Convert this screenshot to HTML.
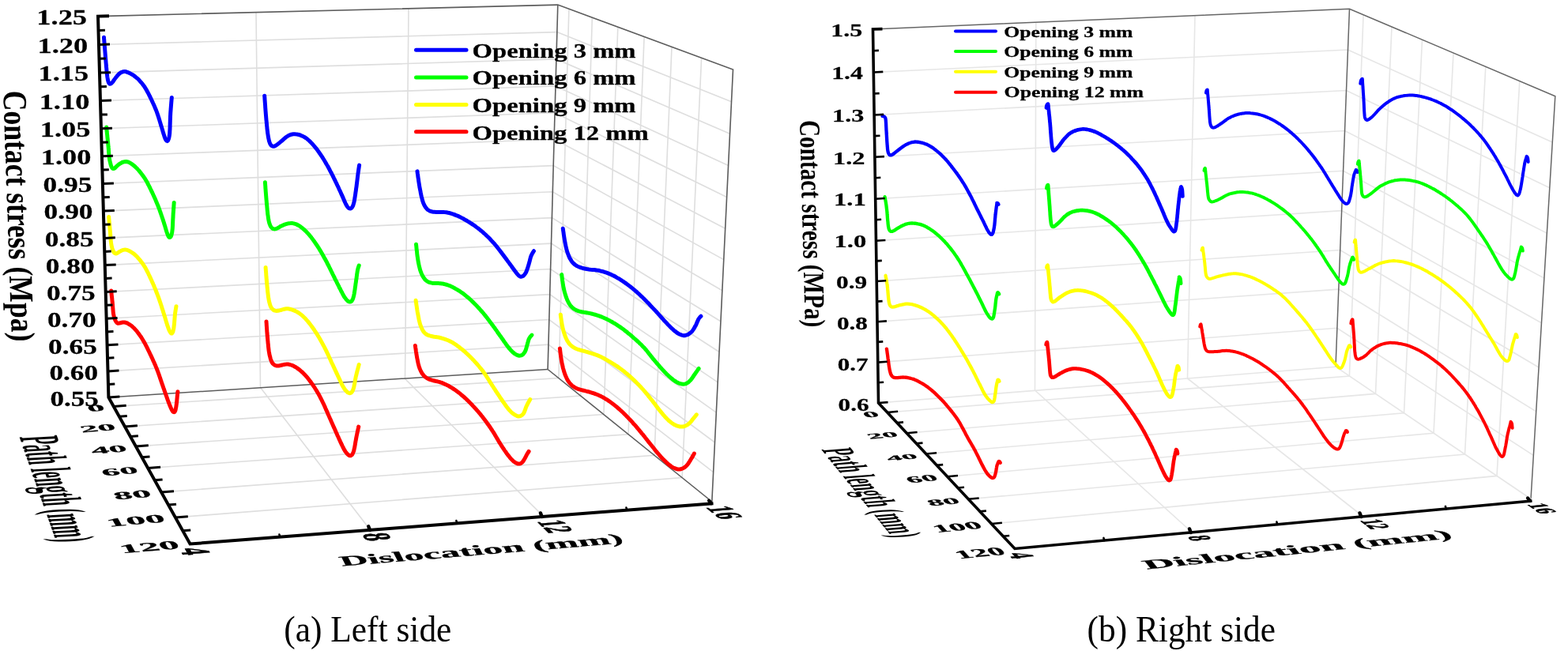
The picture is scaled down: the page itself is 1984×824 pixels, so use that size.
<!DOCTYPE html>
<html lang="en"><head><meta charset="utf-8"><title>Contact stress</title>
<style>html,body{margin:0;padding:0;background:#fff}body{width:1984px;height:824px;overflow:hidden}svg{display:block;filter:blur(0.55px)}</style></head>
<body>
<svg width="1984" height="824" viewBox="0 0 1984 824" font-family="'Liberation Serif', serif" fill="#000">
<rect width="1984" height="824" fill="#fff"/>
<g id="left"><g fill="none"><polyline points="136.5,469.9 694,436.1 902.6,597.6" fill="none" stroke="#dedede" stroke-width="1.6"/><polyline points="135.6,436.7 694.8,404.5 904.5,560" fill="none" stroke="#dedede" stroke-width="1.6"/><polyline points="134.6,403.2 695.7,372.6 906.3,522.1" fill="none" stroke="#dedede" stroke-width="1.6"/><polyline points="133.7,369.5 696.6,340.5 908.2,483.9" fill="none" stroke="#dedede" stroke-width="1.6"/><polyline points="132.7,335.6 697.5,308.1 910.1,445.5" fill="none" stroke="#dedede" stroke-width="1.6"/><polyline points="131.8,301.4 698.4,275.6 911.9,406.8" fill="none" stroke="#dedede" stroke-width="1.6"/><polyline points="130.8,267.1 699.3,242.7 913.8,367.8" fill="none" stroke="#dedede" stroke-width="1.6"/><polyline points="129.9,232.5 700.2,209.6 915.8,328.6" fill="none" stroke="#dedede" stroke-width="1.6"/><polyline points="128.9,197.7 701.1,176.3 917.7,289.2" fill="none" stroke="#dedede" stroke-width="1.6"/><polyline points="127.9,162.8 702,142.8 919.6,249.5" fill="none" stroke="#dedede" stroke-width="1.6"/><polyline points="127,127.5 703,109 921.6,209.5" fill="none" stroke="#dedede" stroke-width="1.6"/><polyline points="126,92.1 703.9,74.9 923.5,169.2" fill="none" stroke="#dedede" stroke-width="1.6"/><polyline points="125,56.5 704.8,40.6 925.5,128.8" fill="none" stroke="#dedede" stroke-width="1.6"/><polyline points="324,16 329.5,490.5 467.5,669.5" fill="none" stroke="#dedede" stroke-width="1.6"/><polyline points="517,10.5 512.5,479.5 685,651" fill="none" stroke="#dedede" stroke-width="1.6"/><polyline points="719.9,11.3 706.9,478.6 143.8,514.5" fill="none" stroke="#dedede" stroke-width="1.6"/><polyline points="749.3,22.2 734.8,501.1 158,540" fill="none" stroke="#dedede" stroke-width="1.6"/><polyline points="781.8,34.2 763.9,524.6 171.9,565" fill="none" stroke="#dedede" stroke-width="1.6"/><polyline points="815.1,46.5 795,549.7 187.1,592.5" fill="none" stroke="#dedede" stroke-width="1.6"/><polyline points="850,59.4 828,576.3 204.1,623" fill="none" stroke="#dedede" stroke-width="1.6"/><polyline points="887.6,73.3 863.1,604.6 221.9,655" fill="none" stroke="#dedede" stroke-width="1.6"/></g>
<polyline points="124,20.6 705.8,6.1 927.5,88 900.8,635" fill="none" stroke="#5c5c5c" stroke-width="1.6"/><line x1="705.8" y1="6.1" x2="693.1" y2="467.5" stroke="#5c5c5c" stroke-width="1.6"/><line x1="137.4" y1="503" x2="693.1" y2="467.5" stroke="#5c5c5c" stroke-width="1.6"/><line x1="693.1" y1="467.5" x2="900.8" y2="635" stroke="#5c5c5c" stroke-width="1.6"/>
<path d="M131.5 47.3C131.5 47.7 131.6 49 131.7 49.8C131.8 50.6 131.8 51.5 131.9 52.3C132 53.1 132 54 132.1 54.8C132.1 55.6 132.2 56.5 132.3 57.3C132.3 58.1 132.4 59 132.5 59.8C132.5 60.6 132.6 61.5 132.7 62.3C132.7 63.1 132.8 64 132.9 64.8C132.9 65.7 133 66.5 133.1 67.3C133.1 68.2 133.2 69 133.3 69.8C133.3 70.7 133.4 71.5 133.5 72.3C133.5 73.2 133.6 74 133.7 74.8C133.8 75.7 133.8 76.5 133.9 77.3C134 78.2 134 79 134.1 79.8C134.2 80.7 134.3 81.5 134.3 82.3C134.4 83.2 134.5 84 134.5 84.8C134.6 85.7 134.7 86.5 134.8 87.3C134.8 88.2 134.9 89 135 89.8C135.1 90.7 135.1 91.5 135.2 92.3C135.3 93.2 135.4 94 135.5 94.8C135.6 95.6 135.7 96.5 135.8 97.3C136 98.1 136.1 99 136.2 99.8C136.4 100.6 136.5 101.4 136.7 102.2C136.9 103 137.1 103.9 137.5 104.5C137.8 105.2 138.2 105.8 138.7 106.1C139.2 106.3 139.9 106.2 140.4 106C141 105.7 141.5 105.1 142 104.5C142.5 103.9 143 103.2 143.5 102.5C144 101.8 144.4 101.1 144.9 100.4C145.4 99.8 145.9 99.1 146.4 98.4C146.9 97.8 147.5 97.1 148 96.5C148.5 95.8 149.1 95.2 149.6 94.6C150.2 94 150.8 93.4 151.5 92.9C152.1 92.4 152.8 91.9 153.5 91.5C154.2 91.2 155 90.9 155.8 90.7C156.6 90.5 157.4 90.5 158.2 90.6C159 90.7 159.8 90.9 160.6 91.2C161.4 91.4 162.2 91.7 162.9 92.1C163.7 92.4 164.4 92.8 165.2 93.2C165.9 93.5 166.6 94 167.4 94.4C168.1 94.8 168.8 95.3 169.5 95.8C170.1 96.2 170.8 96.7 171.5 97.3C172.1 97.8 172.7 98.3 173.4 98.9C174 99.4 174.6 100 175.2 100.6C175.8 101.2 176.4 101.8 176.9 102.4C177.5 103 178 103.7 178.6 104.3C179.1 104.9 179.7 105.6 180.2 106.2C180.7 106.9 181.2 107.6 181.7 108.2C182.2 108.9 182.7 109.6 183.1 110.3C183.6 111 184 111.7 184.5 112.4C184.9 113.1 185.3 113.9 185.7 114.6C186.1 115.3 186.5 116.1 186.9 116.8C187.3 117.5 187.7 118.3 188.1 119C188.5 119.8 188.8 120.5 189.2 121.3C189.6 122 189.9 122.8 190.3 123.5C190.6 124.3 191 125 191.4 125.8C191.7 126.5 192.1 127.3 192.4 128.1C192.8 128.8 193.2 129.6 193.5 130.3C193.9 131.1 194.2 131.9 194.6 132.6C194.9 133.4 195.2 134.1 195.6 134.9C195.9 135.7 196.2 136.5 196.5 137.2C196.9 138 197.2 138.8 197.5 139.6C197.8 140.3 198.1 141.1 198.4 141.9C198.7 142.7 199 143.5 199.2 144.3C199.5 145 199.8 145.8 200 146.6C200.3 147.4 200.6 148.2 200.8 149C201.1 149.8 201.3 150.6 201.6 151.4C201.8 152.2 202 153 202.3 153.8C202.5 154.6 202.8 155.4 203 156.2C203.2 157 203.5 157.8 203.7 158.6C204 159.4 204.2 160.2 204.5 161C204.7 161.8 204.9 162.6 205.2 163.4C205.4 164.2 205.7 165 205.9 165.8C206.1 166.6 206.4 167.4 206.6 168.2C206.9 169 207.1 169.8 207.4 170.6C207.6 171.4 207.9 172.2 208.1 173C208.4 173.8 208.7 174.6 209 175.4C209.3 176.1 209.6 177 210 177.5C210.3 178.1 210.8 178.6 211.2 178.6C211.6 178.7 212.1 178.4 212.5 177.9C212.8 177.4 213.2 176.6 213.4 175.9C213.7 175.1 213.8 174.3 214 173.5C214.2 172.6 214.3 171.8 214.4 171C214.5 170.2 214.6 169.3 214.7 168.5C214.7 167.7 214.8 166.8 214.8 166C214.9 165.2 214.9 164.3 215 163.5C215 162.6 215 161.8 215.1 161C215.1 160.1 215.1 159.3 215.1 158.5C215.2 157.6 215.2 156.8 215.2 156C215.2 155.1 215.3 154.3 215.3 153.4C215.3 152.6 215.3 151.8 215.4 150.9C215.4 150.1 215.4 149.3 215.5 148.4C215.5 147.6 215.5 146.8 215.6 145.9C215.6 145.1 215.7 144.3 215.7 143.4C215.8 142.6 215.8 141.7 215.9 140.9C216 140.1 216 139.2 216.1 138.4C216.1 137.6 216.2 136.7 216.3 135.9C216.3 135.1 216.4 134.2 216.5 133.4C216.5 132.6 216.6 131.7 216.7 130.9C216.7 130.1 216.8 129.2 216.9 128.4C217 127.6 217 126.7 217.1 125.9C217.2 125.1 217.3 123.8 217.3 123.4" fill="none" stroke="#0000ff" stroke-width="5" stroke-linecap="round" stroke-linejoin="round"/><path d="M134.7 161.1C134.7 161.5 134.9 162.8 134.9 163.6C135 164.4 135.1 165.3 135.2 166.1C135.3 166.9 135.4 167.8 135.4 168.6C135.5 169.4 135.6 170.2 135.7 171.1C135.8 171.9 135.8 172.7 135.9 173.6C136 174.4 136.1 175.2 136.2 176.1C136.2 176.9 136.3 177.7 136.4 178.6C136.5 179.4 136.6 180.2 136.7 181.1C136.7 181.9 136.8 182.7 136.9 183.6C137 184.4 137.1 185.2 137.1 186C137.2 186.9 137.3 187.7 137.3 188.5C137.4 189.4 137.5 190.2 137.5 191C137.6 191.9 137.6 192.7 137.7 193.5C137.8 194.4 137.8 195.2 137.9 196C138 196.9 138.1 197.7 138.2 198.5C138.3 199.4 138.4 200.2 138.5 201C138.6 201.8 138.8 202.7 138.9 203.5C139.1 204.3 139.3 205.1 139.5 205.9C139.7 206.7 139.9 207.6 140.1 208.4C140.3 209.2 140.6 210 140.9 210.7C141.2 211.4 141.5 212.2 142 212.7C142.4 213.2 143 213.6 143.5 213.6C144.1 213.7 144.7 213.3 145.3 212.9C145.8 212.5 146.4 211.8 146.9 211.2C147.5 210.6 148.1 210 148.7 209.4C149.3 208.9 150 208.4 150.6 207.9C151.3 207.4 152 207 152.7 206.6C153.5 206.2 154.2 205.7 154.9 205.4C155.7 205.1 156.5 204.8 157.3 204.7C158.1 204.5 158.9 204.5 159.7 204.5C160.5 204.6 161.3 204.8 162.1 205C162.8 205.3 163.6 205.7 164.3 206.1C165.1 206.4 165.8 206.9 166.4 207.4C167.1 207.9 167.8 208.4 168.4 208.9C169.1 209.4 169.7 209.9 170.4 210.5C171 211 171.6 211.6 172.2 212.2C172.8 212.8 173.4 213.4 174 214C174.5 214.6 175.1 215.2 175.7 215.8C176.2 216.4 176.7 217.1 177.3 217.7C177.8 218.4 178.3 219 178.8 219.7C179.4 220.3 179.9 221 180.3 221.7C180.8 222.4 181.3 223 181.8 223.7C182.3 224.4 182.7 225.1 183.2 225.8C183.6 226.5 184.1 227.2 184.5 227.9C184.9 228.7 185.4 229.4 185.8 230.1C186.2 230.8 186.6 231.6 187 232.3C187.3 233.1 187.7 233.8 188.1 234.5C188.5 235.3 188.9 236 189.2 236.8C189.6 237.5 190 238.3 190.3 239C190.7 239.8 191.1 240.5 191.4 241.3C191.8 242 192.1 242.8 192.5 243.6C192.9 244.3 193.2 245.1 193.6 245.8C193.9 246.6 194.3 247.3 194.6 248.1C195 248.9 195.3 249.6 195.7 250.4C196 251.1 196.3 251.9 196.7 252.7C197 253.4 197.3 254.2 197.6 255C198 255.7 198.3 256.5 198.6 257.3C198.9 258.1 199.2 258.8 199.6 259.6C199.9 260.4 200.2 261.2 200.5 261.9C200.8 262.7 201.1 263.5 201.4 264.3C201.7 265.1 201.9 265.9 202.2 266.6C202.5 267.4 202.8 268.2 203.1 269C203.3 269.8 203.6 270.6 203.9 271.4C204.2 272.2 204.4 273 204.7 273.7C205 274.5 205.2 275.3 205.5 276.1C205.8 276.9 206 277.7 206.3 278.5C206.6 279.3 206.8 280.1 207.1 280.9C207.3 281.7 207.6 282.5 207.8 283.3C208.1 284.1 208.3 284.9 208.6 285.7C208.8 286.5 209 287.3 209.3 288.1C209.5 288.9 209.7 289.7 210 290.5C210.2 291.3 210.5 292.1 210.7 292.9C211 293.7 211.2 294.5 211.5 295.2C211.8 296 212.1 296.8 212.4 297.6C212.7 298.3 213 299.1 213.4 299.6C213.8 300.1 214.3 300.6 214.7 300.5C215.2 300.5 215.7 300.1 216 299.6C216.4 299.1 216.7 298.2 216.9 297.5C217.2 296.7 217.3 295.9 217.5 295.1C217.7 294.3 217.8 293.4 217.9 292.6C218 291.8 218.1 291 218.2 290.1C218.3 289.3 218.3 288.5 218.4 287.6C218.4 286.8 218.5 286 218.5 285.1C218.6 284.3 218.6 283.5 218.6 282.6C218.7 281.8 218.7 280.9 218.7 280.1C218.8 279.3 218.8 278.4 218.8 277.6C218.9 276.8 218.9 275.9 219 275.1C219 274.3 219 273.4 219.1 272.6C219.1 271.8 219.2 270.9 219.2 270.1C219.3 269.3 219.4 268.4 219.4 267.6C219.5 266.8 219.5 265.9 219.6 265.1C219.6 264.3 219.7 263.4 219.8 262.6C219.8 261.8 219.9 260.9 219.9 260.1C220 259.3 220.1 258.2 220.1 257.6C220.2 257 220.2 256.8 220.2 256.6" fill="none" stroke="#00ff00" stroke-width="5" stroke-linecap="round" stroke-linejoin="round"/><path d="M137.7 274.6C137.7 275 137.8 276.3 137.9 277.1C138 277.9 138.1 278.8 138.1 279.6C138.2 280.4 138.3 281.3 138.4 282.1C138.4 282.9 138.5 283.8 138.6 284.6C138.7 285.4 138.7 286.2 138.8 287.1C138.9 287.9 139 288.7 139 289.6C139.1 290.4 139.2 291.2 139.3 292.1C139.3 292.9 139.4 293.7 139.5 294.6C139.5 295.4 139.6 296.2 139.7 297.1C139.7 297.9 139.8 298.7 139.8 299.6C139.9 300.4 140 301.2 140 302.1C140.1 302.9 140.2 303.7 140.2 304.6C140.3 305.4 140.4 306.2 140.5 307C140.6 307.9 140.7 308.7 140.9 309.5C141 310.3 141.2 311.2 141.4 312C141.6 312.8 141.8 313.6 142 314.4C142.3 315.2 142.5 316 142.9 316.8C143.2 317.5 143.5 318.3 143.9 319C144.3 319.6 144.8 320.3 145.4 320.6C146 320.9 146.6 321 147.3 320.8C147.9 320.7 148.6 320.2 149.3 319.8C149.9 319.4 150.6 318.9 151.3 318.5C152 318 152.7 317.6 153.5 317.3C154.2 316.9 155 316.6 155.8 316.4C156.6 316.2 157.4 316.1 158.2 316.1C159 316.1 159.8 316.2 160.6 316.4C161.4 316.6 162.2 316.9 162.9 317.3C163.7 317.6 164.4 318 165.1 318.4C165.9 318.8 166.6 319.3 167.3 319.8C167.9 320.2 168.6 320.7 169.3 321.2C169.9 321.7 170.6 322.3 171.2 322.8C171.8 323.4 172.4 324 173 324.6C173.6 325.2 174.1 325.8 174.7 326.4C175.3 327 175.8 327.7 176.3 328.3C176.9 328.9 177.4 329.6 177.9 330.2C178.4 330.9 178.9 331.6 179.4 332.2C179.9 332.9 180.4 333.6 180.9 334.3C181.3 335 181.8 335.7 182.3 336.4C182.7 337.1 183.2 337.8 183.6 338.5C184 339.2 184.4 339.9 184.8 340.7C185.2 341.4 185.6 342.1 186 342.9C186.4 343.6 186.8 344.4 187.1 345.1C187.5 345.9 187.9 346.6 188.2 347.4C188.6 348.1 188.9 348.9 189.3 349.6C189.6 350.4 190 351.2 190.3 351.9C190.7 352.7 191 353.4 191.4 354.2C191.7 355 192 355.7 192.4 356.5C192.7 357.3 193.1 358 193.4 358.8C193.7 359.5 194.1 360.3 194.4 361.1C194.7 361.8 195.1 362.6 195.4 363.4C195.7 364.1 196 364.9 196.4 365.7C196.7 366.5 197 367.2 197.3 368C197.6 368.8 197.9 369.6 198.2 370.3C198.5 371.1 198.8 371.9 199.1 372.7C199.4 373.5 199.7 374.2 200 375C200.3 375.8 200.6 376.6 200.9 377.4C201.1 378.2 201.4 379 201.7 379.7C202 380.5 202.2 381.3 202.5 382.1C202.8 382.9 203 383.7 203.3 384.5C203.5 385.3 203.8 386.1 204.1 386.9C204.3 387.7 204.6 388.5 204.8 389.3C205.1 390.1 205.3 390.9 205.6 391.7C205.8 392.4 206.1 393.2 206.3 394C206.6 394.8 206.8 395.6 207.1 396.4C207.3 397.2 207.6 398 207.8 398.8C208.1 399.6 208.3 400.4 208.6 401.2C208.8 402 209 402.8 209.3 403.6C209.5 404.4 209.7 405.2 210 406C210.2 406.8 210.5 407.6 210.7 408.4C211 409.2 211.2 410 211.5 410.8C211.7 411.6 212 412.4 212.3 413.2C212.5 414 212.8 414.8 213.1 415.5C213.4 416.3 213.7 417.1 214 417.9C214.4 418.6 214.7 419.4 215.1 420.1C215.5 420.8 215.9 421.5 216.3 421.8C216.8 422.1 217.3 422.2 217.7 421.9C218.1 421.7 218.4 421 218.7 420.3C219 419.7 219.1 418.8 219.3 418C219.5 417.2 219.6 416.4 219.8 415.6C219.9 414.7 220 413.9 220.1 413.1C220.2 412.2 220.3 411.4 220.4 410.6C220.5 409.8 220.6 408.9 220.6 408.1C220.7 407.3 220.7 406.4 220.8 405.6C220.9 404.8 220.9 403.9 221 403.1C221 402.3 221.1 401.4 221.2 400.6C221.3 399.8 221.3 398.9 221.4 398.1C221.5 397.3 221.6 396.4 221.7 395.6C221.8 394.8 222 394 222.1 393.1C222.2 392.3 222.4 391.5 222.5 390.7C222.6 389.8 222.8 388.7 222.9 388.2C223 387.7 223 387.8 223 387.7" fill="none" stroke="#ffff00" stroke-width="5" stroke-linecap="round" stroke-linejoin="round"/><path d="M140.7 368.1C140.7 368.5 140.9 369.8 141 370.6C141.1 371.4 141.1 372.3 141.2 373.1C141.3 373.9 141.4 374.8 141.5 375.6C141.6 376.4 141.7 377.3 141.8 378.1C141.8 378.9 141.9 379.8 142 380.6C142.1 381.4 142.2 382.3 142.3 383.1C142.3 383.9 142.4 384.8 142.5 385.6C142.5 386.4 142.6 387.3 142.7 388.1C142.7 388.9 142.8 389.8 142.9 390.6C142.9 391.4 143 392.3 143.1 393.1C143.1 393.9 143.2 394.8 143.3 395.6C143.4 396.4 143.5 397.3 143.7 398.1C143.8 398.9 144 399.7 144.2 400.5C144.4 401.3 144.6 402.1 144.9 402.9C145.2 403.7 145.4 404.5 145.8 405.3C146.1 406 146.5 406.8 147 407.4C147.4 408 148 408.6 148.6 408.9C149.2 409.2 149.9 409.2 150.7 409.1C151.4 409 152.2 408.7 153 408.5C153.7 408.3 154.5 408.1 155.3 408C156.1 407.9 157 407.9 157.8 408C158.6 408.1 159.3 408.4 160.1 408.7C160.9 409 161.6 409.4 162.4 409.8C163.1 410.2 163.8 410.6 164.5 411.1C165.2 411.5 165.9 412 166.5 412.5C167.2 413 167.8 413.6 168.4 414.2C169.1 414.7 169.6 415.3 170.2 415.9C170.8 416.5 171.3 417.2 171.9 417.8C172.4 418.4 173 419.1 173.5 419.7C174 420.4 174.5 421.1 175 421.7C175.5 422.4 176 423.1 176.5 423.8C177 424.4 177.5 425.1 177.9 425.8C178.4 426.5 178.9 427.2 179.3 427.9C179.8 428.6 180.2 429.3 180.6 430C181.1 430.8 181.5 431.5 181.9 432.2C182.3 432.9 182.7 433.7 183.2 434.4C183.6 435.1 183.9 435.9 184.3 436.6C184.7 437.4 185.1 438.1 185.5 438.8C185.9 439.6 186.2 440.3 186.6 441.1C187 441.8 187.3 442.6 187.7 443.4C188.1 444.1 188.4 444.9 188.8 445.6C189.2 446.4 189.5 447.1 189.9 447.9C190.2 448.6 190.6 449.4 191 450.1C191.3 450.9 191.7 451.7 192 452.4C192.4 453.2 192.7 453.9 193.1 454.7C193.4 455.5 193.8 456.2 194.1 457C194.5 457.7 194.8 458.5 195.2 459.3C195.5 460 195.8 460.8 196.2 461.6C196.5 462.3 196.8 463.1 197.1 463.9C197.4 464.7 197.8 465.4 198.1 466.2C198.4 467 198.7 467.8 199 468.6C199.3 469.3 199.6 470.1 199.9 470.9C200.2 471.7 200.5 472.5 200.8 473.3C201 474 201.3 474.8 201.6 475.6C201.9 476.4 202.1 477.2 202.4 478C202.7 478.8 203 479.6 203.2 480.4C203.5 481.2 203.8 482 204 482.8C204.3 483.5 204.6 484.3 204.8 485.1C205.1 485.9 205.4 486.7 205.7 487.5C205.9 488.3 206.2 489.1 206.5 489.9C206.8 490.7 207 491.5 207.3 492.2C207.6 493 207.9 493.8 208.1 494.6C208.4 495.4 208.7 496.2 209 497C209.2 497.8 209.5 498.6 209.8 499.4C210.1 500.2 210.4 500.9 210.6 501.7C210.9 502.5 211.2 503.3 211.5 504.1C211.8 504.9 212 505.7 212.3 506.5C212.6 507.2 212.9 508 213.2 508.8C213.5 509.6 213.8 510.4 214.1 511.2C214.4 511.9 214.7 512.7 215 513.5C215.3 514.3 215.7 515 216 515.8C216.3 516.6 216.7 517.4 217 518.1C217.4 518.8 217.8 519.6 218.2 520.2C218.7 520.8 219.1 521.5 219.6 521.6C220 521.8 220.6 521.7 220.9 521.4C221.3 521 221.6 520.2 221.9 519.5C222.1 518.8 222.3 518 222.4 517.1C222.6 516.3 222.7 515.5 222.9 514.7C223 513.8 223.1 513 223.2 512.2C223.4 511.4 223.5 510.5 223.5 509.7C223.6 508.9 223.7 508 223.8 507.2C223.9 506.4 223.9 505.5 224 504.7C224.1 503.9 224.2 503 224.2 502.2C224.3 501.4 224.4 500.5 224.5 499.7C224.6 498.9 224.7 497.9 224.7 497.2C224.8 496.5 224.9 495.9 224.9 495.7" fill="none" stroke="#ff0000" stroke-width="5" stroke-linecap="round" stroke-linejoin="round"/><path d="M334.7 121.2C334.7 121.6 334.8 122.9 334.9 123.7C334.9 124.5 335 125.4 335 126.2C335.1 127 335.2 127.9 335.2 128.7C335.3 129.5 335.3 130.4 335.4 131.2C335.4 132 335.5 132.9 335.6 133.7C335.6 134.5 335.7 135.4 335.7 136.2C335.8 137 335.9 137.9 335.9 138.7C336 139.5 336 140.4 336.1 141.2C336.2 142 336.2 142.9 336.3 143.7C336.4 144.5 336.4 145.4 336.5 146.2C336.6 147 336.7 147.8 336.7 148.7C336.8 149.5 336.9 150.3 336.9 151.2C337 152 337.1 152.8 337.2 153.7C337.2 154.5 337.3 155.3 337.4 156.2C337.5 157 337.5 157.8 337.6 158.7C337.7 159.5 337.8 160.3 337.9 161.2C337.9 162 338 162.8 338.1 163.6C338.2 164.5 338.3 165.3 338.4 166.1C338.5 167 338.6 167.8 338.7 168.6C338.8 169.4 339 170.3 339.1 171.1C339.2 171.9 339.3 172.7 339.5 173.6C339.6 174.4 339.8 175.2 340 176C340.1 176.8 340.3 177.7 340.5 178.5C340.8 179.3 341 180.1 341.3 180.8C341.6 181.6 341.9 182.4 342.4 183C342.8 183.7 343.4 184.3 344 184.7C344.6 185.1 345.3 185.3 346 185.3C346.7 185.2 347.5 185 348.2 184.6C348.9 184.3 349.6 183.8 350.3 183.3C351 182.9 351.6 182.3 352.3 181.8C352.9 181.3 353.6 180.8 354.2 180.2C354.9 179.7 355.5 179.2 356.1 178.6C356.8 178.1 357.4 177.5 358 177C358.7 176.4 359.3 175.9 359.9 175.3C360.5 174.8 361.2 174.2 361.8 173.7C362.5 173.2 363.2 172.7 363.9 172.3C364.6 171.9 365.3 171.5 366.1 171.2C366.9 170.8 367.6 170.5 368.4 170.3C369.2 170.1 370 169.9 370.9 169.8C371.7 169.7 372.5 169.7 373.3 169.7C374.2 169.8 375 169.9 375.8 170C376.6 170.1 377.4 170.3 378.2 170.5C379 170.7 379.8 171 380.6 171.3C381.4 171.6 382.2 171.9 382.9 172.3C383.7 172.6 384.4 173 385.1 173.5C385.8 173.9 386.5 174.4 387.2 174.8C387.9 175.3 388.5 175.8 389.2 176.4C389.8 176.9 390.5 177.4 391.1 178C391.7 178.6 392.3 179.1 392.9 179.7C393.5 180.3 394.1 180.9 394.6 181.5C395.2 182.1 395.8 182.7 396.3 183.4C396.9 184 397.4 184.6 398 185.3C398.5 185.9 399 186.5 399.5 187.2C400 187.9 400.6 188.5 401.1 189.2C401.6 189.9 402 190.5 402.5 191.2C403 191.9 403.5 192.6 404 193.3C404.5 193.9 404.9 194.6 405.4 195.3C405.9 196 406.3 196.7 406.8 197.4C407.3 198.1 407.7 198.8 408.2 199.5C408.6 200.2 409.1 200.9 409.5 201.6C410 202.3 410.4 203 410.8 203.7C411.3 204.5 411.7 205.2 412.1 205.9C412.5 206.6 412.9 207.3 413.3 208.1C413.8 208.8 414.2 209.5 414.6 210.3C415 211 415.4 211.7 415.8 212.5C416.2 213.2 416.6 213.9 417 214.7C417.3 215.4 417.7 216.1 418.1 216.9C418.5 217.6 418.9 218.4 419.3 219.1C419.7 219.8 420 220.6 420.4 221.3C420.8 222.1 421.2 222.8 421.5 223.6C421.9 224.3 422.3 225.1 422.6 225.8C423 226.6 423.4 227.3 423.7 228.1C424.1 228.8 424.5 229.6 424.8 230.3C425.2 231.1 425.6 231.8 425.9 232.6C426.3 233.3 426.6 234.1 427 234.9C427.4 235.6 427.7 236.4 428.1 237.1C428.4 237.9 428.8 238.6 429.1 239.4C429.5 240.1 429.8 240.9 430.2 241.7C430.5 242.4 430.9 243.2 431.2 243.9C431.5 244.7 431.9 245.5 432.2 246.2C432.6 247 432.9 247.7 433.3 248.5C433.6 249.3 433.9 250 434.3 250.8C434.6 251.6 434.9 252.3 435.3 253.1C435.6 253.9 435.9 254.6 436.2 255.4C436.6 256.2 436.9 256.9 437.3 257.7C437.7 258.4 438.1 259.2 438.5 259.9C438.9 260.6 439.3 261.4 439.8 262C440.3 262.6 440.8 263.3 441.4 263.6C442 263.9 442.7 264.1 443.3 264C443.9 263.9 444.6 263.4 445.1 262.9C445.6 262.4 446 261.7 446.4 260.9C446.7 260.2 447 259.4 447.2 258.6C447.5 257.8 447.7 257 447.9 256.2C448.1 255.4 448.2 254.6 448.4 253.8C448.5 252.9 448.7 252.1 448.8 251.3C448.9 250.5 449.1 249.6 449.2 248.8C449.3 248 449.4 247.2 449.6 246.3C449.7 245.5 449.8 244.7 449.9 243.9C450 243 450.2 242.2 450.3 241.4C450.4 240.5 450.5 239.7 450.6 238.9C450.7 238.1 450.9 237.2 451 236.4C451.1 235.6 451.2 234.8 451.3 233.9C451.4 233.1 451.5 232.3 451.6 231.4C451.7 230.6 451.8 229.8 451.9 229C452 228.1 452.1 227.3 452.2 226.5C452.3 225.6 452.4 224.8 452.5 224C452.6 223.2 452.7 222.3 452.8 221.5C452.9 220.7 453 219.8 453.1 219C453.2 218.2 453.4 217.4 453.5 216.5C453.6 215.7 453.7 214.9 453.8 214.1C454 213.2 454.1 212.4 454.2 211.6C454.3 210.8 454.5 209.5 454.6 209.1" fill="none" stroke="#0000ff" stroke-width="5" stroke-linecap="round" stroke-linejoin="round"/><path d="M335.4 230.8C335.4 231.2 335.5 232.5 335.6 233.3C335.6 234.1 335.7 235 335.8 235.8C335.8 236.6 335.9 237.5 335.9 238.3C336 239.1 336.1 240 336.1 240.8C336.2 241.6 336.2 242.5 336.3 243.3C336.4 244.1 336.4 245 336.5 245.8C336.6 246.6 336.6 247.5 336.7 248.3C336.8 249.1 336.8 250 336.9 250.8C337 251.6 337 252.5 337.1 253.3C337.2 254.1 337.3 254.9 337.3 255.8C337.4 256.6 337.5 257.4 337.5 258.3C337.6 259.1 337.7 259.9 337.8 260.8C337.8 261.6 337.9 262.4 338 263.3C338.1 264.1 338.1 264.9 338.2 265.8C338.3 266.6 338.4 267.4 338.5 268.3C338.6 269.1 338.6 269.9 338.7 270.7C338.8 271.6 338.9 272.4 339.1 273.2C339.2 274.1 339.3 274.9 339.4 275.7C339.5 276.5 339.7 277.4 339.8 278.2C340 279 340.1 279.8 340.3 280.6C340.5 281.4 340.7 282.2 341 283C341.3 283.8 341.5 284.6 341.9 285.4C342.3 286.1 342.6 286.8 343.1 287.5C343.6 288.1 344.2 288.7 344.8 289.1C345.4 289.5 346.2 289.8 346.9 289.9C347.7 290 348.5 289.8 349.2 289.6C350 289.4 350.7 289 351.4 288.6C352.2 288.2 352.9 287.7 353.6 287.3C354.3 286.9 355 286.5 355.8 286.1C356.5 285.7 357.3 285.4 358.1 285.1C358.8 284.7 359.6 284.5 360.4 284.2C361.2 283.9 362 283.6 362.8 283.4C363.6 283.2 364.4 282.9 365.2 282.8C366 282.6 366.8 282.5 367.6 282.5C368.5 282.4 369.3 282.5 370.1 282.6C370.9 282.7 371.8 282.8 372.5 283.1C373.3 283.3 374.1 283.6 374.9 283.9C375.6 284.2 376.4 284.6 377.1 285C377.9 285.4 378.6 285.8 379.3 286.3C380 286.8 380.6 287.2 381.3 287.7C382 288.2 382.6 288.7 383.3 289.3C383.9 289.8 384.5 290.4 385.2 290.9C385.8 291.5 386.4 292.1 387 292.7C387.6 293.2 388.1 293.8 388.7 294.5C389.3 295.1 389.8 295.7 390.4 296.3C391 296.9 391.5 297.6 392 298.2C392.6 298.8 393.1 299.5 393.6 300.1C394.1 300.8 394.6 301.5 395.1 302.1C395.6 302.8 396.1 303.5 396.6 304.1C397.1 304.8 397.6 305.5 398.1 306.2C398.6 306.9 399 307.6 399.5 308.3C400 308.9 400.4 309.6 400.9 310.3C401.4 311 401.8 311.7 402.3 312.4C402.7 313.1 403.2 313.8 403.6 314.5C404 315.3 404.5 316 404.9 316.7C405.4 317.4 405.8 318.1 406.2 318.8C406.6 319.6 407 320.3 407.5 321C407.9 321.7 408.3 322.5 408.7 323.2C409.1 323.9 409.5 324.6 409.9 325.4C410.3 326.1 410.7 326.8 411.1 327.6C411.5 328.3 411.9 329 412.3 329.8C412.7 330.5 413.1 331.2 413.5 332C413.9 332.7 414.2 333.5 414.6 334.2C415 334.9 415.4 335.7 415.8 336.4C416.2 337.2 416.5 337.9 416.9 338.7C417.3 339.4 417.6 340.2 418 340.9C418.4 341.7 418.7 342.4 419.1 343.2C419.5 343.9 419.8 344.7 420.2 345.4C420.6 346.2 420.9 346.9 421.3 347.7C421.7 348.4 422 349.2 422.4 349.9C422.8 350.7 423.2 351.4 423.5 352.2C423.9 352.9 424.3 353.7 424.6 354.4C425 355.2 425.4 355.9 425.8 356.6C426.1 357.4 426.5 358.1 426.9 358.9C427.3 359.6 427.6 360.4 428 361.1C428.4 361.9 428.8 362.6 429.1 363.4C429.5 364.1 429.9 364.9 430.3 365.6C430.7 366.3 431 367.1 431.4 367.8C431.8 368.6 432.2 369.3 432.6 370.1C433 370.8 433.3 371.5 433.7 372.3C434.1 373 434.5 373.7 434.9 374.5C435.4 375.2 435.8 375.9 436.3 376.6C436.7 377.3 437.2 377.9 437.8 378.6C438.3 379.2 438.8 379.9 439.4 380.4C440 380.9 440.7 381.5 441.3 381.8C442 382.1 442.7 382.2 443.3 382C444 381.9 444.6 381.4 445.1 380.9C445.6 380.3 445.9 379.6 446.3 378.8C446.6 378.1 446.9 377.3 447.1 376.5C447.3 375.7 447.5 374.9 447.7 374.1C447.9 373.2 448 372.4 448.2 371.6C448.3 370.8 448.5 370 448.6 369.1C448.7 368.3 448.9 367.5 449 366.7C449.1 365.8 449.2 365 449.3 364.2C449.4 363.3 449.6 362.5 449.7 361.7C449.8 360.9 449.9 360 450 359.2C450.1 358.4 450.3 357.6 450.4 356.7C450.5 355.9 450.6 355.1 450.7 354.3C450.9 353.4 451 352.6 451.1 351.8C451.2 350.9 451.3 350.1 451.4 349.3C451.5 348.5 451.6 347.6 451.7 346.8C451.9 346 452 345.2 452.1 344.3C452.2 343.5 452.4 342.7 452.5 341.9C452.7 341 452.9 340.2 453.1 339.4C453.3 338.6 453.7 337.6 453.9 337C454.1 336.5 454.1 336.3 454.2 336.1" fill="none" stroke="#00ff00" stroke-width="5" stroke-linecap="round" stroke-linejoin="round"/><path d="M336.1 338.4C336.1 338.8 336.2 340.1 336.3 340.9C336.3 341.7 336.4 342.6 336.5 343.4C336.5 344.2 336.6 345.1 336.7 345.9C336.7 346.7 336.8 347.6 336.8 348.4C336.9 349.2 337 350.1 337 350.9C337.1 351.7 337.2 352.6 337.2 353.4C337.3 354.2 337.4 355.1 337.4 355.9C337.5 356.7 337.6 357.6 337.7 358.4C337.7 359.2 337.8 360.1 337.9 360.9C338 361.7 338.1 362.6 338.1 363.4C338.2 364.2 338.3 365.1 338.4 365.9C338.5 366.7 338.5 367.6 338.6 368.4C338.7 369.2 338.8 370.1 338.9 370.9C339 371.7 339.1 372.5 339.2 373.4C339.3 374.2 339.4 375 339.5 375.9C339.6 376.7 339.8 377.5 339.9 378.3C340.1 379.2 340.2 380 340.4 380.8C340.6 381.6 340.7 382.4 340.9 383.2C341.2 384 341.4 384.9 341.6 385.6C341.9 386.4 342.2 387.2 342.5 388C342.9 388.7 343.3 389.5 343.8 390.1C344.3 390.8 344.8 391.4 345.4 391.9C346.1 392.4 346.8 392.8 347.5 393C348.3 393.3 349.1 393.4 349.9 393.4C350.7 393.5 351.5 393.3 352.3 393.2C353.1 393.1 353.9 392.8 354.8 392.6C355.6 392.4 356.4 392.1 357.2 391.9C358 391.7 358.8 391.5 359.6 391.3C360.4 391.1 361.2 390.9 362 390.8C362.8 390.8 363.7 390.7 364.5 390.8C365.3 390.9 366.1 391.1 366.9 391.2C367.7 391.4 368.5 391.7 369.3 392C370.1 392.2 370.9 392.5 371.7 392.8C372.4 393.1 373.2 393.5 374 393.8C374.7 394.2 375.5 394.6 376.2 395C376.9 395.4 377.6 395.8 378.3 396.3C379 396.8 379.7 397.3 380.3 397.8C381 398.3 381.6 398.8 382.3 399.4C382.9 399.9 383.5 400.5 384.1 401.1C384.7 401.6 385.3 402.2 385.9 402.8C386.5 403.4 387 404 387.6 404.7C388.2 405.3 388.7 405.9 389.3 406.5C389.8 407.2 390.3 407.8 390.9 408.5C391.4 409.1 391.9 409.8 392.4 410.4C392.9 411.1 393.4 411.8 393.9 412.4C394.4 413.1 394.9 413.8 395.4 414.5C395.9 415.2 396.4 415.8 396.8 416.5C397.3 417.2 397.8 417.9 398.2 418.6C398.7 419.3 399.2 420 399.6 420.7C400.1 421.4 400.5 422.1 401 422.8C401.4 423.5 401.9 424.2 402.3 424.9C402.7 425.7 403.2 426.4 403.6 427.1C404 427.8 404.4 428.5 404.9 429.3C405.3 430 405.7 430.7 406.1 431.4C406.5 432.2 406.9 432.9 407.3 433.6C407.7 434.4 408.1 435.1 408.5 435.8C408.9 436.6 409.3 437.3 409.7 438C410.1 438.8 410.5 439.5 410.9 440.3C411.2 441 411.6 441.8 412 442.5C412.4 443.2 412.7 444 413.1 444.7C413.5 445.5 413.8 446.2 414.2 447C414.6 447.8 414.9 448.5 415.3 449.3C415.6 450 416 450.8 416.3 451.5C416.7 452.3 417 453.1 417.4 453.8C417.7 454.6 418.1 455.3 418.4 456.1C418.8 456.9 419.1 457.6 419.4 458.4C419.8 459.1 420.1 459.9 420.5 460.7C420.9 461.4 421.2 462.2 421.6 462.9C421.9 463.7 422.3 464.5 422.6 465.2C423 466 423.3 466.7 423.7 467.5C424 468.2 424.4 469 424.7 469.8C425.1 470.5 425.4 471.3 425.8 472C426.1 472.8 426.5 473.6 426.9 474.3C427.2 475.1 427.6 475.8 427.9 476.6C428.3 477.3 428.6 478.1 429 478.8C429.4 479.6 429.7 480.4 430.1 481.1C430.4 481.9 430.8 482.6 431.1 483.4C431.5 484.2 431.8 484.9 432.2 485.7C432.5 486.4 432.9 487.2 433.3 487.9C433.7 488.7 434 489.4 434.5 490.1C434.9 490.8 435.3 491.5 435.8 492.2C436.3 492.9 436.8 493.6 437.4 494.2C437.9 494.8 438.5 495.4 439.1 495.9C439.7 496.5 440.4 497 441.1 497.3C441.8 497.6 442.5 497.7 443.2 497.6C443.8 497.5 444.5 497.1 445 496.6C445.5 496.1 445.9 495.3 446.2 494.6C446.6 493.9 446.8 493.1 447.1 492.3C447.4 491.5 447.6 490.7 447.8 489.9C448 489 448.1 488.2 448.3 487.4C448.5 486.6 448.6 485.8 448.8 484.9C448.9 484.1 449 483.3 449.2 482.5C449.3 481.6 449.5 480.8 449.6 480C449.8 479.2 450 478.4 450.1 477.5C450.3 476.7 450.5 475.9 450.7 475.1C450.9 474.3 451.1 473.5 451.3 472.7C451.5 471.9 451.7 471 451.9 470.2C452.1 469.4 452.3 468.6 452.5 467.8C452.8 467 453 466.2 453.2 465.4C453.4 464.6 453.6 463.6 453.8 463C454 462.3 454.1 461.7 454.2 461.5" fill="none" stroke="#ffff00" stroke-width="5" stroke-linecap="round" stroke-linejoin="round"/><path d="M337 406.9C337 407.3 337.1 408.6 337.2 409.4C337.2 410.2 337.3 411.1 337.3 411.9C337.4 412.7 337.4 413.6 337.5 414.4C337.5 415.2 337.6 416.1 337.7 416.9C337.7 417.7 337.8 418.6 337.8 419.4C337.9 420.2 338 421.1 338 421.9C338.1 422.7 338.2 423.6 338.2 424.4C338.3 425.2 338.4 426.1 338.4 426.9C338.5 427.7 338.6 428.6 338.7 429.4C338.7 430.2 338.8 431.1 338.9 431.9C339 432.7 339 433.6 339.1 434.4C339.2 435.2 339.3 436.1 339.4 436.9C339.4 437.7 339.5 438.6 339.6 439.4C339.7 440.2 339.8 441 339.9 441.9C340 442.7 340.1 443.5 340.2 444.4C340.4 445.2 340.5 446 340.6 446.8C340.8 447.7 340.9 448.5 341.1 449.3C341.3 450.1 341.5 450.9 341.7 451.7C341.9 452.5 342.1 453.4 342.3 454.2C342.6 454.9 342.8 455.7 343.2 456.5C343.5 457.3 343.8 458 344.2 458.8C344.7 459.5 345.1 460.2 345.7 460.7C346.2 461.3 346.9 461.8 347.6 462.2C348.3 462.5 349.1 462.7 349.8 462.9C350.6 463 351.5 463 352.3 462.9C353.1 462.9 353.9 462.7 354.7 462.6C355.6 462.4 356.4 462.2 357.2 462C358 461.8 358.8 461.6 359.6 461.4C360.4 461.3 361.3 461.1 362.1 461.1C362.9 461 363.7 461 364.6 461.1C365.4 461.2 366.2 461.4 367 461.6C367.8 461.8 368.6 462 369.4 462.3C370.1 462.6 370.9 463 371.6 463.4C372.4 463.7 373.1 464.2 373.8 464.6C374.6 465 375.3 465.5 375.9 465.9C376.6 466.4 377.3 466.9 378 467.4C378.7 467.9 379.3 468.4 379.9 468.9C380.6 469.5 381.2 470 381.8 470.6C382.5 471.1 383.1 471.7 383.7 472.3C384.3 472.9 384.8 473.5 385.4 474.1C386 474.7 386.6 475.3 387.1 475.9C387.7 476.6 388.2 477.2 388.8 477.8C389.3 478.5 389.8 479.1 390.3 479.8C390.9 480.4 391.4 481.1 391.9 481.8C392.4 482.4 392.9 483.1 393.4 483.8C393.9 484.4 394.3 485.1 394.8 485.8C395.3 486.5 395.8 487.2 396.3 487.9C396.7 488.6 397.2 489.3 397.6 489.9C398.1 490.6 398.6 491.3 399 492.1C399.5 492.8 399.9 493.5 400.3 494.2C400.8 494.9 401.2 495.6 401.6 496.3C402 497.1 402.4 497.8 402.9 498.5C403.3 499.2 403.7 500 404.1 500.7C404.5 501.4 404.8 502.2 405.2 502.9C405.6 503.7 406 504.4 406.4 505.2C406.8 505.9 407.1 506.7 407.5 507.4C407.9 508.2 408.2 508.9 408.6 509.7C409 510.4 409.3 511.2 409.7 511.9C410 512.7 410.4 513.4 410.7 514.2C411.1 515 411.4 515.7 411.7 516.5C412.1 517.3 412.4 518 412.7 518.8C413.1 519.5 413.4 520.3 413.8 521.1C414.1 521.8 414.4 522.6 414.7 523.4C415.1 524.1 415.4 524.9 415.8 525.7C416.1 526.4 416.4 527.2 416.8 528C417.1 528.7 417.4 529.5 417.8 530.3C418.1 531 418.5 531.8 418.8 532.6C419.1 533.3 419.5 534.1 419.8 534.8C420.1 535.6 420.5 536.4 420.8 537.1C421.2 537.9 421.5 538.7 421.8 539.4C422.2 540.2 422.5 541 422.9 541.7C423.2 542.5 423.5 543.3 423.9 544C424.2 544.8 424.6 545.5 424.9 546.3C425.2 547.1 425.6 547.8 425.9 548.6C426.3 549.4 426.6 550.1 426.9 550.9C427.3 551.6 427.6 552.4 428 553.2C428.3 553.9 428.7 554.7 429 555.5C429.3 556.2 429.7 557 430 557.7C430.4 558.5 430.7 559.3 431.1 560C431.4 560.8 431.8 561.5 432.1 562.3C432.5 563 432.9 563.8 433.2 564.5C433.6 565.3 434 566 434.3 566.8C434.7 567.5 435.1 568.3 435.5 569C435.9 569.7 436.3 570.5 436.8 571.2C437.3 571.9 437.7 572.5 438.3 573.2C438.8 573.8 439.3 574.5 439.9 575C440.5 575.6 441.1 576.1 441.8 576.4C442.4 576.7 443.2 576.9 443.8 576.7C444.4 576.6 445 576.1 445.5 575.6C445.9 575 446.3 574.2 446.6 573.5C447 572.8 447.2 571.9 447.5 571.2C447.7 570.4 448 569.5 448.1 568.7C448.3 567.9 448.5 567.1 448.7 566.3C448.8 565.5 449 564.6 449.1 563.8C449.3 563 449.4 562.2 449.5 561.4C449.7 560.5 449.8 559.7 449.9 558.9C450.1 558.1 450.2 557.2 450.4 556.4C450.5 555.6 450.7 554.8 450.8 553.9C451 553.1 451.1 552.3 451.3 551.5C451.5 550.7 451.7 549.8 451.8 549C452 548.2 452.2 547.4 452.3 546.6C452.5 545.8 452.7 544.9 452.9 544.1C453 543.3 453.2 542.3 453.4 541.7C453.5 541 453.6 540.4 453.7 540.2" fill="none" stroke="#ff0000" stroke-width="5" stroke-linecap="round" stroke-linejoin="round"/><path d="M528 216.9C528.1 217.3 528.2 218.6 528.3 219.4C528.5 220.2 528.6 221 528.7 221.9C528.8 222.7 528.9 223.5 529 224.4C529.1 225.2 529.3 226 529.4 226.8C529.5 227.7 529.6 228.5 529.7 229.3C529.9 230.2 530 231 530.1 231.8C530.2 232.6 530.4 233.5 530.5 234.3C530.6 235.1 530.8 235.9 530.9 236.8C531.1 237.6 531.2 238.4 531.4 239.2C531.5 240 531.7 240.9 531.9 241.7C532 242.5 532.2 243.3 532.3 244.1C532.5 245 532.7 245.8 532.8 246.6C533 247.4 533.2 248.2 533.4 249.1C533.6 249.9 533.8 250.7 534 251.5C534.2 252.3 534.4 253.1 534.6 253.9C534.9 254.7 535.1 255.5 535.4 256.3C535.7 257.1 536 257.8 536.4 258.6C536.7 259.4 537.1 260.1 537.5 260.8C537.9 261.5 538.4 262.3 538.9 262.9C539.4 263.6 539.9 264.2 540.5 264.8C541.1 265.3 541.8 265.8 542.5 266.2C543.2 266.7 543.9 267 544.7 267.3C545.5 267.6 546.3 267.8 547.1 268C547.9 268.1 548.7 268.2 549.6 268.3C550.4 268.4 551.2 268.4 552.1 268.4C552.9 268.5 553.7 268.5 554.6 268.5C555.4 268.5 556.2 268.5 557.1 268.5C557.9 268.5 558.8 268.5 559.6 268.5C560.4 268.5 561.3 268.5 562.1 268.6C562.9 268.6 563.8 268.7 564.6 268.8C565.4 268.9 566.2 269.1 567 269.3C567.9 269.4 568.7 269.6 569.5 269.8C570.3 270.1 571.1 270.3 571.9 270.6C572.7 270.8 573.5 271.1 574.3 271.4C575 271.7 575.8 272 576.6 272.3C577.4 272.6 578.2 272.9 578.9 273.2C579.7 273.5 580.5 273.9 581.2 274.2C582 274.6 582.7 275 583.5 275.3C584.2 275.7 584.9 276.1 585.7 276.5C586.4 276.9 587.1 277.3 587.9 277.8C588.6 278.2 589.3 278.6 590 279C590.7 279.4 591.5 279.9 592.2 280.3C592.9 280.7 593.6 281.2 594.3 281.6C595 282.1 595.7 282.5 596.4 283C597.1 283.4 597.8 283.9 598.5 284.4C599.2 284.8 599.9 285.3 600.6 285.8C601.3 286.3 601.9 286.8 602.6 287.3C603.3 287.7 604 288.2 604.6 288.8C605.3 289.3 605.9 289.8 606.6 290.3C607.3 290.8 607.9 291.3 608.5 291.9C609.2 292.4 609.8 293 610.5 293.5C611.1 294 611.7 294.6 612.3 295.2C613 295.7 613.6 296.3 614.2 296.8C614.8 297.4 615.4 298 616 298.6C616.6 299.1 617.2 299.7 617.8 300.3C618.4 300.9 619 301.5 619.6 302.1C620.2 302.7 620.7 303.3 621.3 303.9C621.9 304.5 622.4 305.1 623 305.8C623.6 306.4 624.1 307 624.7 307.6C625.3 308.2 625.8 308.9 626.3 309.5C626.9 310.2 627.4 310.8 627.9 311.4C628.5 312.1 629 312.8 629.5 313.4C630 314.1 630.5 314.7 631.1 315.4C631.6 316 632.1 316.7 632.6 317.4C633.1 318 633.6 318.7 634.1 319.4C634.6 320 635.1 320.7 635.6 321.4C636.1 322 636.6 322.7 637.1 323.4C637.6 324 638.1 324.7 638.6 325.4C639.1 326 639.6 326.7 640.1 327.4C640.6 328 641.1 328.7 641.6 329.4C642.1 330.1 642.6 330.7 643.1 331.4C643.6 332.1 644.1 332.8 644.6 333.4C645.1 334.1 645.6 334.8 646.1 335.5C646.6 336.1 647.1 336.8 647.6 337.5C648 338.2 648.5 338.8 649 339.5C649.5 340.2 650 340.9 650.5 341.6C651 342.2 651.5 342.9 652 343.6C652.5 344.2 653 344.9 653.5 345.6C654 346.2 654.6 346.9 655.1 347.5C655.7 348.1 656.2 348.8 656.8 349.2C657.5 349.7 658.1 350.1 658.8 350.2C659.5 350.3 660.3 350.1 660.9 349.8C661.6 349.5 662.3 349 662.9 348.4C663.4 347.9 664 347.2 664.4 346.6C664.9 345.9 665.3 345.1 665.7 344.4C666 343.7 666.3 342.9 666.6 342.1C666.9 341.3 667.2 340.5 667.5 339.7C667.7 338.9 668 338.1 668.2 337.3C668.5 336.5 668.7 335.7 669 334.9C669.2 334.1 669.4 333.3 669.6 332.5C669.9 331.7 670.1 330.9 670.3 330.1C670.5 329.3 670.6 328.5 670.9 327.7C671.1 326.9 671.3 326 671.5 325.3C671.8 324.5 672.1 323.7 672.5 322.9C672.8 322.2 673.2 321.4 673.6 320.7C674 320 674.6 319.1 674.9 318.6C675.2 318.1 675.3 317.8 675.4 317.7" fill="none" stroke="#0000ff" stroke-width="5" stroke-linecap="round" stroke-linejoin="round"/><path d="M526.5 309.2C526.5 309.6 526.7 310.9 526.8 311.7C526.9 312.5 526.9 313.4 527 314.2C527.1 315 527.2 315.8 527.3 316.7C527.4 317.5 527.5 318.3 527.6 319.2C527.6 320 527.7 320.8 527.8 321.7C527.9 322.5 528 323.3 528.1 324.1C528.3 325 528.4 325.8 528.5 326.6C528.6 327.5 528.7 328.3 528.9 329.1C529 329.9 529.1 330.7 529.3 331.6C529.4 332.4 529.6 333.2 529.8 334C529.9 334.9 530.1 335.7 530.3 336.5C530.5 337.3 530.6 338.1 530.9 338.9C531.1 339.7 531.3 340.5 531.5 341.3C531.8 342.1 532 342.9 532.3 343.7C532.6 344.5 532.9 345.3 533.2 346C533.6 346.8 533.9 347.6 534.3 348.3C534.7 349.1 535.1 349.8 535.5 350.5C535.9 351.2 536.4 351.9 536.9 352.6C537.4 353.2 537.9 353.8 538.5 354.4C539.1 355 539.8 355.5 540.5 356C541.1 356.4 541.9 356.8 542.6 357.1C543.4 357.4 544.2 357.7 545 357.9C545.8 358.1 546.6 358.3 547.4 358.4C548.3 358.5 549.1 358.5 549.9 358.6C550.8 358.6 551.6 358.6 552.4 358.6C553.3 358.6 554.1 358.6 554.9 358.6C555.8 358.6 556.6 358.7 557.4 358.7C558.3 358.8 559.1 358.9 559.9 359.1C560.7 359.2 561.5 359.4 562.4 359.6C563.2 359.8 564 360 564.8 360.2C565.6 360.5 566.4 360.7 567.1 361C567.9 361.3 568.7 361.6 569.5 361.9C570.2 362.3 571 362.6 571.8 363C572.5 363.3 573.3 363.7 574 364.1C574.7 364.5 575.5 364.9 576.2 365.3C576.9 365.7 577.6 366.1 578.4 366.5C579.1 367 579.8 367.4 580.5 367.8C581.2 368.3 581.9 368.8 582.6 369.2C583.3 369.7 584 370.2 584.6 370.7C585.3 371.1 586 371.6 586.7 372.1C587.3 372.6 588 373.2 588.6 373.7C589.3 374.2 589.9 374.7 590.6 375.3C591.2 375.8 591.9 376.3 592.5 376.9C593.1 377.4 593.7 378 594.4 378.5C595 379.1 595.6 379.7 596.2 380.2C596.8 380.8 597.4 381.4 598 382C598.6 382.5 599.2 383.1 599.8 383.7C600.4 384.3 601 384.9 601.6 385.5C602.2 386.1 602.7 386.7 603.3 387.3C603.9 387.9 604.5 388.5 605 389.1C605.6 389.8 606.2 390.4 606.7 391C607.3 391.6 607.8 392.2 608.4 392.9C608.9 393.5 609.5 394.1 610 394.7C610.6 395.4 611.1 396 611.7 396.6C612.2 397.3 612.7 397.9 613.3 398.6C613.8 399.2 614.3 399.9 614.9 400.5C615.4 401.2 615.9 401.8 616.4 402.5C616.9 403.1 617.4 403.8 617.9 404.5C618.4 405.1 618.9 405.8 619.4 406.5C619.9 407.1 620.4 407.8 620.9 408.5C621.4 409.1 621.9 409.8 622.4 410.5C622.9 411.2 623.4 411.8 623.9 412.5C624.4 413.2 624.9 413.9 625.4 414.5C625.9 415.2 626.4 415.9 626.8 416.6C627.3 417.3 627.8 417.9 628.3 418.6C628.8 419.3 629.3 420 629.7 420.7C630.2 421.4 630.7 422 631.2 422.7C631.7 423.4 632.1 424.1 632.6 424.8C633.1 425.5 633.6 426.1 634.1 426.8C634.5 427.5 635 428.2 635.5 428.9C636 429.5 636.5 430.2 637 430.9C637.4 431.6 637.9 432.3 638.4 433C638.9 433.6 639.4 434.3 639.8 435C640.3 435.7 640.8 436.4 641.3 437C641.8 437.7 642.3 438.4 642.8 439C643.3 439.7 643.8 440.3 644.4 441C644.9 441.6 645.5 442.3 646 442.9C646.6 443.5 647.2 444.1 647.8 444.7C648.4 445.3 649 445.8 649.6 446.4C650.3 446.9 650.9 447.4 651.6 447.9C652.3 448.3 653 448.8 653.7 449.1C654.5 449.5 655.2 449.9 656 450C656.8 450.2 657.6 450.2 658.4 450.1C659.1 450 659.9 449.7 660.6 449.3C661.2 448.9 661.9 448.4 662.4 447.8C663 447.2 663.5 446.5 663.9 445.8C664.3 445.1 664.6 444.4 665 443.6C665.3 442.8 665.5 442 665.8 441.2C666 440.4 666.2 439.6 666.4 438.8C666.7 438 666.9 437.2 667.1 436.4C667.3 435.6 667.5 434.8 667.8 434C668 433.2 668.2 432.4 668.4 431.6C668.6 430.8 668.9 430 669.2 429.2C669.5 428.5 669.9 427.7 670.4 427.1C670.8 426.4 671.5 425.7 671.9 425.2C672.4 424.7 672.8 424.3 673 424.1" fill="none" stroke="#00ff00" stroke-width="5" stroke-linecap="round" stroke-linejoin="round"/><path d="M526.1 380.2C526.2 380.6 526.3 381.9 526.5 382.7C526.6 383.5 526.7 384.3 526.8 385.2C526.9 386 527 386.8 527.2 387.7C527.3 388.5 527.4 389.3 527.5 390.1C527.7 391 527.8 391.8 527.9 392.6C528.1 393.4 528.2 394.3 528.3 395.1C528.5 395.9 528.6 396.7 528.8 397.6C528.9 398.4 529.1 399.2 529.2 400C529.4 400.9 529.5 401.7 529.7 402.5C529.8 403.3 530 404.1 530.2 405C530.4 405.8 530.5 406.6 530.8 407.4C531 408.2 531.2 409 531.4 409.8C531.7 410.6 531.9 411.4 532.2 412.2C532.5 413 532.8 413.8 533.1 414.5C533.5 415.3 533.8 416.1 534.2 416.8C534.6 417.5 535 418.3 535.4 419C535.9 419.7 536.4 420.3 536.9 420.9C537.5 421.5 538.1 422.1 538.7 422.6C539.4 423.1 540.1 423.5 540.9 423.9C541.6 424.3 542.4 424.6 543.2 424.8C543.9 425.1 544.8 425.3 545.6 425.5C546.4 425.7 547.2 425.9 548 426C548.8 426.2 549.7 426.3 550.5 426.4C551.3 426.5 552.2 426.6 553 426.7C553.8 426.8 554.6 427 555.5 427.1C556.3 427.3 557.1 427.5 557.9 427.7C558.7 427.9 559.5 428.2 560.3 428.4C561.1 428.7 561.9 428.9 562.7 429.2C563.5 429.5 564.3 429.7 565 430C565.8 430.3 566.6 430.7 567.4 431C568.1 431.3 568.9 431.7 569.6 432.1C570.4 432.4 571.1 432.8 571.8 433.2C572.6 433.7 573.3 434.1 574 434.5C574.7 435 575.4 435.4 576.1 435.9C576.8 436.3 577.5 436.8 578.2 437.3C578.8 437.8 579.5 438.3 580.2 438.8C580.9 439.3 581.5 439.8 582.2 440.3C582.8 440.8 583.5 441.4 584.1 441.9C584.8 442.4 585.4 442.9 586.1 443.5C586.7 444 587.4 444.6 588 445.1C588.6 445.7 589.2 446.2 589.9 446.8C590.5 447.3 591.1 447.9 591.7 448.5C592.3 449 592.9 449.6 593.5 450.2C594.1 450.8 594.7 451.4 595.3 452C595.9 452.6 596.5 453.2 597.1 453.8C597.7 454.4 598.2 455 598.8 455.6C599.4 456.2 600 456.8 600.5 457.4C601.1 458 601.6 458.6 602.2 459.3C602.8 459.9 603.3 460.5 603.9 461.1C604.4 461.8 605 462.4 605.5 463C606.1 463.7 606.6 464.3 607.1 465C607.7 465.6 608.2 466.3 608.7 466.9C609.2 467.6 609.8 468.2 610.3 468.9C610.8 469.5 611.3 470.2 611.8 470.9C612.3 471.6 612.8 472.2 613.3 472.9C613.7 473.6 614.2 474.3 614.7 475C615.1 475.7 615.6 476.4 616 477.1C616.5 477.8 616.9 478.5 617.4 479.2C617.8 479.9 618.3 480.6 618.7 481.3C619.2 482 619.6 482.8 620 483.5C620.5 484.2 620.9 484.9 621.4 485.6C621.8 486.3 622.3 487 622.7 487.7C623.2 488.4 623.6 489.1 624.1 489.8C624.5 490.5 625 491.2 625.4 491.9C625.9 492.6 626.4 493.3 626.8 494C627.3 494.7 627.7 495.4 628.2 496.1C628.7 496.8 629.1 497.5 629.6 498.2C630.1 498.9 630.5 499.6 631 500.3C631.4 501 631.9 501.7 632.4 502.4C632.8 503.1 633.3 503.8 633.8 504.5C634.3 505.2 634.7 505.8 635.2 506.5C635.7 507.2 636.1 507.9 636.6 508.6C637.1 509.3 637.6 510 638.1 510.7C638.5 511.3 639 512 639.5 512.7C640 513.4 640.5 514.1 641 514.8C641.5 515.4 642 516.1 642.5 516.7C643 517.4 643.5 518.1 644.1 518.7C644.6 519.3 645.2 519.9 645.8 520.5C646.3 521.1 646.9 521.7 647.6 522.3C648.2 522.8 648.9 523.3 649.5 523.8C650.2 524.3 650.9 524.8 651.6 525.2C652.3 525.6 653.1 526 653.8 526.3C654.6 526.6 655.4 526.8 656.2 526.9C656.9 526.9 657.7 526.9 658.5 526.6C659.2 526.4 659.9 525.9 660.5 525.4C661.1 525 661.7 524.3 662.2 523.6C662.6 523 663 522.2 663.4 521.5C663.7 520.8 664 520 664.3 519.2C664.6 518.4 664.8 517.6 665.1 516.8C665.4 516 665.7 515.2 666 514.5C666.4 513.7 666.7 512.9 667.1 512.2C667.5 511.5 667.8 510.7 668.2 510C668.6 509.2 669.1 508.5 669.5 507.8C669.9 507.1 670.5 506 670.7 505.6" fill="none" stroke="#ffff00" stroke-width="5" stroke-linecap="round" stroke-linejoin="round"/><path d="M525.4 437.5C525.5 437.9 525.6 439.2 525.7 440C525.9 440.8 526 441.6 526.1 442.5C526.2 443.3 526.3 444.1 526.4 445C526.6 445.8 526.7 446.6 526.8 447.4C526.9 448.3 527.1 449.1 527.2 449.9C527.3 450.7 527.5 451.6 527.6 452.4C527.8 453.2 527.9 454 528.1 454.8C528.3 455.7 528.4 456.5 528.6 457.3C528.8 458.1 528.9 458.9 529.1 459.8C529.3 460.6 529.5 461.4 529.7 462.2C529.9 463 530.2 463.8 530.4 464.6C530.7 465.4 531 466.2 531.3 467C531.6 467.7 531.9 468.5 532.3 469.3C532.6 470 533 470.7 533.4 471.5C533.9 472.2 534.3 472.9 534.8 473.6C535.3 474.2 535.8 474.9 536.3 475.5C536.9 476.1 537.5 476.7 538.2 477.2C538.8 477.7 539.5 478.2 540.2 478.6C540.9 479 541.7 479.4 542.4 479.7C543.2 480.1 544 480.4 544.8 480.6C545.6 480.9 546.4 481.2 547.2 481.4C548 481.6 548.8 481.8 549.6 482C550.4 482.2 551.2 482.4 552 482.6C552.8 482.7 553.7 482.9 554.5 483.1C555.3 483.3 556.1 483.6 556.9 483.8C557.7 484.1 558.5 484.3 559.3 484.6C560 484.9 560.8 485.2 561.6 485.6C562.3 485.9 563.1 486.3 563.9 486.6C564.6 487 565.4 487.3 566.1 487.7C566.8 488.1 567.6 488.5 568.3 488.9C569 489.3 569.8 489.7 570.5 490.2C571.2 490.6 571.9 491 572.6 491.5C573.3 491.9 574 492.4 574.7 492.9C575.4 493.3 576.1 493.8 576.8 494.3C577.5 494.8 578.1 495.3 578.8 495.8C579.5 496.3 580.1 496.8 580.8 497.3C581.5 497.8 582.1 498.3 582.8 498.9C583.4 499.4 584 499.9 584.7 500.5C585.3 501 586 501.5 586.6 502.1C587.2 502.7 587.8 503.2 588.4 503.8C589.1 504.3 589.7 504.9 590.3 505.5C590.9 506.1 591.5 506.6 592.1 507.2C592.7 507.8 593.3 508.4 593.9 509C594.5 509.6 595 510.2 595.6 510.8C596.2 511.4 596.8 512 597.4 512.6C597.9 513.2 598.5 513.8 599.1 514.4C599.7 515 600.2 515.6 600.8 516.3C601.4 516.9 601.9 517.5 602.5 518.1C603 518.7 603.6 519.4 604.1 520C604.7 520.6 605.2 521.3 605.8 521.9C606.3 522.5 606.8 523.2 607.4 523.8C607.9 524.5 608.4 525.1 609 525.8C609.5 526.4 610 527.1 610.5 527.7C611 528.4 611.5 529.1 612.1 529.7C612.6 530.4 613.1 531.1 613.6 531.7C614.1 532.4 614.6 533.1 615.1 533.7C615.6 534.4 616.1 535.1 616.5 535.8C617 536.4 617.5 537.1 618 537.8C618.5 538.5 619 539.2 619.4 539.9C619.9 540.5 620.4 541.2 620.9 541.9C621.3 542.6 621.8 543.3 622.3 544C622.7 544.7 623.2 545.4 623.6 546.1C624.1 546.8 624.5 547.5 625 548.2C625.4 548.9 625.9 549.7 626.3 550.4C626.7 551.1 627.1 551.8 627.5 552.5C628 553.3 628.4 554 628.8 554.7C629.2 555.4 629.6 556.2 630.1 556.9C630.5 557.6 630.9 558.3 631.3 559C631.8 559.8 632.2 560.5 632.7 561.2C633.1 561.9 633.6 562.6 634 563.3C634.5 564 634.9 564.7 635.4 565.4C635.8 566.1 636.3 566.8 636.7 567.5C637.2 568.2 637.7 568.9 638.1 569.6C638.6 570.3 639.1 571 639.6 571.6C640 572.3 640.5 573 641 573.7C641.5 574.4 642 575 642.5 575.7C643 576.4 643.5 577 644.1 577.7C644.6 578.3 645.1 579 645.6 579.6C646.2 580.3 646.7 580.9 647.3 581.5C647.9 582.1 648.5 582.7 649.1 583.3C649.7 583.8 650.3 584.3 651 584.8C651.7 585.3 652.4 585.8 653.1 586.1C653.9 586.5 654.6 586.8 655.4 587C656.2 587.1 657 587.2 657.7 587C658.4 586.9 659.1 586.5 659.8 586C660.4 585.6 661 584.9 661.5 584.3C662 583.7 662.5 583 662.9 582.3C663.4 581.6 663.8 580.8 664.2 580.1C664.6 579.4 664.9 578.6 665.3 577.9C665.7 577.1 666 576.4 666.4 575.7C666.9 574.9 667.3 574.2 667.7 573.5C668.2 572.8 668.9 571.8 669.1 571.4" fill="none" stroke="#ff0000" stroke-width="5" stroke-linecap="round" stroke-linejoin="round"/><path d="M712.3 289.3C712.4 289.7 712.5 291 712.6 291.8C712.7 292.6 712.9 293.4 713 294.3C713.1 295.1 713.2 295.9 713.3 296.8C713.4 297.6 713.5 298.4 713.7 299.2C713.8 300.1 713.9 300.9 714.1 301.7C714.2 302.5 714.3 303.4 714.5 304.2C714.6 305 714.8 305.8 714.9 306.7C715.1 307.5 715.2 308.3 715.4 309.1C715.6 309.9 715.7 310.8 715.9 311.6C716.1 312.4 716.3 313.2 716.5 314C716.6 314.8 716.8 315.7 717.1 316.5C717.3 317.3 717.5 318.1 717.8 318.9C718 319.7 718.3 320.5 718.6 321.2C718.9 322 719.2 322.8 719.5 323.6C719.8 324.3 720.2 325.1 720.5 325.9C720.9 326.6 721.3 327.4 721.7 328.1C722.1 328.8 722.5 329.5 723 330.2C723.5 330.9 724 331.6 724.5 332.2C725.1 332.8 725.6 333.4 726.3 334C726.9 334.5 727.5 335 728.2 335.5C728.9 336 729.6 336.4 730.3 336.8C731.1 337.2 731.8 337.6 732.6 337.9C733.4 338.2 734.2 338.5 734.9 338.8C735.7 339 736.5 339.2 737.4 339.5C738.2 339.7 739 339.8 739.8 340C740.6 340.2 741.4 340.3 742.3 340.5C743.1 340.6 743.9 340.7 744.7 340.9C745.6 341 746.4 341.1 747.2 341.2C748.1 341.2 748.9 341.3 749.7 341.4C750.6 341.5 751.4 341.5 752.2 341.6C753.1 341.7 753.9 341.8 754.7 341.9C755.5 342 756.4 342.2 757.2 342.3C758 342.5 758.8 342.7 759.6 342.9C760.5 343 761.3 343.2 762.1 343.5C762.9 343.7 763.7 343.9 764.5 344.2C765.3 344.4 766.1 344.7 766.9 344.9C767.7 345.2 768.4 345.5 769.2 345.8C770 346.1 770.8 346.4 771.5 346.7C772.3 347.1 773.1 347.4 773.8 347.8C774.6 348.1 775.3 348.5 776.1 348.9C776.8 349.2 777.6 349.6 778.3 350C779 350.4 779.8 350.9 780.5 351.3C781.2 351.7 781.9 352.1 782.7 352.5C783.4 353 784.1 353.4 784.8 353.9C785.5 354.3 786.2 354.7 786.9 355.2C787.6 355.7 788.3 356.1 789 356.6C789.7 357.1 790.4 357.5 791.1 358C791.7 358.5 792.4 359 793.1 359.5C793.8 360 794.5 360.5 795.1 361C795.8 361.5 796.5 362 797.1 362.5C797.8 363 798.4 363.5 799.1 364C799.7 364.6 800.4 365.1 801 365.6C801.7 366.2 802.3 366.7 802.9 367.2C803.6 367.8 804.2 368.3 804.8 368.9C805.5 369.4 806.1 370 806.7 370.6C807.3 371.1 808 371.7 808.6 372.2C809.2 372.8 809.8 373.4 810.4 373.9C811 374.5 811.6 375.1 812.2 375.7C812.8 376.2 813.4 376.8 814 377.4C814.6 378 815.2 378.6 815.8 379.2C816.4 379.8 817 380.4 817.6 381C818.2 381.6 818.8 382.2 819.3 382.8C819.9 383.4 820.5 384 821.1 384.6C821.7 385.2 822.2 385.8 822.8 386.4C823.4 387 824 387.6 824.5 388.2C825.1 388.8 825.7 389.4 826.2 390C826.8 390.7 827.4 391.3 828 391.9C828.5 392.5 829.1 393.1 829.7 393.7C830.2 394.3 830.8 395 831.3 395.6C831.9 396.2 832.4 396.8 833 397.5C833.6 398.1 834.1 398.7 834.7 399.3C835.2 400 835.8 400.6 836.4 401.2C836.9 401.8 837.5 402.4 838 403.1C838.6 403.7 839.2 404.3 839.7 404.9C840.3 405.5 840.9 406.1 841.4 406.8C842 407.4 842.6 408 843.1 408.6C843.7 409.2 844.3 409.8 844.8 410.4C845.4 411 846 411.7 846.6 412.3C847.2 412.9 847.7 413.5 848.3 414C848.9 414.6 849.5 415.2 850.1 415.8C850.8 416.3 851.4 416.9 852 417.5C852.6 418 853.3 418.6 853.9 419.1C854.6 419.6 855.2 420.1 855.9 420.6C856.6 421.1 857.3 421.6 858 422C858.7 422.4 859.4 422.9 860.2 423.2C860.9 423.6 861.7 423.9 862.5 424.2C863.2 424.4 864.1 424.6 864.9 424.7C865.7 424.7 866.5 424.7 867.3 424.5C868.1 424.4 868.9 424.1 869.6 423.8C870.4 423.5 871.1 423.1 871.8 422.6C872.5 422.2 873.2 421.7 873.8 421.1C874.4 420.6 875 420 875.6 419.4C876.1 418.8 876.6 418.1 877.1 417.4C877.5 416.7 878 416 878.4 415.3C878.8 414.6 879.2 413.8 879.6 413.1C880 412.4 880.4 411.6 880.8 410.9C881.1 410.1 881.5 409.3 881.8 408.6C882.1 407.8 882.4 407 882.8 406.3C883.1 405.5 883.4 404.7 883.8 404C884.2 403.3 884.7 402.6 885.2 402C885.7 401.3 886.6 400.5 886.9 400.2" fill="none" stroke="#0000ff" stroke-width="5" stroke-linecap="round" stroke-linejoin="round"/><path d="M710.7 347.6C710.8 348 710.9 349.3 711 350.1C711.1 350.9 711.2 351.7 711.3 352.6C711.4 353.4 711.5 354.2 711.6 355.1C711.8 355.9 711.9 356.7 712 357.5C712.1 358.4 712.2 359.2 712.4 360C712.5 360.8 712.6 361.7 712.8 362.5C712.9 363.3 713.1 364.1 713.3 364.9C713.4 365.8 713.6 366.6 713.8 367.4C714 368.2 714.2 369 714.4 369.8C714.6 370.6 714.9 371.4 715.1 372.2C715.3 373 715.6 373.8 715.9 374.6C716.1 375.4 716.4 376.2 716.7 377C717 377.7 717.3 378.5 717.6 379.3C718 380.1 718.3 380.8 718.7 381.6C719 382.3 719.4 383.1 719.8 383.8C720.2 384.5 720.7 385.2 721.2 385.9C721.6 386.6 722.2 387.2 722.7 387.8C723.3 388.4 723.9 389 724.5 389.6C725.1 390.1 725.8 390.6 726.5 391.1C727.2 391.5 727.9 391.9 728.7 392.3C729.4 392.7 730.2 393 730.9 393.3C731.7 393.6 732.5 393.9 733.3 394.1C734.1 394.4 734.9 394.5 735.7 394.7C736.5 394.9 737.4 395 738.2 395.1C739 395.3 739.8 395.4 740.7 395.5C741.5 395.7 742.3 395.8 743.1 395.9C744 396.1 744.8 396.2 745.6 396.4C746.4 396.6 747.2 396.8 748 397C748.8 397.2 749.6 397.4 750.5 397.6C751.3 397.8 752.1 398 752.9 398.2C753.7 398.5 754.5 398.7 755.3 399C756.1 399.2 756.9 399.5 757.7 399.7C758.4 400 759.2 400.3 760 400.6C760.8 400.9 761.6 401.2 762.3 401.5C763.1 401.8 763.9 402.2 764.6 402.5C765.4 402.9 766.2 403.2 766.9 403.6C767.7 403.9 768.4 404.3 769.2 404.7C769.9 405 770.6 405.4 771.4 405.8C772.1 406.2 772.8 406.6 773.6 407C774.3 407.4 775 407.8 775.8 408.3C776.5 408.7 777.2 409.1 777.9 409.5C778.6 410 779.3 410.4 780 410.9C780.7 411.3 781.4 411.8 782.1 412.2C782.8 412.7 783.5 413.2 784.2 413.6C784.9 414.1 785.6 414.6 786.3 415.1C786.9 415.6 787.6 416 788.3 416.5C789 417 789.6 417.5 790.3 418.1C790.9 418.6 791.6 419.1 792.3 419.6C792.9 420.1 793.6 420.6 794.2 421.2C794.9 421.7 795.5 422.2 796.1 422.8C796.8 423.3 797.4 423.8 798.1 424.4C798.7 424.9 799.3 425.5 800 426C800.6 426.6 801.2 427.1 801.8 427.7C802.5 428.2 803.1 428.8 803.7 429.3C804.3 429.9 805 430.4 805.6 431C806.2 431.5 806.8 432.1 807.4 432.7C808 433.2 808.7 433.8 809.3 434.4C809.9 435 810.5 435.5 811.1 436.1C811.7 436.7 812.3 437.3 812.8 437.9C813.4 438.5 814 439.1 814.6 439.7C815.1 440.3 815.7 440.9 816.3 441.6C816.8 442.2 817.4 442.8 817.9 443.5C818.4 444.1 818.9 444.7 819.5 445.4C820 446.1 820.5 446.7 821 447.4C821.5 448 822 448.7 822.6 449.3C823.1 450 823.6 450.7 824.1 451.3C824.6 452 825.1 452.6 825.7 453.3C826.2 453.9 826.7 454.6 827.3 455.2C827.8 455.8 828.3 456.5 828.9 457.1C829.4 457.8 830 458.4 830.5 459C831 459.7 831.6 460.3 832.1 460.9C832.7 461.6 833.2 462.2 833.8 462.8C834.3 463.5 834.9 464.1 835.4 464.7C836 465.3 836.5 466 837.1 466.6C837.6 467.2 838.2 467.8 838.8 468.4C839.3 469 839.9 469.7 840.5 470.3C841.1 470.9 841.6 471.5 842.2 472.1C842.8 472.7 843.4 473.3 844 473.9C844.6 474.4 845.2 475 845.8 475.6C846.4 476.1 847 476.7 847.6 477.3C848.3 477.8 848.9 478.4 849.5 478.9C850.2 479.4 850.8 479.9 851.5 480.5C852.2 481 852.8 481.5 853.5 481.9C854.2 482.4 854.9 482.9 855.6 483.3C856.3 483.7 857.1 484.1 857.8 484.4C858.6 484.8 859.3 485.1 860.1 485.4C860.9 485.7 861.7 485.9 862.5 486.1C863.3 486.2 864.1 486.3 865 486.2C865.8 486.2 866.6 486 867.3 485.8C868.1 485.5 868.9 485.2 869.6 484.7C870.3 484.3 871 483.8 871.6 483.3C872.2 482.8 872.8 482.2 873.4 481.6C874 481 874.5 480.3 875 479.7C875.5 479 875.9 478.3 876.4 477.6C876.9 476.9 877.3 476.2 877.8 475.5C878.3 474.8 878.7 474.2 879.2 473.5C879.7 472.8 880.2 472.1 880.6 471.4C881.1 470.7 881.6 470.1 882.1 469.4C882.6 468.7 883.2 467.8 883.5 467.3C883.9 466.8 884 466.6 884.1 466.5" fill="none" stroke="#00ff00" stroke-width="5" stroke-linecap="round" stroke-linejoin="round"/><path d="M709.3 398.2C709.4 398.6 709.5 399.9 709.6 400.7C709.7 401.5 709.8 402.3 710 403.2C710.1 404 710.2 404.8 710.3 405.7C710.4 406.5 710.5 407.3 710.7 408.1C710.8 409 710.9 409.8 711.1 410.6C711.2 411.4 711.4 412.2 711.6 413.1C711.7 413.9 711.9 414.7 712.1 415.5C712.3 416.3 712.5 417.1 712.7 417.9C712.9 418.7 713.2 419.6 713.4 420.4C713.6 421.2 713.9 422 714.2 422.7C714.4 423.5 714.7 424.3 715 425.1C715.3 425.9 715.6 426.7 715.9 427.4C716.2 428.2 716.6 429 717 429.7C717.3 430.4 717.7 431.2 718.2 431.9C718.6 432.6 719.1 433.3 719.5 434C720 434.7 720.6 435.3 721.1 435.9C721.7 436.5 722.3 437.1 722.9 437.7C723.5 438.2 724.2 438.7 724.9 439.2C725.6 439.6 726.3 440.1 727 440.4C727.8 440.8 728.5 441.2 729.3 441.5C730.1 441.8 730.8 442.1 731.6 442.4C732.4 442.7 733.2 442.9 734 443.1C734.8 443.4 735.6 443.6 736.4 443.8C737.2 444 738.1 444.2 738.9 444.4C739.7 444.7 740.5 444.9 741.3 445.1C742.1 445.3 742.9 445.6 743.7 445.8C744.5 446 745.3 446.3 746.1 446.5C746.9 446.8 747.7 447 748.5 447.2C749.3 447.5 750.1 447.7 750.9 448C751.7 448.2 752.5 448.5 753.3 448.8C754 449.1 754.8 449.3 755.6 449.7C756.4 450 757.2 450.3 757.9 450.6C758.7 450.9 759.4 451.3 760.2 451.7C761 452 761.7 452.4 762.4 452.8C763.2 453.2 763.9 453.5 764.7 453.9C765.4 454.3 766.1 454.7 766.9 455.2C767.6 455.6 768.3 456 769 456.4C769.8 456.8 770.5 457.2 771.2 457.7C771.9 458.1 772.6 458.5 773.3 459C774.1 459.4 774.8 459.8 775.5 460.3C776.2 460.7 776.9 461.2 777.6 461.6C778.3 462.1 779 462.5 779.7 463C780.4 463.4 781.1 463.9 781.8 464.4C782.5 464.9 783.1 465.3 783.8 465.8C784.5 466.3 785.2 466.8 785.8 467.3C786.5 467.8 787.2 468.3 787.8 468.8C788.5 469.3 789.2 469.9 789.8 470.4C790.5 470.9 791.1 471.4 791.8 471.9C792.4 472.5 793.1 473 793.7 473.5C794.3 474.1 795 474.6 795.6 475.2C796.2 475.7 796.9 476.3 797.5 476.8C798.1 477.4 798.7 478 799.3 478.5C800 479.1 800.6 479.7 801.2 480.2C801.8 480.8 802.4 481.4 803 482C803.6 482.6 804.2 483.1 804.8 483.7C805.4 484.3 805.9 484.9 806.5 485.5C807.1 486.1 807.7 486.7 808.3 487.3C808.9 487.9 809.4 488.5 810 489.1C810.6 489.7 811.2 490.3 811.7 491C812.3 491.6 812.8 492.2 813.4 492.8C814 493.4 814.5 494.1 815.1 494.7C815.6 495.3 816.2 496 816.7 496.6C817.2 497.2 817.8 497.9 818.3 498.5C818.8 499.2 819.4 499.8 819.9 500.5C820.4 501.1 820.9 501.8 821.5 502.4C822 503.1 822.5 503.7 823 504.4C823.6 505 824.1 505.7 824.6 506.3C825.1 507 825.6 507.6 826.1 508.3C826.6 509 827.2 509.6 827.7 510.3C828.2 511 828.7 511.6 829.2 512.3C829.7 512.9 830.2 513.6 830.7 514.3C831.2 514.9 831.7 515.6 832.2 516.3C832.7 516.9 833.2 517.6 833.8 518.3C834.3 518.9 834.8 519.6 835.3 520.2C835.8 520.9 836.4 521.5 836.9 522.2C837.4 522.8 838 523.5 838.5 524.1C839 524.7 839.6 525.4 840.1 526C840.7 526.6 841.2 527.3 841.8 527.9C842.4 528.5 842.9 529.1 843.5 529.7C844.1 530.3 844.7 530.9 845.3 531.4C845.9 532 846.5 532.6 847.2 533.1C847.8 533.7 848.5 534.2 849.1 534.7C849.8 535.2 850.5 535.7 851.1 536.2C851.8 536.6 852.6 537.1 853.3 537.5C854 537.9 854.8 538.2 855.5 538.6C856.3 538.9 857.1 539.2 857.9 539.4C858.7 539.6 859.5 539.8 860.3 540C861.1 540.1 861.9 540.1 862.8 540.1C863.6 540.1 864.4 540 865.2 539.8C866 539.6 866.8 539.3 867.5 539C868.3 538.7 869 538.3 869.7 537.8C870.4 537.4 871.1 536.9 871.7 536.3C872.3 535.8 872.9 535.2 873.5 534.6C874.1 534 874.6 533.3 875.1 532.7C875.6 532 876.1 531.3 876.6 530.7C877.1 530 877.7 529.4 878.2 528.7C878.7 528.1 879.2 527.4 879.7 526.8C880.3 526.1 881 525.1 881.3 524.8" fill="none" stroke="#ffff00" stroke-width="5" stroke-linecap="round" stroke-linejoin="round"/><path d="M708.4 441.1C708.5 441.5 708.6 442.8 708.7 443.6C708.8 444.4 708.9 445.2 709 446.1C709.1 446.9 709.2 447.7 709.3 448.6C709.4 449.4 709.5 450.2 709.6 451C709.7 451.9 709.9 452.7 710 453.5C710.1 454.4 710.2 455.2 710.4 456C710.5 456.8 710.7 457.7 710.8 458.5C711 459.3 711.1 460.1 711.3 460.9C711.5 461.7 711.7 462.6 711.9 463.4C712 464.2 712.2 465 712.4 465.8C712.7 466.6 712.9 467.4 713.1 468.2C713.3 469 713.6 469.8 713.8 470.6C714.1 471.4 714.3 472.2 714.6 473C714.9 473.8 715.2 474.6 715.5 475.3C715.8 476.1 716.1 476.9 716.5 477.6C716.8 478.4 717.2 479.2 717.6 479.9C718 480.6 718.4 481.4 718.8 482.1C719.3 482.8 719.7 483.5 720.2 484.1C720.7 484.8 721.3 485.4 721.8 486C722.4 486.6 723 487.2 723.6 487.8C724.2 488.3 724.9 488.8 725.6 489.3C726.3 489.8 727 490.3 727.7 490.7C728.4 491.1 729.1 491.5 729.9 491.8C730.7 492.2 731.4 492.4 732.2 492.7C733 493 733.8 493.2 734.6 493.4C735.4 493.6 736.2 493.8 737.1 494C737.9 494.2 738.7 494.4 739.5 494.5C740.3 494.7 741.1 494.9 741.9 495.1C742.8 495.3 743.6 495.6 744.4 495.8C745.2 496 746 496.2 746.8 496.5C747.6 496.7 748.4 497 749.2 497.2C750 497.4 750.8 497.7 751.6 498C752.4 498.2 753.1 498.5 753.9 498.8C754.7 499.1 755.5 499.4 756.3 499.7C757 500 757.8 500.4 758.5 500.7C759.3 501.1 760 501.4 760.8 501.8C761.5 502.2 762.3 502.6 763 503C763.7 503.4 764.5 503.8 765.2 504.2C765.9 504.7 766.6 505.1 767.3 505.5C768 506 768.7 506.4 769.4 506.9C770.1 507.4 770.8 507.8 771.5 508.3C772.2 508.8 772.9 509.3 773.5 509.8C774.2 510.3 774.9 510.8 775.5 511.3C776.2 511.8 776.9 512.3 777.5 512.8C778.2 513.3 778.8 513.9 779.5 514.4C780.1 514.9 780.7 515.5 781.4 516C782 516.6 782.6 517.1 783.3 517.7C783.9 518.2 784.5 518.8 785.1 519.3C785.7 519.9 786.4 520.5 787 521C787.6 521.6 788.2 522.2 788.8 522.7C789.4 523.3 790 523.9 790.6 524.5C791.2 525.1 791.8 525.7 792.4 526.3C792.9 526.9 793.5 527.5 794.1 528.1C794.7 528.7 795.3 529.3 795.8 529.9C796.4 530.5 797 531.1 797.6 531.7C798.1 532.3 798.7 532.9 799.3 533.5C799.8 534.1 800.4 534.8 800.9 535.4C801.5 536 802.1 536.6 802.6 537.3C803.2 537.9 803.7 538.5 804.3 539.2C804.8 539.8 805.3 540.4 805.9 541.1C806.4 541.7 807 542.3 807.5 543C808 543.6 808.6 544.3 809.1 544.9C809.6 545.5 810.2 546.2 810.7 546.8C811.2 547.5 811.8 548.1 812.3 548.8C812.8 549.4 813.4 550 813.9 550.7C814.4 551.3 814.9 552 815.5 552.6C816 553.3 816.5 554 817 554.6C817.5 555.3 818 555.9 818.6 556.6C819.1 557.2 819.6 557.9 820.1 558.6C820.6 559.2 821.1 559.9 821.7 560.5C822.2 561.2 822.7 561.8 823.2 562.5C823.7 563.1 824.3 563.8 824.8 564.4C825.3 565.1 825.8 565.7 826.4 566.4C826.9 567 827.4 567.7 827.9 568.3C828.5 569 829 569.6 829.5 570.3C830 570.9 830.6 571.6 831.1 572.2C831.6 572.9 832.2 573.5 832.7 574.1C833.3 574.8 833.8 575.4 834.3 576C834.9 576.7 835.5 577.3 836 577.9C836.6 578.5 837.1 579.2 837.7 579.8C838.3 580.4 838.9 581 839.4 581.6C840 582.2 840.6 582.8 841.2 583.3C841.8 583.9 842.4 584.5 843 585.1C843.6 585.6 844.3 586.2 844.9 586.8C845.5 587.3 846.1 587.9 846.8 588.4C847.4 588.9 848.1 589.4 848.8 589.9C849.4 590.4 850.1 590.9 850.8 591.3C851.6 591.7 852.3 592.1 853.1 592.4C853.8 592.8 854.6 593.1 855.4 593.3C856.2 593.6 857 593.8 857.8 593.9C858.6 594 859.4 594 860.2 593.9C861 593.8 861.8 593.6 862.6 593.3C863.4 593.1 864.2 592.7 864.9 592.3C865.6 591.9 866.3 591.5 866.9 591C867.6 590.5 868.2 589.9 868.8 589.3C869.4 588.7 869.9 588.1 870.4 587.4C870.9 586.7 871.3 586 871.8 585.3C872.2 584.6 872.7 583.9 873.1 583.2C873.5 582.5 874 581.8 874.4 581C874.8 580.3 875.3 579.6 875.7 578.9C876.1 578.2 876.5 577.4 876.9 576.7C877.3 576 877.9 575 878.2 574.5C878.4 574.1 878.4 574.2 878.4 574.1" fill="none" stroke="#ff0000" stroke-width="5" stroke-linecap="round" stroke-linejoin="round"/>
<polyline points="138,20.2 124,20.6 137.4,503 240.5,688.5 902.5,637.2" fill="none" stroke="#000" stroke-width="4" stroke-linejoin="miter"/><line x1="137.4" y1="503" x2="151.4" y2="502.1" stroke="#000" stroke-width="3"/><line x1="136.9" y1="486.5" x2="145.3" y2="485.9" stroke="#000" stroke-width="3"/><line x1="136.5" y1="469.9" x2="150.5" y2="469.1" stroke="#000" stroke-width="3"/><line x1="136" y1="453.3" x2="144.4" y2="452.8" stroke="#000" stroke-width="3"/><line x1="135.6" y1="436.7" x2="149.5" y2="435.9" stroke="#000" stroke-width="3"/><line x1="135.1" y1="419.9" x2="143.5" y2="419.5" stroke="#000" stroke-width="3"/><line x1="134.6" y1="403.2" x2="148.6" y2="402.4" stroke="#000" stroke-width="3"/><line x1="134.2" y1="386.3" x2="142.5" y2="385.9" stroke="#000" stroke-width="3"/><line x1="133.7" y1="369.5" x2="147.7" y2="368.8" stroke="#000" stroke-width="3"/><line x1="133.2" y1="352.5" x2="141.6" y2="352.1" stroke="#000" stroke-width="3"/><line x1="132.7" y1="335.6" x2="146.7" y2="334.9" stroke="#000" stroke-width="3"/><line x1="132.3" y1="318.5" x2="140.7" y2="318.1" stroke="#000" stroke-width="3"/><line x1="131.8" y1="301.4" x2="145.8" y2="300.8" stroke="#000" stroke-width="3"/><line x1="131.3" y1="284.3" x2="139.7" y2="283.9" stroke="#000" stroke-width="3"/><line x1="130.8" y1="267.1" x2="144.8" y2="266.5" stroke="#000" stroke-width="3"/><line x1="130.4" y1="249.8" x2="138.8" y2="249.5" stroke="#000" stroke-width="3"/><line x1="129.9" y1="232.5" x2="143.9" y2="232" stroke="#000" stroke-width="3"/><line x1="129.4" y1="215.1" x2="137.8" y2="214.8" stroke="#000" stroke-width="3"/><line x1="128.9" y1="197.7" x2="142.9" y2="197.2" stroke="#000" stroke-width="3"/><line x1="128.4" y1="180.2" x2="136.8" y2="179.9" stroke="#000" stroke-width="3"/><line x1="127.9" y1="162.8" x2="141.9" y2="162.3" stroke="#000" stroke-width="3"/><line x1="127.5" y1="145.1" x2="135.9" y2="144.9" stroke="#000" stroke-width="3"/><line x1="127" y1="127.5" x2="141" y2="127.1" stroke="#000" stroke-width="3"/><line x1="126.5" y1="109.8" x2="134.9" y2="109.6" stroke="#000" stroke-width="3"/><line x1="126" y1="92.1" x2="140" y2="91.7" stroke="#000" stroke-width="3"/><line x1="125.5" y1="74.3" x2="133.9" y2="74" stroke="#000" stroke-width="3"/><line x1="125" y1="56.5" x2="139" y2="56.1" stroke="#000" stroke-width="3"/><line x1="124.5" y1="38.5" x2="132.9" y2="38.3" stroke="#000" stroke-width="3"/><line x1="143.8" y1="514.5" x2="159.7" y2="513.2" stroke="#000" stroke-width="3"/><line x1="158" y1="540" x2="173.9" y2="538.7" stroke="#000" stroke-width="3"/><line x1="171.9" y1="565" x2="187.8" y2="563.7" stroke="#000" stroke-width="3"/><line x1="187.1" y1="592.5" x2="203.1" y2="591.2" stroke="#000" stroke-width="3"/><line x1="204.1" y1="623" x2="220" y2="621.7" stroke="#000" stroke-width="3"/><line x1="221.9" y1="655" x2="237.8" y2="653.7" stroke="#000" stroke-width="3"/><line x1="150.9" y1="527.2" x2="160.8" y2="526.4" stroke="#000" stroke-width="3"/><line x1="164.9" y1="552.5" x2="174.9" y2="551.7" stroke="#000" stroke-width="3"/><line x1="179.5" y1="578.8" x2="189.5" y2="577.9" stroke="#000" stroke-width="3"/><line x1="195.6" y1="607.8" x2="205.6" y2="606.9" stroke="#000" stroke-width="3"/><line x1="213" y1="639" x2="223" y2="638.2" stroke="#000" stroke-width="3"/><line x1="231.2" y1="671.8" x2="241.2" y2="670.9" stroke="#000" stroke-width="3"/><line x1="468" y1="670.9" x2="466.2" y2="666.3" stroke="#000" stroke-width="4.4" stroke-linecap="round"/><line x1="685.7" y1="654" x2="683.9" y2="649.4" stroke="#000" stroke-width="4.4" stroke-linecap="round"/><line x1="354.3" y1="679.7" x2="353.4" y2="676.5" stroke="#000" stroke-width="2.6" stroke-linecap="round"/><line x1="578.3" y1="662.3" x2="577.4" y2="659.1" stroke="#000" stroke-width="2.6" stroke-linecap="round"/><line x1="793.3" y1="645.7" x2="792.4" y2="642.5" stroke="#000" stroke-width="2.6" stroke-linecap="round"/><line x1="900" y1="637.2" x2="897" y2="633.6" stroke="#000" stroke-width="4.2" stroke-linecap="round"/>
<line x1="526.5" y1="63.2" x2="590" y2="63.2" stroke="#0000ff" stroke-width="5" stroke-linecap="round"/>
<line x1="526.5" y1="98" x2="590" y2="98" stroke="#00ff00" stroke-width="5" stroke-linecap="round"/>
<line x1="526.5" y1="132.5" x2="590" y2="132.5" stroke="#ffff00" stroke-width="5" stroke-linecap="round"/>
<line x1="526.5" y1="166.8" x2="590" y2="166.8" stroke="#ff0000" stroke-width="5" stroke-linecap="round"/>
</g>
<g id="right"><g fill="none"><polyline points="1110.7,458.6 1691.9,415.3 1940.3,576.4" fill="none" stroke="#e6e6e6" stroke-width="1.6"/><polyline points="1110,407.2 1693.8,366.1 1943.7,520.9" fill="none" stroke="#e6e6e6" stroke-width="1.6"/><polyline points="1109.2,356 1695.7,316.5 1947,465" fill="none" stroke="#e6e6e6" stroke-width="1.6"/><polyline points="1108.5,304.8 1697.6,266.6 1950.4,408.7" fill="none" stroke="#e6e6e6" stroke-width="1.6"/><polyline points="1107.7,251.8 1699.6,216.2 1953.9,352.1" fill="none" stroke="#e6e6e6" stroke-width="1.6"/><polyline points="1106.9,198.8 1701.5,165.5 1957.3,295.1" fill="none" stroke="#e6e6e6" stroke-width="1.6"/><polyline points="1106.1,145.5 1703.5,114.5 1960.8,237.7" fill="none" stroke="#e6e6e6" stroke-width="1.6"/><polyline points="1105.3,91.5 1705.5,63 1964.2,179.9" fill="none" stroke="#e6e6e6" stroke-width="1.6"/><polyline points="1310.8,29 1309.5,494 1506.2,672" fill="none" stroke="#e6e6e6" stroke-width="1.6"/><polyline points="1512,20 1502.5,479 1722.5,652" fill="none" stroke="#e6e6e6" stroke-width="1.6"/><polyline points="1725.1,18.7 1707.4,476 1122.7,522" fill="none" stroke="#e6e6e6" stroke-width="1.6"/><polyline points="1761,34 1740.5,498.4 1147.3,548.2" fill="none" stroke="#e6e6e6" stroke-width="1.6"/><polyline points="1799.5,50.3 1776.5,522.8 1171.8,574.5" fill="none" stroke="#e6e6e6" stroke-width="1.6"/><polyline points="1839,67.1 1814,548.2 1198.7,603.2" fill="none" stroke="#e6e6e6" stroke-width="1.6"/><polyline points="1879.8,84.4 1853.5,575 1225.3,631.8" fill="none" stroke="#e6e6e6" stroke-width="1.6"/><polyline points="1922.8,102.7 1894,602.4 1254.5,663" fill="none" stroke="#e6e6e6" stroke-width="1.6"/></g>
<polyline points="1104.5,37 1707.5,11.2 1967.8,121.8 1937,631.5" fill="none" stroke="#666" stroke-width="1.5"/><line x1="1707.5" y1="11.2" x2="1690" y2="464.2" stroke="#666" stroke-width="1.5"/><line x1="1111.5" y1="510" x2="1690" y2="464.2" stroke="#e6e6e6" stroke-width="1.6"/><line x1="1690" y1="464.2" x2="1937" y2="631.5" stroke="#e6e6e6" stroke-width="1.6"/>
<path d="M1116.6 147C1117 147.1 1118.2 147.1 1118.8 147.5C1119.4 147.9 1119.9 148.5 1120.2 149.2C1120.5 149.9 1120.6 150.8 1120.7 151.6C1120.8 152.4 1120.9 153.2 1120.9 154.1C1121 154.9 1121 155.7 1121.1 156.6C1121.1 157.4 1121.2 158.2 1121.2 159.1C1121.2 159.9 1121.3 160.8 1121.3 161.6C1121.4 162.4 1121.4 163.3 1121.4 164.1C1121.5 164.9 1121.5 165.8 1121.6 166.6C1121.6 167.4 1121.7 168.3 1121.7 169.1C1121.8 169.9 1121.8 170.8 1121.9 171.6C1121.9 172.4 1122 173.3 1122 174.1C1122.1 174.9 1122.1 175.8 1122.2 176.6C1122.2 177.4 1122.2 178.3 1122.3 179.1C1122.4 179.9 1122.4 180.8 1122.5 181.6C1122.5 182.4 1122.6 183.3 1122.7 184.1C1122.7 184.9 1122.8 185.8 1122.9 186.6C1123 187.4 1123 188.3 1123.1 189.1C1123.2 189.9 1123.3 190.8 1123.5 191.6C1123.7 192.4 1123.9 193.3 1124.2 194C1124.5 194.7 1124.9 195.5 1125.4 195.9C1126 196.3 1126.8 196.5 1127.5 196.4C1128.2 196.3 1128.9 195.8 1129.6 195.4C1130.3 195 1131 194.4 1131.6 193.9C1132.3 193.4 1132.9 192.8 1133.6 192.3C1134.2 191.8 1134.9 191.3 1135.6 190.8C1136.2 190.3 1136.9 189.7 1137.5 189.2C1138.2 188.7 1138.8 188.2 1139.5 187.7C1140.2 187.2 1140.8 186.7 1141.5 186.2C1142.2 185.7 1142.9 185.2 1143.6 184.8C1144.3 184.3 1145 183.9 1145.7 183.5C1146.5 183.1 1147.2 182.7 1148 182.3C1148.7 182 1149.5 181.6 1150.3 181.3C1151 181 1151.8 180.7 1152.6 180.5C1153.4 180.2 1154.2 180 1155 179.9C1155.8 179.7 1156.7 179.6 1157.5 179.5C1158.3 179.5 1159.2 179.5 1160 179.6C1160.8 179.7 1161.7 179.8 1162.5 179.9C1163.3 180 1164.1 180.2 1164.9 180.4C1165.8 180.5 1166.6 180.7 1167.4 180.9C1168.2 181.2 1169 181.4 1169.8 181.7C1170.6 182 1171.3 182.3 1172.1 182.6C1172.9 182.9 1173.6 183.3 1174.4 183.7C1175.1 184.1 1175.8 184.5 1176.6 184.9C1177.3 185.3 1178 185.7 1178.7 186.2C1179.4 186.6 1180.1 187.1 1180.8 187.6C1181.5 188.1 1182.1 188.6 1182.8 189.1C1183.5 189.6 1184.1 190.1 1184.8 190.6C1185.4 191.1 1186.1 191.6 1186.7 192.2C1187.4 192.7 1188 193.3 1188.6 193.8C1189.2 194.4 1189.9 194.9 1190.5 195.5C1191.1 196.1 1191.7 196.7 1192.3 197.3C1192.9 197.8 1193.5 198.4 1194 199C1194.6 199.6 1195.2 200.2 1195.8 200.9C1196.3 201.5 1196.9 202.1 1197.4 202.7C1198 203.4 1198.5 204 1199.1 204.6C1199.6 205.3 1200.2 205.9 1200.7 206.6C1201.2 207.2 1201.7 207.8 1202.3 208.5C1202.8 209.2 1203.3 209.8 1203.8 210.5C1204.3 211.1 1204.8 211.8 1205.4 212.4C1205.9 213.1 1206.4 213.8 1206.9 214.4C1207.4 215.1 1207.9 215.8 1208.4 216.4C1208.9 217.1 1209.4 217.8 1209.9 218.5C1210.4 219.1 1210.9 219.8 1211.4 220.5C1211.8 221.2 1212.3 221.8 1212.8 222.5C1213.3 223.2 1213.8 223.9 1214.2 224.6C1214.7 225.3 1215.2 226 1215.7 226.7C1216.1 227.4 1216.6 228 1217 228.7C1217.5 229.4 1217.9 230.2 1218.4 230.9C1218.8 231.6 1219.3 232.3 1219.7 233C1220.2 233.7 1220.6 234.4 1221 235.1C1221.4 235.9 1221.9 236.6 1222.3 237.3C1222.7 238 1223.1 238.8 1223.5 239.5C1223.9 240.2 1224.3 240.9 1224.7 241.7C1225.1 242.4 1225.5 243.1 1225.9 243.9C1226.3 244.6 1226.7 245.4 1227.1 246.1C1227.5 246.8 1227.9 247.6 1228.3 248.3C1228.6 249.1 1229 249.8 1229.4 250.5C1229.8 251.3 1230.1 252 1230.5 252.8C1230.9 253.5 1231.3 254.3 1231.6 255C1232 255.8 1232.4 256.5 1232.7 257.3C1233.1 258.1 1233.4 258.8 1233.8 259.6C1234.2 260.3 1234.5 261.1 1234.9 261.8C1235.3 262.6 1235.7 263.3 1236 264.1C1236.4 264.8 1236.8 265.5 1237.2 266.3C1237.5 267 1237.9 267.8 1238.3 268.5C1238.7 269.3 1239 270 1239.4 270.8C1239.8 271.5 1240.2 272.3 1240.5 273C1240.9 273.8 1241.3 274.5 1241.7 275.3C1242 276 1242.4 276.7 1242.8 277.5C1243.2 278.2 1243.5 279 1243.9 279.7C1244.3 280.5 1244.7 281.2 1245 282C1245.4 282.7 1245.7 283.5 1246.1 284.3C1246.4 285 1246.8 285.8 1247.1 286.5C1247.5 287.3 1247.9 288 1248.2 288.8C1248.6 289.5 1249 290.3 1249.4 291C1249.8 291.7 1250.2 292.4 1250.7 293.2C1251.1 293.9 1251.6 294.6 1252.1 295.2C1252.6 295.8 1253.2 296.6 1253.7 296.8C1254.3 297 1254.9 296.9 1255.4 296.5C1255.9 296.1 1256.2 295.3 1256.5 294.5C1256.7 293.8 1256.9 292.9 1257.1 292.1C1257.3 291.3 1257.4 290.5 1257.6 289.7C1257.7 288.8 1257.9 288 1258 287.2C1258.1 286.4 1258.2 285.5 1258.4 284.7C1258.5 283.9 1258.5 283 1258.6 282.2C1258.7 281.4 1258.8 280.5 1258.8 279.7C1258.9 278.9 1259 278 1259 277.2C1259.1 276.4 1259.2 275.5 1259.3 274.7C1259.3 273.9 1259.4 273 1259.5 272.2C1259.6 271.4 1259.7 270.6 1259.8 269.7C1259.9 268.9 1260 268.1 1260.1 267.2C1260.2 266.4 1260.3 265.6 1260.4 264.7C1260.5 263.9 1260.6 263.1 1260.7 262.3C1260.9 261.4 1261 260.6 1261.1 259.8C1261.2 259 1261.4 257.8 1261.4 257.3C1261.5 256.8 1261.3 256.8 1261.5 256.8C1261.7 256.8 1262.5 257.1 1262.8 257.4C1263.1 257.7 1263.3 258.6 1263.4 258.8" fill="none" stroke="#0000ff" stroke-width="4.3" stroke-linecap="round" stroke-linejoin="round"/><path d="M1119.6 249.2C1119.7 249.6 1119.9 250.8 1120 251.7C1120.2 252.5 1120.3 253.3 1120.5 254.1C1120.6 255 1120.7 255.8 1120.9 256.6C1121 257.4 1121.1 258.3 1121.3 259.1C1121.4 259.9 1121.5 260.7 1121.6 261.6C1121.7 262.4 1121.8 263.2 1121.9 264C1122 264.9 1122.1 265.7 1122.2 266.5C1122.3 267.4 1122.4 268.2 1122.4 269C1122.5 269.9 1122.6 270.7 1122.6 271.5C1122.7 272.4 1122.8 273.2 1122.8 274C1122.9 274.9 1122.9 275.7 1123 276.5C1123.1 277.4 1123.1 278.2 1123.2 279C1123.3 279.9 1123.4 280.7 1123.5 281.5C1123.5 282.3 1123.6 283.2 1123.7 284C1123.8 284.8 1123.9 285.7 1124 286.5C1124.2 287.3 1124.3 288.1 1124.5 288.9C1124.7 289.7 1125 290.6 1125.4 291.2C1125.8 291.9 1126.3 292.6 1126.9 292.8C1127.5 293.1 1128.3 293 1129.1 292.9C1129.8 292.7 1130.5 292.2 1131.3 291.8C1132 291.4 1132.7 290.9 1133.4 290.4C1134.1 290 1134.8 289.5 1135.5 289.1C1136.2 288.6 1136.9 288.2 1137.6 287.8C1138.4 287.4 1139.1 287 1139.8 286.6C1140.6 286.2 1141.3 285.9 1142.1 285.5C1142.8 285.1 1143.6 284.8 1144.4 284.5C1145.1 284.2 1145.9 283.9 1146.7 283.6C1147.5 283.4 1148.3 283.2 1149.1 283C1149.9 282.8 1150.8 282.7 1151.6 282.6C1152.4 282.5 1153.3 282.5 1154.1 282.5C1154.9 282.5 1155.8 282.6 1156.6 282.6C1157.4 282.7 1158.3 282.8 1159.1 282.9C1159.9 283.1 1160.7 283.2 1161.5 283.4C1162.4 283.5 1163.2 283.7 1164 283.9C1164.8 284.1 1165.6 284.4 1166.4 284.7C1167.2 284.9 1167.9 285.2 1168.7 285.6C1169.5 285.9 1170.2 286.2 1171 286.6C1171.7 287 1172.5 287.4 1173.2 287.8C1173.9 288.2 1174.6 288.6 1175.4 289C1176.1 289.5 1176.8 289.9 1177.5 290.4C1178.2 290.9 1178.9 291.3 1179.5 291.8C1180.2 292.3 1180.9 292.8 1181.6 293.3C1182.2 293.8 1182.9 294.3 1183.5 294.8C1184.2 295.4 1184.8 295.9 1185.5 296.4C1186.1 297 1186.7 297.5 1187.3 298.1C1188 298.6 1188.6 299.2 1189.2 299.8C1189.8 300.3 1190.4 300.9 1191 301.5C1191.6 302.1 1192.2 302.7 1192.8 303.3C1193.4 303.8 1194 304.4 1194.5 305.1C1195.1 305.7 1195.7 306.3 1196.2 306.9C1196.8 307.5 1197.4 308.1 1197.9 308.7C1198.5 309.4 1199 310 1199.5 310.6C1200.1 311.3 1200.6 311.9 1201.1 312.6C1201.7 313.2 1202.2 313.9 1202.7 314.5C1203.2 315.2 1203.7 315.8 1204.3 316.5C1204.8 317.2 1205.3 317.8 1205.8 318.5C1206.3 319.2 1206.8 319.8 1207.3 320.5C1207.7 321.2 1208.2 321.9 1208.7 322.6C1209.2 323.2 1209.7 323.9 1210.1 324.6C1210.6 325.3 1211.1 326 1211.5 326.7C1212 327.4 1212.4 328.1 1212.9 328.8C1213.3 329.5 1213.8 330.2 1214.2 330.9C1214.6 331.7 1215 332.4 1215.5 333.1C1215.9 333.8 1216.3 334.5 1216.7 335.3C1217.1 336 1217.5 336.7 1218 337.4C1218.4 338.2 1218.8 338.9 1219.2 339.6C1219.6 340.4 1220 341.1 1220.4 341.8C1220.8 342.6 1221.2 343.3 1221.6 344C1222 344.8 1222.4 345.5 1222.8 346.2C1223.2 347 1223.6 347.7 1224 348.4C1224.4 349.2 1224.8 349.9 1225.2 350.6C1225.6 351.4 1226 352.1 1226.4 352.8C1226.8 353.6 1227.2 354.3 1227.6 355C1227.9 355.8 1228.3 356.5 1228.7 357.2C1229.1 358 1229.5 358.7 1229.9 359.5C1230.3 360.2 1230.7 360.9 1231.1 361.7C1231.5 362.4 1231.8 363.2 1232.2 363.9C1232.6 364.6 1233 365.4 1233.4 366.1C1233.8 366.9 1234.2 367.6 1234.5 368.3C1234.9 369.1 1235.3 369.8 1235.7 370.6C1236.1 371.3 1236.4 372.1 1236.8 372.8C1237.2 373.6 1237.6 374.3 1237.9 375C1238.3 375.8 1238.7 376.5 1239.1 377.3C1239.4 378 1239.8 378.8 1240.2 379.5C1240.5 380.3 1240.9 381 1241.3 381.8C1241.7 382.5 1242 383.3 1242.4 384C1242.8 384.8 1243.1 385.5 1243.5 386.3C1243.8 387 1244.2 387.8 1244.5 388.6C1244.9 389.3 1245.2 390.1 1245.6 390.8C1245.9 391.6 1246.3 392.3 1246.7 393.1C1247.1 393.8 1247.5 394.6 1247.9 395.3C1248.3 396 1248.7 396.7 1249.2 397.4C1249.6 398.1 1250.1 398.8 1250.5 399.5C1251 400.2 1251.5 400.9 1252 401.5C1252.6 402.1 1253.2 402.9 1253.8 403.2C1254.4 403.5 1255.1 403.7 1255.6 403.5C1256.1 403.3 1256.6 402.5 1256.9 401.8C1257.2 401.1 1257.3 400.2 1257.5 399.4C1257.7 398.6 1257.8 397.8 1257.9 397C1258.1 396.2 1258.2 395.3 1258.3 394.5C1258.5 393.7 1258.6 392.9 1258.7 392C1258.8 391.2 1259 390.4 1259.1 389.5C1259.2 388.7 1259.3 387.9 1259.4 387.1C1259.5 386.2 1259.5 385.4 1259.6 384.6C1259.7 383.7 1259.8 382.9 1259.9 382.1C1260 381.2 1260 380.4 1260.2 379.6C1260.3 378.8 1260.4 377.9 1260.6 377.1C1260.7 376.3 1260.9 375.5 1261.1 374.7C1261.3 373.9 1261.5 373 1261.7 372.2C1261.9 371.5 1261.9 370.5 1262.2 370.3C1262.5 370.1 1263.2 370.6 1263.5 370.9C1263.8 371.2 1264 372.1 1264.1 372.3" fill="none" stroke="#00ff00" stroke-width="4.3" stroke-linecap="round" stroke-linejoin="round"/><path d="M1120.5 348.8C1120.6 349.2 1120.8 350.4 1121 351.3C1121.2 352.1 1121.3 352.9 1121.5 353.7C1121.6 354.5 1121.8 355.4 1121.9 356.2C1122.1 357 1122.2 357.8 1122.3 358.7C1122.5 359.5 1122.6 360.3 1122.7 361.1C1122.8 362 1122.9 362.8 1122.9 363.6C1123 364.5 1123.1 365.3 1123.2 366.1C1123.2 367 1123.3 367.8 1123.4 368.6C1123.5 369.5 1123.5 370.3 1123.6 371.1C1123.7 372 1123.7 372.8 1123.8 373.6C1123.9 374.5 1124 375.3 1124 376.1C1124.1 376.9 1124.2 377.8 1124.3 378.6C1124.4 379.4 1124.5 380.3 1124.6 381.1C1124.8 381.9 1124.9 382.8 1125.1 383.6C1125.2 384.4 1125.4 385.2 1125.8 385.9C1126.1 386.6 1126.6 387.4 1127.2 387.8C1127.8 388.3 1128.6 388.6 1129.3 388.6C1130.1 388.7 1130.9 388.5 1131.7 388.4C1132.5 388.2 1133.3 387.8 1134.1 387.6C1134.9 387.3 1135.7 387 1136.5 386.8C1137.3 386.5 1138.1 386.3 1138.9 386.1C1139.7 385.9 1140.5 385.7 1141.3 385.6C1142.1 385.4 1143 385.2 1143.8 385.1C1144.6 384.9 1145.4 384.8 1146.3 384.7C1147.1 384.7 1147.9 384.6 1148.8 384.6C1149.6 384.6 1150.4 384.7 1151.3 384.8C1152.1 384.9 1152.9 385.1 1153.7 385.2C1154.5 385.4 1155.4 385.6 1156.2 385.8C1157 386 1157.8 386.3 1158.6 386.5C1159.4 386.8 1160.2 387 1160.9 387.3C1161.7 387.6 1162.5 387.9 1163.3 388.2C1164.1 388.5 1164.8 388.9 1165.6 389.2C1166.3 389.6 1167.1 389.9 1167.8 390.3C1168.6 390.7 1169.3 391.1 1170 391.5C1170.8 391.9 1171.5 392.3 1172.2 392.8C1172.9 393.2 1173.6 393.7 1174.3 394.1C1175 394.6 1175.7 395.1 1176.3 395.6C1177 396.1 1177.7 396.6 1178.4 397.1C1179 397.6 1179.7 398.1 1180.3 398.6C1181 399.1 1181.6 399.7 1182.3 400.2C1182.9 400.8 1183.5 401.3 1184.1 401.9C1184.8 402.4 1185.4 403 1186 403.6C1186.6 404.1 1187.2 404.7 1187.8 405.3C1188.4 405.9 1189 406.5 1189.6 407.1C1190.2 407.7 1190.7 408.3 1191.3 408.9C1191.9 409.5 1192.5 410.1 1193 410.7C1193.6 411.3 1194.1 412 1194.7 412.6C1195.2 413.2 1195.8 413.9 1196.3 414.5C1196.8 415.1 1197.4 415.8 1197.9 416.4C1198.4 417.1 1198.9 417.8 1199.4 418.4C1199.9 419.1 1200.4 419.7 1200.9 420.4C1201.4 421.1 1201.9 421.8 1202.4 422.4C1202.9 423.1 1203.4 423.8 1203.9 424.5C1204.3 425.2 1204.8 425.9 1205.3 426.5C1205.8 427.2 1206.2 427.9 1206.7 428.6C1207.2 429.3 1207.7 430 1208.1 430.7C1208.6 431.4 1209 432.1 1209.5 432.8C1210 433.5 1210.4 434.2 1210.9 434.9C1211.3 435.6 1211.8 436.3 1212.2 437C1212.7 437.7 1213.1 438.4 1213.6 439.1C1214 439.8 1214.5 440.5 1214.9 441.2C1215.4 441.9 1215.8 442.6 1216.2 443.4C1216.7 444.1 1217.1 444.8 1217.5 445.5C1218 446.2 1218.4 446.9 1218.8 447.6C1219.3 448.4 1219.7 449.1 1220.1 449.8C1220.5 450.5 1221 451.2 1221.4 452C1221.8 452.7 1222.2 453.4 1222.6 454.1C1223.1 454.8 1223.5 455.6 1223.9 456.3C1224.3 457 1224.7 457.8 1225.1 458.5C1225.5 459.2 1225.9 459.9 1226.3 460.7C1226.7 461.4 1227.1 462.1 1227.5 462.9C1227.9 463.6 1228.3 464.3 1228.7 465.1C1229.1 465.8 1229.5 466.5 1229.9 467.3C1230.3 468 1230.7 468.8 1231.1 469.5C1231.5 470.2 1231.9 471 1232.2 471.7C1232.6 472.5 1233 473.2 1233.4 474C1233.7 474.7 1234.1 475.5 1234.5 476.2C1234.8 477 1235.2 477.7 1235.6 478.5C1236 479.2 1236.3 480 1236.7 480.7C1237.1 481.5 1237.4 482.2 1237.8 483C1238.2 483.7 1238.6 484.4 1238.9 485.2C1239.3 485.9 1239.7 486.7 1240.1 487.4C1240.4 488.2 1240.8 488.9 1241.2 489.7C1241.6 490.4 1241.9 491.2 1242.3 491.9C1242.7 492.7 1243 493.4 1243.4 494.2C1243.8 494.9 1244.2 495.7 1244.5 496.4C1244.9 497.1 1245.3 497.9 1245.8 498.6C1246.2 499.3 1246.6 500 1247.1 500.7C1247.6 501.4 1248.1 502.1 1248.6 502.7C1249.1 503.4 1249.6 504.1 1250.1 504.7C1250.7 505.3 1251.2 506 1251.8 506.5C1252.4 507.1 1253 507.8 1253.7 508.2C1254.3 508.6 1255.1 509.1 1255.7 509C1256.3 509 1256.9 508.6 1257.3 508.1C1257.8 507.5 1257.9 506.6 1258.2 505.8C1258.4 505 1258.4 504.2 1258.6 503.4C1258.7 502.5 1258.8 501.7 1258.9 500.9C1259.1 500.1 1259.2 499.2 1259.3 498.4C1259.5 497.6 1259.6 496.8 1259.7 495.9C1259.8 495.1 1259.9 494.3 1260 493.4C1260.1 492.6 1260.2 491.8 1260.3 491C1260.4 490.1 1260.5 489.3 1260.7 488.5C1260.8 487.7 1261 486.8 1261.2 486C1261.3 485.2 1261.6 484.4 1261.8 483.6C1262 482.8 1262.3 481.7 1262.5 481.2C1262.6 480.7 1262.4 480.7 1262.6 480.7C1262.8 480.7 1263.6 481 1263.9 481.3C1264.2 481.6 1264.4 482.5 1264.5 482.7" fill="none" stroke="#ffff00" stroke-width="4.3" stroke-linecap="round" stroke-linejoin="round"/><path d="M1121.9 441.6C1122 442 1122.1 443.3 1122.3 444.1C1122.4 444.9 1122.5 445.7 1122.6 446.6C1122.7 447.4 1122.8 448.2 1123 449C1123.1 449.9 1123.2 450.7 1123.3 451.5C1123.4 452.4 1123.5 453.2 1123.6 454C1123.8 454.8 1123.9 455.7 1124 456.5C1124.1 457.3 1124.2 458.2 1124.3 459C1124.4 459.8 1124.5 460.6 1124.6 461.5C1124.7 462.3 1124.8 463.1 1125 464C1125.1 464.8 1125.2 465.6 1125.4 466.4C1125.5 467.3 1125.7 468.1 1125.8 468.9C1126 469.7 1126.2 470.5 1126.4 471.3C1126.7 472.1 1126.9 472.9 1127.2 473.7C1127.6 474.4 1128 475.2 1128.5 475.8C1129 476.4 1129.7 477 1130.3 477.4C1131 477.7 1131.9 478 1132.7 478.1C1133.4 478.2 1134.3 478.2 1135.1 478.2C1136 478.1 1136.8 478 1137.6 477.9C1138.5 477.8 1139.3 477.7 1140.1 477.6C1140.9 477.6 1141.8 477.5 1142.6 477.5C1143.4 477.5 1144.3 477.6 1145.1 477.6C1145.9 477.7 1146.8 477.8 1147.6 477.9C1148.4 478.1 1149.3 478.2 1150.1 478.4C1150.9 478.5 1151.7 478.7 1152.5 479C1153.3 479.2 1154.1 479.4 1154.9 479.7C1155.7 479.9 1156.5 480.2 1157.3 480.5C1158 480.8 1158.8 481.2 1159.6 481.5C1160.3 481.8 1161.1 482.2 1161.8 482.6C1162.6 483 1163.3 483.4 1164 483.8C1164.8 484.2 1165.5 484.6 1166.2 485C1166.9 485.4 1167.7 485.9 1168.4 486.3C1169.1 486.8 1169.8 487.2 1170.5 487.7C1171.2 488.1 1171.8 488.6 1172.5 489.1C1173.2 489.6 1173.9 490.1 1174.6 490.6C1175.2 491.1 1175.9 491.6 1176.5 492.1C1177.2 492.6 1177.8 493.2 1178.5 493.7C1179.1 494.2 1179.8 494.8 1180.4 495.3C1181 495.9 1181.7 496.4 1182.3 497C1182.9 497.5 1183.5 498.1 1184.1 498.7C1184.7 499.3 1185.3 499.8 1185.9 500.4C1186.5 501 1187.1 501.6 1187.7 502.2C1188.3 502.8 1188.9 503.4 1189.5 504C1190 504.6 1190.6 505.2 1191.2 505.8C1191.8 506.4 1192.4 507 1192.9 507.6C1193.5 508.2 1194.1 508.8 1194.6 509.4C1195.2 510.1 1195.7 510.7 1196.3 511.3C1196.8 511.9 1197.4 512.6 1197.9 513.2C1198.5 513.8 1199 514.5 1199.5 515.1C1200.1 515.8 1200.6 516.4 1201.1 517.1C1201.7 517.7 1202.2 518.4 1202.7 519C1203.2 519.7 1203.8 520.3 1204.3 521C1204.8 521.6 1205.3 522.3 1205.8 522.9C1206.4 523.6 1206.9 524.2 1207.4 524.9C1207.9 525.6 1208.4 526.3 1208.9 526.9C1209.4 527.6 1209.8 528.3 1210.3 529C1210.8 529.7 1211.3 530.3 1211.7 531C1212.2 531.7 1212.6 532.4 1213.1 533.2C1213.5 533.9 1214 534.6 1214.4 535.3C1214.8 536 1215.2 536.7 1215.6 537.5C1216 538.2 1216.4 538.9 1216.8 539.7C1217.2 540.4 1217.6 541.1 1218 541.9C1218.4 542.6 1218.8 543.4 1219.2 544.1C1219.6 544.8 1220 545.6 1220.4 546.3C1220.7 547.1 1221.1 547.8 1221.5 548.5C1221.9 549.3 1222.3 550 1222.7 550.8C1223.1 551.5 1223.5 552.2 1223.9 553C1224.3 553.7 1224.7 554.4 1225.1 555.2C1225.5 555.9 1225.9 556.6 1226.3 557.3C1226.7 558.1 1227.2 558.8 1227.6 559.5C1228 560.2 1228.4 561 1228.9 561.7C1229.3 562.4 1229.7 563.1 1230.1 563.8C1230.5 564.6 1231 565.3 1231.4 566C1231.8 566.7 1232.2 567.5 1232.6 568.2C1233 568.9 1233.4 569.7 1233.8 570.4C1234.2 571.1 1234.6 571.9 1234.9 572.6C1235.3 573.4 1235.7 574.1 1236.1 574.9C1236.4 575.6 1236.8 576.4 1237.2 577.1C1237.5 577.9 1237.9 578.6 1238.3 579.4C1238.6 580.1 1239 580.9 1239.4 581.6C1239.7 582.4 1240.1 583.1 1240.5 583.9C1240.8 584.6 1241.2 585.4 1241.6 586.1C1242 586.9 1242.3 587.6 1242.7 588.4C1243.1 589.1 1243.5 589.8 1243.9 590.6C1244.3 591.3 1244.7 592.1 1245.1 592.8C1245.5 593.5 1245.9 594.3 1246.3 595C1246.7 595.7 1247.2 596.4 1247.6 597.1C1248.1 597.8 1248.5 598.5 1249 599.2C1249.5 599.9 1250 600.5 1250.6 601.1C1251.1 601.8 1251.7 602.4 1252.3 602.9C1253 603.5 1253.6 604.1 1254.3 604.4C1255 604.8 1255.8 605.1 1256.4 605C1257 604.9 1257.7 604.4 1258.1 603.8C1258.5 603.3 1258.7 602.4 1259 601.6C1259.3 600.8 1259.4 600 1259.6 599.2C1259.8 598.3 1260 597.5 1260.2 596.7C1260.3 595.9 1260.5 595.1 1260.6 594.2C1260.7 593.4 1260.8 592.6 1261 591.8C1261.1 590.9 1261.3 590.1 1261.5 589.3C1261.7 588.5 1262 587.7 1262.3 587C1262.6 586.2 1263.1 585.2 1263.3 584.7C1263.6 584.2 1263.5 583.8 1263.8 583.8C1264.1 583.8 1264.8 584.1 1265.1 584.4C1265.4 584.7 1265.6 585.6 1265.7 585.8" fill="none" stroke="#ff0000" stroke-width="4.3" stroke-linecap="round" stroke-linejoin="round"/><path d="M1324 136.5C1324.1 136 1324.2 134.1 1324.6 133.2C1324.9 132.4 1325.8 131.4 1326.1 131.5C1326.4 131.6 1326.3 133.2 1326.4 134C1326.5 134.8 1326.5 135.7 1326.6 136.5C1326.7 137.3 1326.8 138.1 1326.9 139C1327 139.8 1327.1 140.6 1327.2 141.5C1327.3 142.3 1327.3 143.1 1327.4 144C1327.5 144.8 1327.6 145.6 1327.7 146.5C1327.8 147.3 1327.9 148.1 1328 148.9C1328 149.8 1328.1 150.6 1328.2 151.4C1328.3 152.3 1328.4 153.1 1328.4 153.9C1328.5 154.8 1328.6 155.6 1328.7 156.4C1328.7 157.3 1328.8 158.1 1328.9 158.9C1328.9 159.8 1329 160.6 1329.1 161.4C1329.1 162.3 1329.2 163.1 1329.2 163.9C1329.3 164.8 1329.4 165.6 1329.4 166.4C1329.5 167.3 1329.5 168.1 1329.6 168.9C1329.7 169.8 1329.7 170.6 1329.8 171.4C1329.8 172.3 1329.9 173.1 1330 173.9C1330 174.8 1330.1 175.6 1330.2 176.4C1330.3 177.3 1330.3 178.1 1330.4 178.9C1330.5 179.8 1330.6 180.6 1330.7 181.4C1330.8 182.3 1330.9 183.1 1331 183.9C1331.1 184.7 1331.2 185.6 1331.4 186.4C1331.5 187.2 1331.6 188.1 1331.9 188.8C1332.1 189.5 1332.4 190.3 1332.9 190.5C1333.4 190.8 1334.1 190.6 1334.6 190.2C1335.2 189.9 1335.9 189.2 1336.5 188.6C1337 188.1 1337.6 187.4 1338.1 186.8C1338.7 186.2 1339.2 185.5 1339.7 184.9C1340.3 184.2 1340.8 183.6 1341.3 182.9C1341.8 182.2 1342.3 181.5 1342.7 180.9C1343.2 180.2 1343.7 179.5 1344.2 178.8C1344.7 178.1 1345.2 177.5 1345.7 176.8C1346.2 176.2 1346.8 175.5 1347.4 174.9C1347.9 174.3 1348.5 173.7 1349.1 173.1C1349.6 172.5 1350.2 171.9 1350.8 171.3C1351.4 170.7 1352 170.2 1352.7 169.6C1353.3 169.1 1354 168.6 1354.7 168.2C1355.4 167.7 1356.1 167.3 1356.9 167C1357.6 166.6 1358.4 166.2 1359.2 165.9C1360 165.6 1360.7 165.3 1361.5 165.1C1362.3 164.8 1363.1 164.6 1363.9 164.4C1364.8 164.2 1365.6 164 1366.4 163.9C1367.2 163.7 1368 163.6 1368.9 163.5C1369.7 163.5 1370.5 163.4 1371.4 163.4C1372.2 163.5 1373 163.5 1373.9 163.6C1374.7 163.7 1375.5 163.8 1376.3 164C1377.2 164.1 1378 164.3 1378.8 164.6C1379.6 164.8 1380.4 165 1381.2 165.2C1382 165.5 1382.8 165.8 1383.6 166C1384.3 166.3 1385.1 166.6 1385.9 166.9C1386.7 167.3 1387.4 167.6 1388.2 167.9C1388.9 168.3 1389.7 168.7 1390.4 169.1C1391.2 169.4 1391.9 169.8 1392.7 170.2C1393.4 170.6 1394.1 171 1394.8 171.5C1395.6 171.9 1396.3 172.3 1397 172.7C1397.7 173.1 1398.5 173.6 1399.2 174C1399.9 174.4 1400.6 174.9 1401.3 175.3C1402 175.7 1402.7 176.2 1403.4 176.6C1404.1 177.1 1404.8 177.6 1405.5 178C1406.2 178.5 1406.9 179 1407.6 179.5C1408.3 179.9 1408.9 180.4 1409.6 180.9C1410.3 181.4 1411 181.9 1411.6 182.4C1412.3 182.9 1413 183.4 1413.6 183.9C1414.3 184.4 1414.9 184.9 1415.6 185.5C1416.3 186 1416.9 186.5 1417.6 187C1418.2 187.5 1418.9 188.1 1419.5 188.6C1420.1 189.2 1420.8 189.7 1421.4 190.2C1422 190.8 1422.6 191.4 1423.3 191.9C1423.9 192.5 1424.5 193 1425.1 193.6C1425.7 194.2 1426.3 194.8 1426.9 195.4C1427.5 196 1428.1 196.5 1428.7 197.1C1429.3 197.7 1429.8 198.3 1430.4 198.9C1431 199.5 1431.6 200.1 1432.1 200.8C1432.7 201.4 1433.3 202 1433.8 202.6C1434.4 203.2 1435 203.8 1435.5 204.5C1436.1 205.1 1436.6 205.7 1437.2 206.4C1437.7 207 1438.2 207.6 1438.8 208.3C1439.3 208.9 1439.8 209.6 1440.3 210.2C1440.9 210.9 1441.4 211.5 1441.9 212.2C1442.4 212.9 1442.9 213.5 1443.4 214.2C1443.9 214.9 1444.4 215.6 1444.9 216.2C1445.4 216.9 1445.8 217.6 1446.3 218.3C1446.8 219 1447.3 219.7 1447.7 220.4C1448.2 221.1 1448.6 221.8 1449.1 222.5C1449.5 223.2 1450 223.9 1450.4 224.6C1450.9 225.3 1451.3 226 1451.7 226.7C1452.2 227.4 1452.6 228.2 1453 228.9C1453.4 229.6 1453.8 230.3 1454.2 231.1C1454.6 231.8 1455 232.6 1455.4 233.3C1455.8 234 1456.2 234.8 1456.5 235.5C1456.9 236.3 1457.3 237 1457.7 237.8C1458 238.5 1458.4 239.3 1458.8 240C1459.1 240.8 1459.5 241.5 1459.9 242.3C1460.2 243 1460.6 243.8 1461 244.5C1461.3 245.3 1461.7 246 1462 246.8C1462.4 247.5 1462.7 248.3 1463.1 249.1C1463.4 249.8 1463.7 250.6 1464.1 251.4C1464.4 252.1 1464.8 252.9 1465.1 253.7C1465.4 254.4 1465.8 255.2 1466.1 255.9C1466.4 256.7 1466.8 257.5 1467.1 258.2C1467.4 259 1467.8 259.8 1468.1 260.5C1468.5 261.3 1468.8 262.1 1469.1 262.8C1469.5 263.6 1469.8 264.4 1470.1 265.1C1470.5 265.9 1470.8 266.7 1471.1 267.4C1471.4 268.2 1471.8 269 1472.1 269.8C1472.4 270.5 1472.7 271.3 1473 272.1C1473.4 272.8 1473.7 273.6 1474 274.4C1474.3 275.1 1474.7 275.9 1475 276.7C1475.3 277.4 1475.7 278.2 1476 279C1476.4 279.7 1476.7 280.5 1477.1 281.2C1477.5 282 1477.8 282.7 1478.2 283.5C1478.6 284.2 1479.1 284.9 1479.5 285.6C1479.9 286.3 1480.4 287 1480.9 287.7C1481.3 288.4 1481.8 289.1 1482.3 289.8C1482.8 290.5 1483.3 291.2 1483.8 291.8C1484.3 292.3 1484.9 293 1485.4 293.1C1485.9 293.2 1486.4 292.8 1486.8 292.3C1487.1 291.8 1487.3 290.8 1487.5 290.1C1487.7 289.3 1487.8 288.4 1488 287.6C1488.1 286.8 1488.2 286 1488.3 285.1C1488.4 284.3 1488.5 283.5 1488.6 282.6C1488.8 281.8 1488.9 281 1489 280.2C1489.1 279.3 1489.2 278.5 1489.2 277.7C1489.3 276.8 1489.4 276 1489.5 275.2C1489.6 274.3 1489.7 273.5 1489.7 272.7C1489.8 271.8 1489.9 271 1490 270.2C1490 269.3 1490.1 268.5 1490.2 267.7C1490.3 266.8 1490.3 266 1490.4 265.2C1490.5 264.4 1490.6 263.5 1490.7 262.7C1490.7 261.9 1490.8 261 1490.9 260.2C1491 259.4 1491.1 258.5 1491.2 257.7C1491.3 256.9 1491.4 256 1491.5 255.2C1491.6 254.4 1491.7 253.5 1491.8 252.7C1491.8 251.9 1491.9 251.1 1492 250.2C1492.2 249.4 1492.3 248.6 1492.4 247.7C1492.5 246.9 1492.6 246.1 1492.7 245.3C1492.8 244.4 1492.9 243.6 1493 242.8C1493.1 241.9 1493.2 241.1 1493.4 240.3C1493.5 239.5 1493.8 238.5 1494 237.9C1494.2 237.3 1494.2 236.1 1494.5 236.5C1494.8 236.9 1495.5 238.1 1495.8 240.1C1496.1 242.1 1496.3 247.1 1496.4 248.5" fill="none" stroke="#0000ff" stroke-width="4.7" stroke-linecap="round" stroke-linejoin="round"/><path d="M1324.4 238.2C1324.5 237.8 1324.6 236.3 1324.9 235.6C1325.2 234.9 1325.9 234 1326.1 234.2C1326.3 234.4 1326.2 235.9 1326.3 236.7C1326.3 237.5 1326.4 238.4 1326.5 239.2C1326.5 240 1326.6 240.9 1326.7 241.7C1326.7 242.5 1326.8 243.4 1326.8 244.2C1326.9 245 1327 245.9 1327 246.7C1327.1 247.5 1327.2 248.4 1327.2 249.2C1327.3 250 1327.3 250.9 1327.4 251.7C1327.5 252.5 1327.5 253.3 1327.6 254.2C1327.7 255 1327.7 255.8 1327.8 256.7C1327.8 257.5 1327.9 258.3 1328 259.2C1328 260 1328.1 260.8 1328.2 261.7C1328.2 262.5 1328.3 263.3 1328.3 264.2C1328.4 265 1328.4 265.8 1328.5 266.7C1328.6 267.5 1328.6 268.3 1328.7 269.2C1328.7 270 1328.8 270.8 1328.8 271.7C1328.9 272.5 1329 273.3 1329 274.2C1329.1 275 1329.2 275.8 1329.2 276.7C1329.3 277.5 1329.4 278.3 1329.5 279.2C1329.6 280 1329.7 280.8 1329.8 281.6C1329.9 282.5 1330.1 283.3 1330.3 284.1C1330.5 284.8 1330.8 285.7 1331.2 286.2C1331.6 286.7 1332.2 287.1 1332.8 287C1333.4 287 1334.1 286.4 1334.8 286C1335.4 285.6 1336.1 285 1336.7 284.4C1337.3 283.9 1338 283.3 1338.6 282.8C1339.2 282.2 1339.8 281.7 1340.4 281.1C1341 280.5 1341.6 279.9 1342.2 279.3C1342.7 278.7 1343.3 278.1 1343.9 277.5C1344.5 276.8 1345 276.2 1345.6 275.6C1346.2 275 1346.8 274.4 1347.4 273.9C1348 273.3 1348.6 272.8 1349.3 272.3C1350 271.8 1350.7 271.3 1351.4 270.9C1352.1 270.4 1352.8 270 1353.5 269.6C1354.3 269.3 1355 268.9 1355.8 268.6C1356.6 268.3 1357.4 268 1358.2 267.8C1359 267.6 1359.8 267.3 1360.6 267.1C1361.4 266.9 1362.2 266.8 1363 266.6C1363.9 266.5 1364.7 266.4 1365.5 266.3C1366.4 266.2 1367.2 266.1 1368 266.1C1368.9 266.1 1369.7 266.1 1370.5 266.2C1371.4 266.2 1372.2 266.3 1373 266.4C1373.8 266.4 1374.7 266.6 1375.5 266.7C1376.3 266.8 1377.1 267 1378 267.2C1378.8 267.3 1379.6 267.5 1380.4 267.7C1381.2 268 1382 268.2 1382.8 268.5C1383.6 268.7 1384.4 269 1385.1 269.3C1385.9 269.7 1386.7 270 1387.4 270.3C1388.2 270.7 1388.9 271.1 1389.7 271.5C1390.4 271.8 1391.1 272.2 1391.9 272.6C1392.6 273.1 1393.3 273.5 1394 273.9C1394.7 274.3 1395.5 274.8 1396.2 275.2C1396.9 275.7 1397.6 276.1 1398.3 276.6C1399 277 1399.7 277.5 1400.3 278C1401 278.5 1401.7 278.9 1402.4 279.4C1403.1 279.9 1403.7 280.4 1404.4 280.9C1405.1 281.4 1405.7 281.9 1406.4 282.5C1407 283 1407.7 283.5 1408.3 284C1409 284.6 1409.6 285.1 1410.2 285.7C1410.8 286.2 1411.5 286.8 1412.1 287.3C1412.7 287.9 1413.3 288.5 1413.9 289.1C1414.5 289.6 1415.1 290.2 1415.7 290.8C1416.3 291.4 1416.9 292 1417.5 292.6C1418 293.2 1418.6 293.8 1419.2 294.4C1419.8 295 1420.3 295.6 1420.9 296.2C1421.5 296.8 1422 297.4 1422.6 298.1C1423.2 298.7 1423.7 299.3 1424.3 299.9C1424.8 300.6 1425.4 301.2 1425.9 301.8C1426.5 302.5 1427 303.1 1427.5 303.7C1428.1 304.4 1428.6 305 1429.1 305.7C1429.6 306.3 1430.2 307 1430.7 307.6C1431.2 308.3 1431.7 308.9 1432.2 309.6C1432.7 310.3 1433.2 310.9 1433.7 311.6C1434.2 312.3 1434.7 313 1435.2 313.6C1435.7 314.3 1436.1 315 1436.6 315.7C1437.1 316.4 1437.6 317.1 1438 317.8C1438.5 318.5 1438.9 319.2 1439.4 319.9C1439.9 320.6 1440.3 321.3 1440.8 322C1441.2 322.7 1441.7 323.4 1442.1 324.1C1442.5 324.8 1443 325.5 1443.4 326.2C1443.8 326.9 1444.3 327.6 1444.7 328.4C1445.1 329.1 1445.6 329.8 1446 330.5C1446.4 331.2 1446.8 331.9 1447.3 332.7C1447.7 333.4 1448.1 334.1 1448.5 334.8C1448.9 335.5 1449.4 336.3 1449.8 337C1450.2 337.7 1450.6 338.5 1451 339.2C1451.4 339.9 1451.8 340.7 1452.2 341.4C1452.5 342.1 1452.9 342.9 1453.3 343.6C1453.7 344.4 1454.1 345.1 1454.5 345.8C1454.9 346.6 1455.2 347.3 1455.6 348.1C1456 348.8 1456.4 349.6 1456.8 350.3C1457.2 351 1457.5 351.8 1457.9 352.5C1458.3 353.3 1458.7 354 1459.1 354.7C1459.4 355.5 1459.8 356.2 1460.2 357C1460.6 357.7 1461 358.5 1461.3 359.2C1461.7 360 1462.1 360.7 1462.5 361.4C1462.8 362.2 1463.2 362.9 1463.6 363.7C1464 364.4 1464.3 365.2 1464.7 365.9C1465.1 366.7 1465.5 367.4 1465.8 368.2C1466.2 368.9 1466.6 369.7 1466.9 370.4C1467.3 371.2 1467.7 371.9 1468.1 372.6C1468.4 373.4 1468.8 374.2 1469.2 374.9C1469.5 375.7 1469.9 376.4 1470.2 377.2C1470.6 377.9 1471 378.7 1471.3 379.4C1471.7 380.2 1472.1 380.9 1472.4 381.7C1472.8 382.4 1473.2 383.2 1473.6 383.9C1473.9 384.6 1474.3 385.4 1474.7 386.1C1475.1 386.9 1475.5 387.6 1475.9 388.3C1476.3 389 1476.8 389.8 1477.2 390.5C1477.6 391.2 1478.1 391.9 1478.5 392.6C1479 393.3 1479.5 394 1479.9 394.7C1480.4 395.3 1480.9 396 1481.4 396.7C1481.9 397.3 1482.5 398.1 1483 398.4C1483.5 398.7 1484.2 398.9 1484.6 398.6C1485.1 398.3 1485.4 397.5 1485.6 396.8C1485.9 396.1 1486 395.2 1486.1 394.4C1486.3 393.5 1486.4 392.7 1486.5 391.9C1486.6 391 1486.7 390.2 1486.8 389.4C1486.9 388.6 1487 387.7 1487.1 386.9C1487.3 386.1 1487.4 385.3 1487.5 384.4C1487.6 383.6 1487.7 382.8 1487.8 381.9C1487.9 381.1 1488 380.3 1488.1 379.5C1488.2 378.6 1488.3 377.8 1488.4 377C1488.5 376.1 1488.6 375.3 1488.7 374.5C1488.8 373.7 1488.9 372.8 1489 372C1489.1 371.2 1489.2 370.3 1489.3 369.5C1489.4 368.7 1489.5 367.9 1489.6 367C1489.8 366.2 1489.9 365.4 1490 364.6C1490.1 363.7 1490.3 362.9 1490.4 362.1C1490.5 361.3 1490.6 360.4 1490.8 359.6C1490.9 358.8 1491 358 1491.2 357.1C1491.3 356.3 1491.4 355.5 1491.6 354.7C1491.7 353.8 1491.9 352.8 1492 352.2C1492.1 351.5 1491.9 350.5 1492.2 350.7C1492.5 350.9 1493.2 351.8 1493.5 353.1C1493.8 354.4 1494 357.8 1494.1 358.7" fill="none" stroke="#00ff00" stroke-width="4.7" stroke-linecap="round" stroke-linejoin="round"/><path d="M1324.4 338.8C1324.5 338.5 1324.6 337.4 1324.8 336.9C1325 336.4 1325.5 335.6 1325.7 335.8C1325.9 336 1325.9 337.5 1325.9 338.3C1326 339.1 1326.1 340 1326.2 340.8C1326.3 341.6 1326.4 342.4 1326.4 343.3C1326.5 344.1 1326.6 344.9 1326.7 345.8C1326.8 346.6 1326.8 347.4 1326.9 348.3C1327 349.1 1327.1 349.9 1327.2 350.8C1327.2 351.6 1327.3 352.4 1327.4 353.3C1327.5 354.1 1327.6 354.9 1327.7 355.7C1327.7 356.6 1327.8 357.4 1327.9 358.2C1328 359.1 1328 359.9 1328.1 360.7C1328.2 361.6 1328.3 362.4 1328.3 363.2C1328.4 364.1 1328.5 364.9 1328.5 365.7C1328.6 366.6 1328.7 367.4 1328.7 368.2C1328.8 369.1 1328.9 369.9 1328.9 370.7C1329 371.5 1329.1 372.4 1329.2 373.2C1329.2 374 1329.3 374.9 1329.4 375.7C1329.5 376.5 1329.6 377.4 1329.8 378.2C1330 379 1330.3 379.8 1330.6 380.5C1331 381.1 1331.5 381.8 1332 382C1332.6 382.2 1333.3 382 1334 381.7C1334.6 381.4 1335.3 380.8 1336 380.3C1336.6 379.8 1337.3 379.3 1337.9 378.8C1338.6 378.3 1339.3 377.7 1339.9 377.2C1340.6 376.7 1341.3 376.2 1341.9 375.8C1342.6 375.3 1343.3 374.8 1344 374.3C1344.7 373.9 1345.4 373.4 1346.1 373C1346.8 372.5 1347.5 372.1 1348.2 371.7C1349 371.3 1349.7 370.9 1350.5 370.5C1351.2 370.2 1352 369.9 1352.8 369.6C1353.6 369.3 1354.4 369 1355.2 368.8C1356 368.6 1356.8 368.3 1357.6 368.2C1358.4 368 1359.2 367.8 1360 367.7C1360.9 367.6 1361.7 367.5 1362.5 367.5C1363.4 367.4 1364.2 367.4 1365 367.5C1365.9 367.5 1366.7 367.6 1367.5 367.7C1368.4 367.7 1369.2 367.9 1370 368C1370.8 368.1 1371.6 368.3 1372.5 368.4C1373.3 368.6 1374.1 368.8 1374.9 369C1375.7 369.2 1376.5 369.4 1377.3 369.7C1378.1 369.9 1378.9 370.1 1379.7 370.4C1380.5 370.7 1381.3 370.9 1382.1 371.2C1382.9 371.5 1383.6 371.8 1384.4 372.1C1385.2 372.5 1385.9 372.8 1386.7 373.2C1387.4 373.5 1388.2 373.9 1388.9 374.3C1389.7 374.7 1390.4 375.1 1391.1 375.5C1391.8 375.9 1392.6 376.3 1393.3 376.8C1394 377.2 1394.7 377.7 1395.4 378.2C1396.1 378.6 1396.7 379.1 1397.4 379.6C1398.1 380.1 1398.7 380.6 1399.4 381.1C1400.1 381.6 1400.7 382.1 1401.4 382.7C1402 383.2 1402.7 383.7 1403.3 384.3C1403.9 384.8 1404.6 385.4 1405.2 385.9C1405.8 386.5 1406.5 387 1407.1 387.6C1407.7 388.1 1408.3 388.7 1408.9 389.3C1409.5 389.8 1410.1 390.4 1410.7 391C1411.3 391.6 1411.9 392.2 1412.5 392.8C1413.1 393.4 1413.6 394 1414.2 394.6C1414.8 395.2 1415.4 395.8 1416 396.4C1416.5 397 1417.1 397.6 1417.7 398.2C1418.2 398.8 1418.8 399.4 1419.4 400.1C1419.9 400.7 1420.5 401.3 1421.1 401.9C1421.6 402.5 1422.2 403.1 1422.7 403.8C1423.3 404.4 1423.9 405 1424.4 405.6C1425 406.2 1425.5 406.9 1426.1 407.5C1426.6 408.1 1427.2 408.8 1427.7 409.4C1428.2 410 1428.8 410.7 1429.3 411.3C1429.8 412 1430.3 412.6 1430.8 413.3C1431.4 414 1431.9 414.6 1432.4 415.3C1432.9 416 1433.3 416.6 1433.8 417.3C1434.3 418 1434.8 418.7 1435.3 419.4C1435.7 420.1 1436.2 420.7 1436.7 421.4C1437.1 422.1 1437.6 422.8 1438.1 423.5C1438.5 424.2 1439 424.9 1439.4 425.6C1439.9 426.3 1440.3 427 1440.8 427.7C1441.2 428.5 1441.7 429.2 1442.1 429.9C1442.5 430.6 1443 431.3 1443.4 432C1443.8 432.7 1444.2 433.5 1444.7 434.2C1445.1 434.9 1445.5 435.6 1445.9 436.4C1446.3 437.1 1446.7 437.8 1447.1 438.6C1447.5 439.3 1447.9 440 1448.3 440.8C1448.6 441.5 1449 442.3 1449.4 443C1449.8 443.7 1450.2 444.5 1450.6 445.2C1450.9 446 1451.3 446.7 1451.7 447.5C1452.1 448.2 1452.5 448.9 1452.8 449.7C1453.2 450.4 1453.6 451.2 1454 451.9C1454.4 452.6 1454.8 453.4 1455.1 454.1C1455.5 454.9 1455.9 455.6 1456.3 456.4C1456.7 457.1 1457.1 457.8 1457.4 458.6C1457.8 459.3 1458.2 460.1 1458.6 460.8C1459 461.6 1459.3 462.3 1459.7 463.1C1460.1 463.8 1460.4 464.5 1460.8 465.3C1461.2 466 1461.5 466.8 1461.9 467.6C1462.3 468.3 1462.6 469.1 1463 469.8C1463.3 470.6 1463.6 471.3 1464 472.1C1464.3 472.9 1464.7 473.6 1465 474.4C1465.3 475.2 1465.7 475.9 1466 476.7C1466.3 477.5 1466.7 478.2 1467 479C1467.3 479.8 1467.7 480.5 1468 481.3C1468.3 482.1 1468.6 482.8 1469 483.6C1469.3 484.4 1469.6 485.1 1470 485.9C1470.3 486.6 1470.7 487.4 1471 488.2C1471.4 488.9 1471.7 489.7 1472.1 490.4C1472.5 491.2 1472.8 491.9 1473.2 492.7C1473.6 493.4 1473.9 494.2 1474.3 494.9C1474.7 495.6 1475.1 496.4 1475.6 497.1C1476 497.8 1476.5 498.5 1476.9 499.2C1477.4 499.9 1477.9 500.6 1478.5 501.2C1479 501.7 1479.6 502.4 1480.2 502.6C1480.8 502.8 1481.5 502.6 1482 502.2C1482.5 501.8 1482.8 500.9 1483 500.2C1483.3 499.5 1483.5 498.6 1483.7 497.8C1483.9 497 1484 496.1 1484.2 495.3C1484.3 494.5 1484.5 493.7 1484.6 492.9C1484.8 492 1484.9 491.2 1485.1 490.4C1485.2 489.6 1485.3 488.8 1485.5 487.9C1485.6 487.1 1485.7 486.3 1485.8 485.4C1485.9 484.6 1486 483.8 1486.1 483C1486.2 482.1 1486.3 481.3 1486.4 480.5C1486.6 479.6 1486.7 478.8 1486.8 478C1486.9 477.2 1487 476.3 1487.2 475.5C1487.3 474.7 1487.5 473.9 1487.6 473.1C1487.8 472.2 1488 471.4 1488.2 470.6C1488.3 469.8 1488.5 469 1488.7 468.2C1488.9 467.4 1489.1 466.5 1489.3 465.7C1489.5 464.9 1489.6 463.5 1489.9 463.3C1490.2 463.1 1490.9 464 1491.2 464.8C1491.5 465.6 1491.7 467.7 1491.8 468.3" fill="none" stroke="#ffff00" stroke-width="4.7" stroke-linecap="round" stroke-linejoin="round"/><path d="M1323.7 436.1C1323.8 435.8 1323.9 434.7 1324.1 434.2C1324.3 433.7 1324.8 432.9 1325 433.1C1325.2 433.3 1325.2 434.8 1325.3 435.6C1325.4 436.4 1325.4 437.3 1325.5 438.1C1325.6 438.9 1325.7 439.7 1325.8 440.6C1325.9 441.4 1326 442.2 1326.1 443.1C1326.2 443.9 1326.2 444.7 1326.3 445.6C1326.4 446.4 1326.5 447.2 1326.6 448.1C1326.7 448.9 1326.8 449.7 1326.9 450.6C1326.9 451.4 1327 452.2 1327.1 453C1327.2 453.9 1327.3 454.7 1327.3 455.5C1327.4 456.4 1327.5 457.2 1327.6 458C1327.6 458.9 1327.7 459.7 1327.8 460.5C1327.8 461.4 1327.9 462.2 1328 463C1328 463.9 1328.1 464.7 1328.2 465.5C1328.2 466.4 1328.3 467.2 1328.4 468C1328.4 468.9 1328.5 469.7 1328.6 470.5C1328.7 471.4 1328.7 472.2 1328.9 473C1329 473.8 1329.1 474.7 1329.4 475.4C1329.7 476.1 1330.1 476.9 1330.7 477.3C1331.2 477.7 1331.9 477.8 1332.6 477.7C1333.3 477.6 1334 477.2 1334.8 476.8C1335.5 476.4 1336.2 475.9 1336.9 475.5C1337.6 475.1 1338.3 474.6 1339.1 474.2C1339.8 473.8 1340.5 473.3 1341.2 472.9C1341.9 472.5 1342.7 472.1 1343.4 471.7C1344.1 471.3 1344.9 470.9 1345.6 470.5C1346.4 470.2 1347.1 469.8 1347.9 469.4C1348.6 469.1 1349.4 468.8 1350.2 468.5C1351 468.2 1351.8 467.9 1352.6 467.7C1353.4 467.5 1354.2 467.3 1355 467.1C1355.8 466.9 1356.6 466.8 1357.5 466.7C1358.3 466.6 1359.1 466.5 1360 466.5C1360.8 466.5 1361.6 466.5 1362.5 466.6C1363.3 466.6 1364.1 466.7 1364.9 466.8C1365.8 466.9 1366.6 467.1 1367.4 467.2C1368.2 467.4 1369.1 467.5 1369.9 467.7C1370.7 467.9 1371.5 468.1 1372.3 468.3C1373.1 468.5 1373.9 468.7 1374.7 469C1375.5 469.2 1376.3 469.5 1377.1 469.8C1377.9 470.1 1378.7 470.4 1379.4 470.7C1380.2 471.1 1381 471.4 1381.7 471.8C1382.5 472.1 1383.2 472.5 1383.9 472.9C1384.7 473.3 1385.4 473.7 1386.1 474.1C1386.9 474.5 1387.6 475 1388.3 475.4C1389 475.9 1389.7 476.3 1390.4 476.8C1391.1 477.3 1391.8 477.7 1392.4 478.2C1393.1 478.7 1393.8 479.2 1394.5 479.7C1395.1 480.2 1395.8 480.7 1396.4 481.2C1397.1 481.8 1397.7 482.3 1398.4 482.8C1399 483.4 1399.6 483.9 1400.3 484.5C1400.9 485 1401.5 485.6 1402.1 486.1C1402.8 486.7 1403.4 487.3 1404 487.8C1404.6 488.4 1405.2 489 1405.8 489.6C1406.4 490.2 1407 490.7 1407.6 491.3C1408.2 491.9 1408.7 492.5 1409.3 493.2C1409.9 493.8 1410.5 494.4 1411 495C1411.6 495.6 1412.2 496.2 1412.7 496.8C1413.3 497.5 1413.8 498.1 1414.4 498.7C1414.9 499.3 1415.5 500 1416 500.6C1416.6 501.2 1417.1 501.9 1417.6 502.5C1418.2 503.1 1418.7 503.8 1419.2 504.4C1419.8 505.1 1420.3 505.7 1420.8 506.4C1421.3 507 1421.9 507.7 1422.4 508.4C1422.9 509 1423.4 509.7 1423.9 510.4C1424.4 511 1424.9 511.7 1425.4 512.4C1425.9 513 1426.4 513.7 1426.9 514.4C1427.3 515.1 1427.8 515.8 1428.3 516.4C1428.8 517.1 1429.3 517.8 1429.8 518.5C1430.3 519.2 1430.7 519.8 1431.2 520.5C1431.7 521.2 1432.2 521.9 1432.6 522.6C1433.1 523.3 1433.6 524 1434.1 524.7C1434.5 525.4 1435 526 1435.5 526.7C1435.9 527.4 1436.4 528.1 1436.8 528.8C1437.3 529.5 1437.8 530.2 1438.2 530.9C1438.7 531.6 1439.1 532.3 1439.6 533C1440 533.7 1440.5 534.4 1440.9 535.2C1441.4 535.9 1441.8 536.6 1442.2 537.3C1442.7 538 1443.1 538.7 1443.5 539.4C1443.9 540.2 1444.4 540.9 1444.8 541.6C1445.2 542.3 1445.6 543 1446 543.8C1446.4 544.5 1446.9 545.2 1447.3 546C1447.7 546.7 1448.1 547.4 1448.5 548.2C1448.9 548.9 1449.3 549.6 1449.7 550.4C1450.1 551.1 1450.5 551.8 1450.8 552.6C1451.2 553.3 1451.6 554.1 1452 554.8C1452.4 555.5 1452.8 556.3 1453.2 557C1453.5 557.8 1453.9 558.5 1454.3 559.3C1454.7 560 1455.1 560.7 1455.4 561.5C1455.8 562.2 1456.2 563 1456.5 563.7C1456.9 564.5 1457.3 565.2 1457.6 566C1458 566.7 1458.4 567.5 1458.7 568.3C1459.1 569 1459.5 569.8 1459.8 570.5C1460.2 571.3 1460.5 572 1460.9 572.8C1461.2 573.5 1461.6 574.3 1461.9 575.1C1462.2 575.8 1462.6 576.6 1462.9 577.4C1463.3 578.1 1463.6 578.9 1463.9 579.7C1464.3 580.4 1464.6 581.2 1465 581.9C1465.3 582.7 1465.6 583.5 1466 584.2C1466.3 585 1466.6 585.8 1467 586.5C1467.3 587.3 1467.6 588.1 1468 588.8C1468.3 589.6 1468.7 590.4 1469 591.1C1469.4 591.9 1469.7 592.6 1470.1 593.4C1470.4 594.2 1470.8 594.9 1471.1 595.7C1471.5 596.4 1471.8 597.2 1472.2 597.9C1472.6 598.7 1472.9 599.4 1473.3 600.2C1473.7 600.9 1474.1 601.6 1474.5 602.4C1475 603.1 1475.4 603.8 1475.9 604.5C1476.3 605.2 1476.8 605.9 1477.3 606.5C1477.8 607.1 1478.4 607.9 1479 608C1479.5 608.2 1480.2 608.1 1480.6 607.7C1481.1 607.2 1481.3 606.3 1481.6 605.6C1481.8 604.8 1482 604 1482.1 603.2C1482.3 602.3 1482.4 601.5 1482.6 600.7C1482.7 599.9 1482.9 599 1483 598.2C1483.2 597.4 1483.3 596.6 1483.4 595.8C1483.6 594.9 1483.7 594.1 1483.8 593.3C1483.9 592.4 1484 591.6 1484.1 590.8C1484.2 590 1484.3 589.1 1484.4 588.3C1484.5 587.5 1484.6 586.6 1484.8 585.8C1484.9 585 1485 584.2 1485.1 583.3C1485.3 582.5 1485.4 581.7 1485.6 580.9C1485.7 580 1485.9 579.2 1486 578.4C1486.2 577.6 1486.4 576.8 1486.6 575.9C1486.7 575.1 1486.9 574.3 1487.1 573.5C1487.3 572.7 1487.5 571.8 1487.7 571.1C1487.8 570.3 1487.8 569.2 1488.1 569.1C1488.4 569 1489.1 569.8 1489.4 570.6C1489.7 571.4 1489.9 573.5 1490 574.1" fill="none" stroke="#ff0000" stroke-width="4.7" stroke-linecap="round" stroke-linejoin="round"/><path d="M1526 117.5C1526.1 117.1 1526.2 115.6 1526.5 114.9C1526.8 114.2 1527.5 113.3 1527.7 113.5C1527.9 113.7 1527.8 115.2 1527.9 116C1528 116.8 1528.1 117.7 1528.1 118.5C1528.2 119.3 1528.3 120.2 1528.4 121C1528.4 121.8 1528.5 122.6 1528.6 123.5C1528.7 124.3 1528.7 125.1 1528.8 126C1528.9 126.8 1528.9 127.6 1529 128.5C1529.1 129.3 1529.2 130.1 1529.2 131C1529.3 131.8 1529.4 132.6 1529.4 133.5C1529.5 134.3 1529.6 135.1 1529.6 136C1529.7 136.8 1529.8 137.6 1529.8 138.5C1529.9 139.3 1529.9 140.1 1530 141C1530 141.8 1530.1 142.6 1530.2 143.5C1530.2 144.3 1530.3 145.1 1530.3 145.9C1530.4 146.8 1530.4 147.6 1530.5 148.4C1530.6 149.3 1530.6 150.1 1530.7 150.9C1530.8 151.8 1530.8 152.6 1530.9 153.4C1531 154.3 1531.1 155.1 1531.3 155.9C1531.4 156.7 1531.6 157.6 1531.8 158.3C1532.1 159.1 1532.5 159.9 1533 160.5C1533.5 161 1534.1 161.5 1534.8 161.6C1535.5 161.8 1536.3 161.5 1537.1 161.3C1537.8 161 1538.6 160.5 1539.3 160.1C1540 159.7 1540.7 159.3 1541.4 158.8C1542.1 158.4 1542.8 157.9 1543.5 157.5C1544.2 157 1544.9 156.5 1545.6 156.1C1546.3 155.6 1546.9 155.1 1547.6 154.6C1548.3 154.1 1548.9 153.6 1549.6 153.1C1550.3 152.6 1551 152.1 1551.6 151.6C1552.3 151.1 1553 150.7 1553.7 150.2C1554.4 149.8 1555.2 149.4 1555.9 149C1556.6 148.6 1557.4 148.2 1558.1 147.8C1558.9 147.5 1559.6 147.1 1560.4 146.8C1561.2 146.5 1561.9 146.2 1562.7 145.9C1563.5 145.6 1564.3 145.4 1565.1 145.1C1565.9 144.9 1566.7 144.7 1567.5 144.5C1568.3 144.3 1569.1 144.1 1570 143.9C1570.8 143.8 1571.6 143.6 1572.4 143.5C1573.3 143.4 1574.1 143.3 1574.9 143.2C1575.7 143.1 1576.6 143.1 1577.4 143C1578.2 143 1579.1 143 1579.9 143C1580.7 143.1 1581.6 143.1 1582.4 143.2C1583.2 143.2 1584.1 143.3 1584.9 143.4C1585.7 143.5 1586.6 143.6 1587.4 143.8C1588.2 143.9 1589 144.1 1589.8 144.2C1590.7 144.4 1591.5 144.6 1592.3 144.7C1593.1 144.9 1593.9 145.1 1594.7 145.4C1595.5 145.6 1596.3 145.8 1597.1 146.1C1597.9 146.3 1598.7 146.6 1599.5 146.9C1600.3 147.2 1601 147.5 1601.8 147.8C1602.6 148.1 1603.4 148.4 1604.1 148.8C1604.9 149.1 1605.6 149.5 1606.4 149.8C1607.1 150.2 1607.9 150.6 1608.6 150.9C1609.4 151.3 1610.1 151.7 1610.9 152.1C1611.6 152.5 1612.3 152.9 1613.1 153.3C1613.8 153.7 1614.5 154.1 1615.2 154.6C1615.9 155 1616.7 155.4 1617.4 155.9C1618.1 156.3 1618.8 156.7 1619.5 157.2C1620.2 157.7 1620.9 158.1 1621.6 158.6C1622.2 159.1 1622.9 159.5 1623.6 160C1624.3 160.5 1625 161 1625.6 161.5C1626.3 162 1627 162.5 1627.6 163C1628.3 163.5 1629 164 1629.6 164.5C1630.3 165.1 1630.9 165.6 1631.6 166.1C1632.2 166.6 1632.8 167.2 1633.5 167.7C1634.1 168.3 1634.7 168.8 1635.4 169.4C1636 169.9 1636.6 170.5 1637.2 171C1637.8 171.6 1638.5 172.2 1639.1 172.7C1639.7 173.3 1640.3 173.9 1640.9 174.5C1641.5 175.1 1642.1 175.6 1642.7 176.2C1643.2 176.8 1643.8 177.4 1644.4 178C1645 178.6 1645.6 179.2 1646.2 179.8C1646.7 180.4 1647.3 181 1647.9 181.6C1648.5 182.2 1649 182.9 1649.6 183.5C1650.2 184.1 1650.7 184.7 1651.3 185.3C1651.8 185.9 1652.4 186.6 1652.9 187.2C1653.5 187.8 1654 188.5 1654.6 189.1C1655.1 189.7 1655.6 190.4 1656.2 191C1656.7 191.7 1657.2 192.3 1657.8 193C1658.3 193.6 1658.8 194.3 1659.3 194.9C1659.8 195.6 1660.4 196.2 1660.9 196.9C1661.4 197.5 1661.9 198.2 1662.4 198.9C1662.9 199.5 1663.4 200.2 1663.9 200.9C1664.4 201.5 1664.9 202.2 1665.4 202.9C1665.9 203.6 1666.4 204.2 1666.8 204.9C1667.3 205.6 1667.8 206.3 1668.3 207C1668.8 207.6 1669.3 208.3 1669.7 209C1670.2 209.7 1670.7 210.4 1671.2 211.1C1671.6 211.8 1672.1 212.5 1672.6 213.1C1673 213.8 1673.5 214.5 1673.9 215.2C1674.4 215.9 1674.8 216.6 1675.3 217.4C1675.7 218.1 1676.2 218.8 1676.6 219.5C1677 220.2 1677.5 220.9 1677.9 221.6C1678.3 222.3 1678.7 223.1 1679.2 223.8C1679.6 224.5 1680 225.2 1680.5 225.9C1680.9 226.6 1681.3 227.4 1681.8 228.1C1682.2 228.8 1682.6 229.5 1683.1 230.2C1683.5 230.9 1683.9 231.6 1684.4 232.3C1684.8 233 1685.3 233.8 1685.7 234.5C1686.1 235.2 1686.6 235.9 1687 236.6C1687.4 237.3 1687.9 238 1688.3 238.7C1688.8 239.4 1689.2 240.1 1689.6 240.9C1690.1 241.6 1690.5 242.3 1691 243C1691.4 243.7 1691.9 244.4 1692.3 245.1C1692.7 245.8 1693.2 246.5 1693.6 247.2C1694.1 247.9 1694.5 248.7 1694.9 249.4C1695.4 250.1 1695.8 250.8 1696.3 251.4C1696.8 252.1 1697.3 252.8 1697.8 253.4C1698.3 254.1 1698.9 254.7 1699.5 255.3C1700.1 255.9 1700.7 256.5 1701.3 257C1702 257.4 1702.7 257.9 1703.4 258C1704.1 258 1704.8 257.8 1705.3 257.3C1705.9 256.9 1706.3 256.1 1706.7 255.4C1707 254.7 1707.3 253.8 1707.5 253C1707.8 252.2 1708 251.4 1708.2 250.6C1708.4 249.8 1708.6 249 1708.8 248.2C1709 247.4 1709.2 246.6 1709.3 245.8C1709.5 244.9 1709.6 244.1 1709.7 243.3C1709.9 242.5 1710 241.6 1710.1 240.8C1710.2 240 1710.3 239.1 1710.4 238.3C1710.5 237.5 1710.6 236.7 1710.7 235.8C1710.9 235 1711 234.2 1711.1 233.4C1711.2 232.5 1711.4 231.7 1711.5 230.9C1711.6 230.1 1711.8 229.2 1711.9 228.4C1712.1 227.6 1712.2 226.8 1712.3 226C1712.5 225.1 1712.6 224.3 1712.8 223.5C1713 222.7 1713.1 221.9 1713.4 221C1713.6 220.2 1713.8 219.4 1714.1 218.7C1714.4 217.9 1714.8 217 1715.1 216.4C1715.3 215.7 1715.4 215.1 1715.7 215C1716 214.9 1716.7 215.4 1717 215.9C1717.3 216.4 1717.5 217.7 1717.6 218" fill="none" stroke="#0000ff" stroke-width="4" stroke-linecap="round" stroke-linejoin="round"/><path d="M1523.6 215.9C1523.7 215.6 1523.8 214.5 1524 214C1524.2 213.5 1524.7 212.7 1524.9 212.9C1525.1 213.1 1525.1 214.6 1525.2 215.4C1525.3 216.2 1525.4 217.1 1525.4 217.9C1525.5 218.7 1525.6 219.5 1525.7 220.4C1525.8 221.2 1525.9 222 1526 222.9C1526.1 223.7 1526.2 224.5 1526.3 225.4C1526.4 226.2 1526.4 227 1526.5 227.9C1526.6 228.7 1526.7 229.5 1526.8 230.4C1526.9 231.2 1527 232 1527.1 232.8C1527.2 233.7 1527.3 234.5 1527.3 235.3C1527.4 236.2 1527.5 237 1527.6 237.8C1527.7 238.7 1527.7 239.5 1527.8 240.3C1527.9 241.2 1527.9 242 1528 242.8C1528.1 243.7 1528.2 244.5 1528.3 245.3C1528.4 246.2 1528.4 247 1528.6 247.8C1528.7 248.6 1528.8 249.5 1529 250.3C1529.2 251.1 1529.4 251.9 1529.8 252.6C1530.2 253.3 1530.7 254.1 1531.3 254.5C1531.8 255 1532.6 255.3 1533.3 255.4C1534.1 255.5 1534.9 255.3 1535.7 255.1C1536.5 254.9 1537.3 254.5 1538.1 254.2C1538.8 253.9 1539.6 253.6 1540.4 253.3C1541.1 252.9 1541.9 252.6 1542.6 252.2C1543.4 251.9 1544.2 251.5 1544.9 251.1C1545.6 250.7 1546.3 250.3 1547.1 249.9C1547.8 249.4 1548.5 249 1549.2 248.6C1549.9 248.2 1550.7 247.7 1551.4 247.4C1552.2 247 1552.9 246.6 1553.7 246.3C1554.4 246 1555.2 245.7 1556 245.4C1556.8 245.2 1557.6 245 1558.4 244.8C1559.2 244.5 1560.1 244.3 1560.9 244.2C1561.7 244 1562.5 243.8 1563.3 243.7C1564.2 243.5 1565 243.4 1565.8 243.3C1566.6 243.2 1567.5 243.1 1568.3 243.1C1569.1 243 1570 243 1570.8 242.9C1571.6 242.9 1572.5 242.9 1573.3 243C1574.2 243 1575 243.1 1575.8 243.2C1576.6 243.2 1577.5 243.3 1578.3 243.5C1579.1 243.6 1580 243.7 1580.8 243.9C1581.6 244 1582.4 244.2 1583.2 244.4C1584 244.6 1584.8 244.8 1585.7 245C1586.5 245.3 1587.3 245.5 1588.1 245.7C1588.9 246 1589.7 246.2 1590.4 246.5C1591.2 246.8 1592 247.1 1592.8 247.4C1593.6 247.7 1594.4 248 1595.1 248.3C1595.9 248.6 1596.7 249 1597.4 249.3C1598.2 249.7 1598.9 250 1599.7 250.4C1600.4 250.8 1601.2 251.1 1601.9 251.5C1602.7 251.9 1603.4 252.3 1604.1 252.7C1604.9 253.1 1605.6 253.5 1606.3 253.9C1607.1 254.3 1607.8 254.8 1608.5 255.2C1609.2 255.6 1609.9 256.1 1610.6 256.5C1611.3 256.9 1612.1 257.4 1612.8 257.8C1613.5 258.3 1614.2 258.8 1614.8 259.2C1615.5 259.7 1616.2 260.2 1616.9 260.6C1617.6 261.1 1618.3 261.6 1619 262.1C1619.7 262.6 1620.3 263 1621 263.5C1621.7 264 1622.4 264.5 1623 265C1623.7 265.5 1624.4 266 1625 266.6C1625.7 267.1 1626.3 267.6 1627 268.1C1627.6 268.7 1628.3 269.2 1628.9 269.7C1629.5 270.3 1630.2 270.8 1630.8 271.4C1631.4 271.9 1632 272.5 1632.7 273.1C1633.3 273.6 1633.9 274.2 1634.5 274.8C1635.1 275.3 1635.7 275.9 1636.3 276.5C1636.9 277.1 1637.4 277.7 1638 278.3C1638.6 278.9 1639.2 279.5 1639.8 280.1C1640.3 280.7 1640.9 281.4 1641.5 282C1642 282.6 1642.6 283.2 1643.2 283.8C1643.7 284.4 1644.3 285.1 1644.8 285.7C1645.4 286.3 1645.9 286.9 1646.5 287.6C1647.1 288.2 1647.6 288.8 1648.2 289.4C1648.7 290.1 1649.3 290.7 1649.8 291.3C1650.4 292 1650.9 292.6 1651.5 293.2C1652 293.9 1652.5 294.5 1653.1 295.1C1653.6 295.8 1654.2 296.4 1654.7 297.1C1655.2 297.7 1655.8 298.3 1656.3 299C1656.8 299.6 1657.3 300.3 1657.8 301C1658.4 301.6 1658.9 302.3 1659.4 302.9C1659.9 303.6 1660.4 304.3 1660.9 304.9C1661.4 305.6 1661.9 306.3 1662.4 307C1662.9 307.6 1663.4 308.3 1663.9 309C1664.4 309.7 1664.8 310.3 1665.3 311C1665.8 311.7 1666.3 312.4 1666.8 313.1C1667.3 313.7 1667.7 314.4 1668.2 315.1C1668.7 315.8 1669.2 316.5 1669.6 317.2C1670.1 317.9 1670.6 318.6 1671 319.3C1671.5 320 1671.9 320.7 1672.4 321.4C1672.8 322.1 1673.2 322.8 1673.7 323.5C1674.1 324.2 1674.5 325 1675 325.7C1675.4 326.4 1675.8 327.1 1676.3 327.8C1676.7 328.5 1677.1 329.3 1677.5 330C1678 330.7 1678.4 331.4 1678.9 332.1C1679.3 332.8 1679.7 333.5 1680.2 334.2C1680.6 334.9 1681.1 335.6 1681.6 336.3C1682 337 1682.5 337.7 1683 338.4C1683.4 339.1 1683.9 339.8 1684.4 340.5C1684.8 341.2 1685.3 341.9 1685.8 342.6C1686.2 343.3 1686.7 344 1687.2 344.7C1687.7 345.3 1688.1 346 1688.6 346.7C1689.1 347.4 1689.5 348.1 1690 348.8C1690.5 349.5 1690.9 350.2 1691.4 350.9C1691.9 351.6 1692.3 352.3 1692.8 353C1693.3 353.6 1693.8 354.3 1694.3 355C1694.8 355.6 1695.4 356.3 1695.9 356.9C1696.5 357.5 1697 358.2 1697.6 358.7C1698.2 359.2 1698.9 359.8 1699.5 359.8C1700.2 359.9 1700.9 359.6 1701.4 359.1C1701.9 358.7 1702.2 357.8 1702.6 357.1C1702.9 356.4 1703.1 355.5 1703.4 354.7C1703.7 353.9 1703.9 353.1 1704.1 352.3C1704.3 351.5 1704.6 350.7 1704.8 349.9C1705 349.1 1705.2 348.3 1705.4 347.5C1705.6 346.7 1705.7 345.8 1705.9 345C1706 344.2 1706.2 343.4 1706.3 342.6C1706.5 341.7 1706.6 340.9 1706.8 340.1C1706.9 339.3 1707.1 338.4 1707.3 337.6C1707.4 336.8 1707.7 336 1707.9 335.2C1708.1 334.4 1708.3 333.6 1708.6 332.8C1708.9 332 1709.1 331.2 1709.4 330.4C1709.7 329.6 1710 328.8 1710.2 328.1C1710.5 327.3 1710.7 325.9 1711.1 325.7C1711.5 325.5 1712.1 326.1 1712.4 326.6C1712.7 327.1 1712.9 328.3 1713 328.7" fill="none" stroke="#00ff00" stroke-width="4" stroke-linecap="round" stroke-linejoin="round"/><path d="M1520.6 316.7C1520.7 316.4 1520.8 315.2 1521 314.8C1521.2 314.2 1521.7 313.5 1521.9 313.7C1522.1 313.9 1522.1 315.4 1522.2 316.2C1522.3 317 1522.4 317.8 1522.5 318.7C1522.6 319.5 1522.8 320.3 1522.9 321.2C1523 322 1523.1 322.8 1523.2 323.6C1523.3 324.5 1523.4 325.3 1523.5 326.1C1523.6 327 1523.7 327.8 1523.8 328.6C1523.9 329.5 1524 330.3 1524.1 331.1C1524.2 331.9 1524.3 332.8 1524.4 333.6C1524.5 334.4 1524.5 335.3 1524.6 336.1C1524.7 336.9 1524.8 337.8 1524.9 338.6C1524.9 339.4 1525 340.3 1525.1 341.1C1525.2 341.9 1525.2 342.8 1525.3 343.6C1525.4 344.4 1525.5 345.3 1525.6 346.1C1525.8 346.9 1525.9 347.7 1526.1 348.5C1526.4 349.3 1526.7 350.1 1527.1 350.7C1527.6 351.4 1528.2 352 1528.8 352.4C1529.5 352.8 1530.3 352.9 1531 352.9C1531.8 352.9 1532.6 352.6 1533.4 352.4C1534.2 352.2 1535 351.9 1535.8 351.6C1536.6 351.4 1537.4 351.1 1538.2 350.8C1539 350.6 1539.8 350.4 1540.6 350.1C1541.4 349.9 1542.2 349.7 1543 349.5C1543.8 349.3 1544.7 349.1 1545.5 348.9C1546.3 348.7 1547.1 348.5 1547.9 348.3C1548.7 348.2 1549.5 348 1550.4 347.8C1551.2 347.6 1552 347.4 1552.8 347.3C1553.6 347.1 1554.4 347 1555.3 346.8C1556.1 346.7 1556.9 346.6 1557.8 346.5C1558.6 346.4 1559.4 346.3 1560.2 346.3C1561.1 346.2 1561.9 346.2 1562.8 346.2C1563.6 346.3 1564.4 346.3 1565.3 346.4C1566.1 346.5 1566.9 346.6 1567.7 346.7C1568.6 346.8 1569.4 346.9 1570.2 347.1C1571 347.3 1571.8 347.5 1572.7 347.6C1573.5 347.8 1574.3 348 1575.1 348.3C1575.9 348.5 1576.7 348.7 1577.5 348.9C1578.3 349.2 1579.1 349.4 1579.9 349.7C1580.7 349.9 1581.5 350.2 1582.3 350.5C1583 350.8 1583.8 351.1 1584.6 351.4C1585.4 351.7 1586.1 352.1 1586.9 352.4C1587.7 352.7 1588.4 353.1 1589.2 353.4C1589.9 353.8 1590.7 354.2 1591.4 354.5C1592.2 354.9 1592.9 355.3 1593.7 355.6C1594.4 356 1595.2 356.4 1595.9 356.8C1596.7 357.2 1597.4 357.6 1598.1 358C1598.9 358.4 1599.6 358.8 1600.3 359.2C1601 359.6 1601.8 360.1 1602.5 360.5C1603.2 360.9 1603.9 361.3 1604.6 361.8C1605.3 362.2 1606 362.7 1606.7 363.1C1607.4 363.6 1608.1 364 1608.8 364.5C1609.5 364.9 1610.2 365.4 1610.9 365.9C1611.6 366.3 1612.3 366.8 1613 367.3C1613.7 367.7 1614.4 368.2 1615.1 368.7C1615.7 369.2 1616.4 369.7 1617.1 370.2C1617.8 370.7 1618.4 371.2 1619.1 371.7C1619.8 372.2 1620.4 372.7 1621.1 373.2C1621.7 373.8 1622.3 374.3 1623 374.9C1623.6 375.4 1624.2 376 1624.8 376.5C1625.5 377.1 1626.1 377.7 1626.7 378.3C1627.2 378.9 1627.8 379.5 1628.4 380.1C1629 380.7 1629.6 381.3 1630.1 381.9C1630.7 382.5 1631.3 383.1 1631.8 383.7C1632.4 384.3 1633 385 1633.5 385.6C1634.1 386.2 1634.6 386.8 1635.2 387.5C1635.7 388.1 1636.3 388.7 1636.8 389.3C1637.4 390 1637.9 390.6 1638.5 391.2C1639.1 391.8 1639.6 392.5 1640.2 393.1C1640.7 393.7 1641.3 394.3 1641.8 395C1642.4 395.6 1642.9 396.2 1643.5 396.9C1644 397.5 1644.6 398.1 1645.1 398.8C1645.7 399.4 1646.2 400 1646.7 400.7C1647.3 401.3 1647.8 401.9 1648.4 402.6C1648.9 403.2 1649.4 403.9 1650 404.5C1650.5 405.2 1651 405.8 1651.5 406.5C1652.1 407.1 1652.6 407.8 1653.1 408.4C1653.6 409.1 1654.1 409.8 1654.6 410.4C1655.1 411.1 1655.6 411.8 1656.1 412.4C1656.6 413.1 1657.1 413.8 1657.6 414.5C1658.1 415.2 1658.5 415.8 1659 416.5C1659.5 417.2 1660 417.9 1660.5 418.6C1660.9 419.3 1661.4 419.9 1661.9 420.6C1662.4 421.3 1662.8 422 1663.3 422.7C1663.8 423.4 1664.3 424.1 1664.7 424.8C1665.2 425.5 1665.7 426.1 1666.1 426.8C1666.6 427.5 1667.1 428.2 1667.5 428.9C1668 429.6 1668.5 430.3 1668.9 431C1669.4 431.7 1669.8 432.4 1670.3 433.1C1670.8 433.8 1671.2 434.5 1671.7 435.2C1672.1 435.9 1672.6 436.6 1673.1 437.3C1673.5 438 1674 438.7 1674.4 439.4C1674.9 440.1 1675.4 440.8 1675.8 441.5C1676.3 442.2 1676.7 442.9 1677.2 443.6C1677.6 444.3 1678.1 445 1678.5 445.7C1679 446.4 1679.4 447.1 1679.9 447.8C1680.4 448.5 1680.8 449.2 1681.3 449.9C1681.7 450.6 1682.2 451.3 1682.7 452C1683.1 452.7 1683.6 453.4 1684.1 454C1684.6 454.7 1685.1 455.4 1685.6 456C1686.1 456.7 1686.7 457.3 1687.2 458C1687.7 458.6 1688.3 459.2 1688.9 459.9C1689.4 460.5 1690 461.1 1690.6 461.7C1691.2 462.3 1691.7 462.9 1692.3 463.5C1692.8 464.1 1693.4 464.9 1694 465.3C1694.6 465.7 1695.3 466.2 1695.9 466.1C1696.5 466.1 1697.1 465.6 1697.6 465.1C1698.1 464.5 1698.5 463.7 1698.9 462.9C1699.2 462.2 1699.5 461.4 1699.8 460.6C1700.1 459.9 1700.4 459.1 1700.7 458.3C1701 457.5 1701.2 456.7 1701.5 455.9C1701.7 455.1 1701.9 454.3 1702.1 453.5C1702.3 452.7 1702.5 451.9 1702.7 451C1702.8 450.2 1703 449.4 1703.2 448.6C1703.4 447.8 1703.5 446.9 1703.7 446.1C1703.9 445.3 1704.1 444.5 1704.4 443.7C1704.7 442.9 1705 442.2 1705.3 441.4C1705.6 440.6 1706 439.8 1706.3 439.1C1706.6 438.4 1706.8 437.5 1707.2 437.3C1707.6 437.1 1708.2 437.6 1708.5 437.9C1708.8 438.2 1709 439.1 1709.1 439.3" fill="none" stroke="#ffff00" stroke-width="4" stroke-linecap="round" stroke-linejoin="round"/><path d="M1518.3 413.4C1518.4 413.1 1518.5 411.9 1518.7 411.4C1518.9 410.9 1519.4 410.2 1519.6 410.4C1519.8 410.6 1519.9 412 1520 412.9C1520.1 413.7 1520.3 414.5 1520.4 415.3C1520.5 416.2 1520.7 417 1520.8 417.8C1521 418.6 1521.1 419.5 1521.2 420.3C1521.4 421.1 1521.5 421.9 1521.6 422.8C1521.8 423.6 1521.9 424.4 1522 425.2C1522.2 426.1 1522.3 426.9 1522.4 427.7C1522.6 428.5 1522.7 429.4 1522.8 430.2C1523 431 1523.1 431.8 1523.2 432.7C1523.4 433.5 1523.5 434.3 1523.6 435.1C1523.8 436 1523.9 436.8 1524.1 437.6C1524.3 438.4 1524.4 439.2 1524.7 440C1524.9 440.8 1525.2 441.6 1525.6 442.3C1526 443 1526.5 443.7 1527.1 444.2C1527.7 444.7 1528.5 444.9 1529.3 445.1C1530 445.3 1530.9 445.3 1531.7 445.3C1532.6 445.3 1533.4 445.3 1534.2 445.3C1535.1 445.2 1535.9 445.2 1536.7 445.1C1537.6 445.1 1538.4 445 1539.2 445C1540.1 444.9 1540.9 444.8 1541.7 444.7C1542.6 444.6 1543.4 444.5 1544.2 444.4C1545 444.3 1545.9 444.2 1546.7 444.1C1547.5 444 1548.4 443.9 1549.2 443.9C1550 443.8 1550.9 443.8 1551.7 443.8C1552.5 443.8 1553.4 443.8 1554.2 443.9C1555 444 1555.9 444.1 1556.7 444.2C1557.5 444.3 1558.3 444.4 1559.2 444.6C1560 444.7 1560.8 444.9 1561.6 445.1C1562.4 445.2 1563.3 445.4 1564.1 445.6C1564.9 445.8 1565.7 446.1 1566.5 446.3C1567.3 446.5 1568.1 446.8 1568.9 447C1569.7 447.3 1570.5 447.5 1571.2 447.8C1572 448.1 1572.8 448.4 1573.6 448.7C1574.4 449 1575.1 449.4 1575.9 449.7C1576.7 450 1577.4 450.4 1578.2 450.8C1578.9 451.1 1579.7 451.5 1580.4 451.8C1581.2 452.2 1581.9 452.6 1582.7 453C1583.4 453.4 1584.2 453.7 1584.9 454.1C1585.6 454.5 1586.4 454.9 1587.1 455.3C1587.8 455.7 1588.5 456.1 1589.3 456.6C1590 457 1590.7 457.4 1591.4 457.8C1592.2 458.3 1592.9 458.7 1593.6 459.1C1594.3 459.6 1595 460 1595.7 460.5C1596.4 460.9 1597.1 461.4 1597.8 461.9C1598.5 462.3 1599.2 462.8 1599.9 463.3C1600.5 463.7 1601.2 464.2 1601.9 464.7C1602.6 465.2 1603.3 465.7 1603.9 466.2C1604.6 466.7 1605.3 467.2 1606 467.7C1606.6 468.2 1607.3 468.7 1607.9 469.2C1608.6 469.7 1609.3 470.2 1609.9 470.7C1610.6 471.3 1611.2 471.8 1611.9 472.3C1612.5 472.8 1613.2 473.4 1613.8 473.9C1614.4 474.5 1615.1 475 1615.7 475.6C1616.3 476.1 1616.9 476.7 1617.5 477.3C1618.1 477.8 1618.7 478.4 1619.3 479C1619.9 479.6 1620.5 480.2 1621.1 480.8C1621.7 481.4 1622.3 482 1622.8 482.6C1623.4 483.2 1624 483.8 1624.5 484.4C1625.1 485 1625.6 485.7 1626.2 486.3C1626.8 486.9 1627.3 487.5 1627.9 488.2C1628.4 488.8 1629 489.4 1629.5 490.1C1630.1 490.7 1630.6 491.3 1631.2 491.9C1631.7 492.6 1632.3 493.2 1632.8 493.8C1633.4 494.4 1634 495.1 1634.5 495.7C1635.1 496.3 1635.6 496.9 1636.2 497.6C1636.7 498.2 1637.3 498.8 1637.8 499.4C1638.4 500.1 1638.9 500.7 1639.5 501.3C1640 502 1640.5 502.6 1641.1 503.2C1641.6 503.9 1642.2 504.5 1642.7 505.2C1643.2 505.8 1643.7 506.5 1644.3 507.1C1644.8 507.8 1645.3 508.4 1645.8 509.1C1646.3 509.7 1646.8 510.4 1647.3 511.1C1647.8 511.7 1648.3 512.4 1648.8 513.1C1649.3 513.8 1649.8 514.4 1650.3 515.1C1650.8 515.8 1651.3 516.5 1651.8 517.2C1652.2 517.8 1652.7 518.5 1653.2 519.2C1653.7 519.9 1654.1 520.6 1654.6 521.3C1655.1 522 1655.6 522.7 1656 523.3C1656.5 524 1657 524.7 1657.5 525.4C1657.9 526.1 1658.4 526.8 1658.9 527.5C1659.3 528.2 1659.8 528.9 1660.3 529.6C1660.7 530.3 1661.2 531 1661.6 531.7C1662.1 532.4 1662.6 533.1 1663 533.7C1663.5 534.4 1663.9 535.1 1664.4 535.8C1664.9 536.5 1665.3 537.2 1665.8 537.9C1666.2 538.6 1666.7 539.3 1667.2 540C1667.6 540.7 1668.1 541.4 1668.5 542.1C1669 542.8 1669.5 543.5 1669.9 544.2C1670.4 544.9 1670.8 545.6 1671.3 546.3C1671.7 547 1672.2 547.7 1672.6 548.4C1673.1 549.1 1673.6 549.8 1674 550.5C1674.5 551.2 1674.9 551.9 1675.4 552.6C1675.9 553.3 1676.4 554 1676.9 554.7C1677.3 555.3 1677.8 556 1678.3 556.7C1678.9 557.3 1679.4 558 1679.9 558.6C1680.4 559.3 1680.9 559.9 1681.5 560.6C1682 561.2 1682.6 561.8 1683.2 562.4C1683.7 563 1684.3 563.6 1684.9 564.2C1685.6 564.8 1686.2 565.3 1686.9 565.8C1687.5 566.3 1688.2 566.9 1688.9 567.3C1689.6 567.7 1690.3 568.2 1691.1 568.4C1691.8 568.6 1692.6 568.7 1693.3 568.4C1693.9 568.2 1694.5 567.5 1695 566.9C1695.4 566.3 1695.7 565.5 1696 564.7C1696.4 563.9 1696.6 563.1 1696.9 562.4C1697.2 561.6 1697.4 560.8 1697.7 560C1697.9 559.2 1698.2 558.4 1698.4 557.6C1698.6 556.8 1698.8 556 1699 555.2C1699.3 554.4 1699.5 553.5 1699.7 552.7C1700 551.9 1700.2 551.2 1700.5 550.4C1700.8 549.6 1701.1 548.8 1701.5 548.1C1701.8 547.3 1702.3 546.3 1702.6 545.8C1702.8 545.3 1702.7 544.9 1703 544.9C1703.3 544.9 1704 545.2 1704.3 545.5C1704.6 545.8 1704.8 546.7 1704.9 546.9" fill="none" stroke="#ff0000" stroke-width="4" stroke-linecap="round" stroke-linejoin="round"/><path d="M1721.3 105.7C1721.4 105 1721.6 102.8 1722 101.8C1722.4 100.8 1723.5 99.6 1723.8 99.7C1724.1 99.8 1723.9 101.4 1724 102.2C1724 103 1724.1 103.9 1724.1 104.7C1724.2 105.5 1724.2 106.4 1724.3 107.2C1724.3 108 1724.4 108.9 1724.5 109.7C1724.5 110.5 1724.6 111.4 1724.6 112.2C1724.7 113 1724.7 113.9 1724.8 114.7C1724.8 115.5 1724.9 116.4 1724.9 117.2C1725 118 1725 118.9 1725.1 119.7C1725.2 120.5 1725.2 121.4 1725.3 122.2C1725.3 123 1725.4 123.9 1725.4 124.7C1725.5 125.6 1725.5 126.4 1725.5 127.2C1725.6 128.1 1725.6 128.9 1725.7 129.7C1725.7 130.6 1725.7 131.4 1725.8 132.2C1725.8 133.1 1725.9 133.9 1725.9 134.7C1725.9 135.6 1726 136.4 1726 137.2C1726.1 138.1 1726.1 138.9 1726.1 139.7C1726.2 140.6 1726.2 141.4 1726.3 142.2C1726.3 143.1 1726.4 143.9 1726.5 144.7C1726.5 145.6 1726.6 146.4 1726.7 147.2C1726.9 148 1727 148.9 1727.3 149.6C1727.6 150.3 1728 151.2 1728.5 151.5C1729 151.9 1729.8 152 1730.4 151.8C1731.1 151.7 1731.9 151.1 1732.6 150.7C1733.2 150.3 1733.9 149.7 1734.6 149.2C1735.2 148.7 1735.8 148.1 1736.5 147.6C1737.1 147 1737.7 146.4 1738.2 145.8C1738.8 145.2 1739.4 144.6 1739.9 144C1740.5 143.3 1741 142.7 1741.6 142.1C1742.1 141.5 1742.7 140.8 1743.3 140.2C1743.8 139.6 1744.4 139 1745 138.4C1745.6 137.8 1746.2 137.2 1746.8 136.7C1747.4 136.1 1748 135.6 1748.7 135C1749.3 134.5 1749.9 133.9 1750.6 133.4C1751.2 132.9 1751.9 132.3 1752.5 131.8C1753.2 131.3 1753.9 130.8 1754.5 130.3C1755.2 129.8 1755.9 129.3 1756.6 128.9C1757.3 128.4 1758 127.9 1758.7 127.5C1759.4 127.1 1760.1 126.6 1760.9 126.2C1761.6 125.8 1762.3 125.4 1763.1 125.1C1763.8 124.7 1764.6 124.4 1765.4 124.1C1766.1 123.7 1766.9 123.5 1767.7 123.2C1768.5 122.9 1769.3 122.7 1770.1 122.5C1770.9 122.2 1771.7 122 1772.5 121.9C1773.4 121.7 1774.2 121.5 1775 121.4C1775.8 121.2 1776.6 121.1 1777.5 121C1778.3 120.9 1779.1 120.7 1780 120.7C1780.8 120.6 1781.6 120.5 1782.5 120.5C1783.3 120.4 1784.1 120.4 1785 120.4C1785.8 120.4 1786.6 120.5 1787.5 120.5C1788.3 120.5 1789.1 120.6 1790 120.7C1790.8 120.8 1791.6 120.9 1792.5 121C1793.3 121.1 1794.1 121.3 1794.9 121.4C1795.7 121.6 1796.6 121.7 1797.4 121.9C1798.2 122.1 1799 122.3 1799.8 122.5C1800.6 122.6 1801.5 122.8 1802.3 123.1C1803.1 123.3 1803.9 123.5 1804.7 123.7C1805.5 123.9 1806.3 124.2 1807.1 124.4C1807.9 124.7 1808.7 124.9 1809.5 125.2C1810.3 125.5 1811 125.8 1811.8 126.1C1812.6 126.3 1813.4 126.6 1814.2 127C1814.9 127.3 1815.7 127.6 1816.5 127.9C1817.3 128.2 1818 128.6 1818.8 128.9C1819.5 129.3 1820.3 129.6 1821 130C1821.8 130.4 1822.5 130.7 1823.3 131.1C1824 131.5 1824.8 131.9 1825.5 132.3C1826.2 132.7 1827 133.1 1827.7 133.5C1828.4 133.9 1829.2 134.3 1829.9 134.7C1830.6 135.2 1831.3 135.6 1832 136C1832.7 136.5 1833.4 136.9 1834.1 137.4C1834.8 137.8 1835.5 138.3 1836.2 138.8C1836.9 139.2 1837.6 139.7 1838.3 140.2C1839 140.7 1839.6 141.2 1840.3 141.7C1841 142.2 1841.7 142.7 1842.3 143.2C1843 143.7 1843.7 144.2 1844.3 144.7C1845 145.2 1845.7 145.7 1846.3 146.2C1847 146.7 1847.6 147.2 1848.3 147.7C1848.9 148.3 1849.6 148.8 1850.2 149.3C1850.9 149.8 1851.5 150.4 1852.2 150.9C1852.8 151.4 1853.5 152 1854.1 152.5C1854.7 153.1 1855.4 153.6 1856 154.2C1856.6 154.7 1857.2 155.3 1857.8 155.8C1858.5 156.4 1859.1 157 1859.7 157.6C1860.3 158.1 1860.9 158.7 1861.5 159.3C1862.1 159.9 1862.7 160.5 1863.3 161.1C1863.9 161.6 1864.4 162.2 1865 162.8C1865.6 163.4 1866.2 164 1866.8 164.6C1867.4 165.2 1867.9 165.8 1868.5 166.5C1869.1 167.1 1869.6 167.7 1870.2 168.3C1870.8 168.9 1871.3 169.5 1871.9 170.2C1872.4 170.8 1873 171.4 1873.5 172.1C1874 172.7 1874.6 173.3 1875.1 174C1875.6 174.6 1876.2 175.3 1876.7 175.9C1877.2 176.6 1877.7 177.3 1878.2 177.9C1878.7 178.6 1879.2 179.3 1879.7 179.9C1880.2 180.6 1880.7 181.3 1881.2 182C1881.6 182.7 1882.1 183.4 1882.6 184C1883.1 184.7 1883.5 185.4 1884 186.1C1884.5 186.8 1884.9 187.5 1885.4 188.2C1885.9 188.9 1886.3 189.6 1886.8 190.3C1887.2 191 1887.7 191.7 1888.2 192.4C1888.6 193.1 1889.1 193.8 1889.5 194.5C1890 195.2 1890.4 195.9 1890.8 196.6C1891.3 197.3 1891.7 198 1892.2 198.8C1892.6 199.5 1893 200.2 1893.4 200.9C1893.9 201.6 1894.3 202.3 1894.7 203.1C1895.1 203.8 1895.5 204.5 1896 205.2C1896.4 206 1896.8 206.7 1897.2 207.4C1897.6 208.1 1898 208.9 1898.4 209.6C1898.8 210.3 1899.2 211.1 1899.6 211.8C1900 212.5 1900.4 213.3 1900.8 214C1901.2 214.8 1901.6 215.5 1902 216.2C1902.4 217 1902.7 217.7 1903.1 218.5C1903.5 219.2 1903.9 219.9 1904.3 220.7C1904.7 221.4 1905.1 222.2 1905.5 222.9C1905.8 223.6 1906.2 224.4 1906.6 225.1C1907 225.9 1907.3 226.6 1907.7 227.4C1908.1 228.1 1908.4 228.9 1908.8 229.6C1909.2 230.4 1909.5 231.1 1909.9 231.9C1910.3 232.6 1910.7 233.4 1911 234.1C1911.4 234.9 1911.8 235.6 1912.2 236.3C1912.6 237.1 1913 237.8 1913.4 238.6C1913.8 239.3 1914.2 240 1914.6 240.7C1915 241.4 1915.5 242.2 1916 242.9C1916.4 243.6 1916.9 244.3 1917.4 244.9C1917.9 245.6 1918.3 246.4 1918.9 246.8C1919.4 247.2 1920.1 247.6 1920.6 247.4C1921.1 247.2 1921.6 246.5 1921.9 245.9C1922.3 245.2 1922.5 244.4 1922.8 243.6C1923 242.8 1923.2 241.9 1923.4 241.1C1923.6 240.3 1923.8 239.5 1924 238.7C1924.1 237.9 1924.3 237.1 1924.5 236.2C1924.6 235.4 1924.8 234.6 1924.9 233.8C1925.1 233 1925.2 232.1 1925.3 231.3C1925.5 230.5 1925.6 229.7 1925.7 228.8C1925.8 228 1926 227.2 1926.1 226.3C1926.2 225.5 1926.3 224.7 1926.5 223.9C1926.6 223 1926.7 222.2 1926.8 221.4C1927 220.6 1927.1 219.7 1927.2 218.9C1927.4 218.1 1927.5 217.3 1927.6 216.4C1927.8 215.6 1927.9 214.8 1928 214C1928.1 213.1 1928.3 212.3 1928.4 211.5C1928.5 210.7 1928.7 209.8 1928.8 209C1929 208.2 1929.1 207.4 1929.3 206.5C1929.4 205.7 1929.6 204.9 1929.8 204.1C1930 203.3 1930.3 202.5 1930.5 201.7C1930.8 200.9 1931.1 200 1931.3 199.3C1931.5 198.7 1931.5 197.8 1931.8 197.9C1932.1 198 1932.8 198.8 1933.1 200C1933.4 201.2 1933.6 204.1 1933.7 204.9" fill="none" stroke="#0000ff" stroke-width="4" stroke-linecap="round" stroke-linejoin="round"/><path d="M1717.9 207.7C1718 207.3 1718.1 205.8 1718.4 205.1C1718.7 204.4 1719.4 203.5 1719.6 203.7C1719.8 203.9 1719.8 205.4 1719.8 206.2C1719.9 207 1720 207.9 1720.1 208.7C1720.1 209.5 1720.2 210.4 1720.3 211.2C1720.4 212 1720.4 212.9 1720.5 213.7C1720.6 214.5 1720.7 215.4 1720.7 216.2C1720.8 217 1720.9 217.8 1721 218.7C1721.1 219.5 1721.1 220.3 1721.2 221.2C1721.3 222 1721.4 222.8 1721.4 223.7C1721.5 224.5 1721.6 225.3 1721.7 226.2C1721.7 227 1721.8 227.8 1721.9 228.7C1721.9 229.5 1722 230.3 1722.1 231.2C1722.1 232 1722.2 232.8 1722.3 233.7C1722.3 234.5 1722.4 235.3 1722.4 236.2C1722.5 237 1722.5 237.8 1722.6 238.7C1722.6 239.5 1722.7 240.3 1722.8 241.2C1722.8 242 1722.9 242.8 1723 243.7C1723.1 244.5 1723.2 245.3 1723.5 246.1C1723.8 246.8 1724.1 247.7 1724.6 248.2C1725.1 248.8 1725.8 249.2 1726.5 249.4C1727.1 249.5 1727.9 249.2 1728.7 248.9C1729.4 248.7 1730.1 248.2 1730.9 247.7C1731.6 247.3 1732.3 246.8 1732.9 246.4C1733.6 245.9 1734.3 245.4 1735 244.9C1735.6 244.4 1736.3 243.9 1736.9 243.3C1737.6 242.8 1738.2 242.2 1738.8 241.7C1739.5 241.1 1740.1 240.6 1740.7 240.1C1741.4 239.5 1742 239 1742.7 238.5C1743.3 238 1744 237.5 1744.7 237C1745.4 236.5 1746.1 236 1746.8 235.6C1747.5 235.2 1748.2 234.8 1749 234.4C1749.7 234 1750.4 233.6 1751.2 233.2C1751.9 232.8 1752.7 232.4 1753.4 232.1C1754.2 231.8 1755 231.4 1755.7 231.1C1756.5 230.8 1757.3 230.5 1758.1 230.2C1758.9 230 1759.7 229.7 1760.5 229.5C1761.3 229.3 1762.1 229 1762.9 228.9C1763.7 228.7 1764.5 228.5 1765.3 228.3C1766.2 228.2 1767 228.1 1767.8 228C1768.6 227.8 1769.5 227.8 1770.3 227.7C1771.1 227.6 1772 227.6 1772.8 227.5C1773.6 227.5 1774.5 227.5 1775.3 227.5C1776.2 227.5 1777 227.6 1777.8 227.6C1778.7 227.7 1779.5 227.7 1780.3 227.8C1781.2 227.9 1782 228 1782.8 228.1C1783.6 228.2 1784.5 228.3 1785.3 228.4C1786.1 228.6 1786.9 228.7 1787.8 228.9C1788.6 229 1789.4 229.2 1790.2 229.4C1791 229.6 1791.8 229.8 1792.6 230C1793.5 230.2 1794.3 230.5 1795 230.7C1795.8 231 1796.6 231.2 1797.4 231.5C1798.2 231.8 1799 232.1 1799.8 232.4C1800.5 232.7 1801.3 233 1802.1 233.4C1802.8 233.7 1803.6 234 1804.4 234.4C1805.1 234.7 1805.9 235.1 1806.6 235.5C1807.4 235.8 1808.1 236.2 1808.9 236.6C1809.6 236.9 1810.4 237.3 1811.1 237.7C1811.9 238.1 1812.6 238.5 1813.3 238.9C1814.1 239.3 1814.8 239.7 1815.5 240.1C1816.2 240.5 1817 241 1817.7 241.4C1818.4 241.8 1819.1 242.3 1819.8 242.7C1820.5 243.1 1821.2 243.6 1821.9 244C1822.6 244.5 1823.3 244.9 1824 245.4C1824.7 245.9 1825.4 246.3 1826.1 246.8C1826.8 247.3 1827.5 247.7 1828.2 248.2C1828.9 248.7 1829.6 249.2 1830.2 249.7C1830.9 250.2 1831.6 250.6 1832.3 251.1C1832.9 251.6 1833.6 252.1 1834.3 252.6C1834.9 253.2 1835.6 253.7 1836.2 254.2C1836.9 254.7 1837.6 255.2 1838.2 255.7C1838.9 256.3 1839.5 256.8 1840.1 257.3C1840.8 257.9 1841.4 258.4 1842.1 259C1842.7 259.5 1843.3 260 1844 260.6C1844.6 261.1 1845.2 261.7 1845.8 262.2C1846.5 262.8 1847.1 263.3 1847.7 263.9C1848.3 264.5 1849 265 1849.6 265.6C1850.2 266.2 1850.8 266.8 1851.4 267.3C1852 267.9 1852.6 268.5 1853.2 269.1C1853.7 269.7 1854.3 270.3 1854.9 270.9C1855.5 271.5 1856 272.1 1856.6 272.8C1857.1 273.4 1857.7 274 1858.2 274.7C1858.7 275.3 1859.3 276 1859.8 276.6C1860.3 277.3 1860.8 277.9 1861.3 278.6C1861.8 279.3 1862.3 279.9 1862.8 280.6C1863.3 281.3 1863.8 282 1864.3 282.7C1864.8 283.3 1865.2 284 1865.7 284.7C1866.2 285.4 1866.7 286.1 1867.1 286.8C1867.6 287.4 1868.1 288.1 1868.6 288.8C1869 289.5 1869.5 290.2 1870 290.9C1870.5 291.6 1871 292.3 1871.4 292.9C1871.9 293.6 1872.4 294.3 1872.9 295C1873.3 295.7 1873.8 296.4 1874.3 297.1C1874.7 297.8 1875.2 298.5 1875.7 299.1C1876.1 299.8 1876.6 300.5 1877.1 301.2C1877.5 301.9 1878 302.6 1878.5 303.3C1878.9 304 1879.4 304.7 1879.8 305.4C1880.3 306.1 1880.7 306.8 1881.2 307.5C1881.6 308.3 1882 309 1882.5 309.7C1882.9 310.4 1883.4 311.1 1883.8 311.8C1884.2 312.5 1884.6 313.3 1885 314C1885.5 314.7 1885.9 315.4 1886.3 316.2C1886.7 316.9 1887.1 317.6 1887.5 318.3C1887.9 319.1 1888.3 319.8 1888.7 320.5C1889.1 321.3 1889.5 322 1890 322.7C1890.4 323.5 1890.8 324.2 1891.2 324.9C1891.6 325.6 1892 326.4 1892.4 327.1C1892.8 327.8 1893.2 328.6 1893.6 329.3C1894 330 1894.4 330.8 1894.8 331.5C1895.2 332.2 1895.6 333 1896 333.7C1896.4 334.4 1896.8 335.1 1897.3 335.9C1897.7 336.6 1898.1 337.3 1898.5 338.1C1898.9 338.8 1899.4 339.5 1899.8 340.2C1900.2 340.9 1900.7 341.6 1901.2 342.3C1901.6 343 1902.1 343.7 1902.6 344.3C1903.1 345 1903.6 345.7 1904.2 346.3C1904.7 347 1905.2 347.6 1905.8 348.2C1906.4 348.8 1907 349.4 1907.6 350C1908.2 350.6 1908.8 351.2 1909.4 351.7C1910 352.2 1910.7 352.9 1911.4 353.2C1912 353.5 1912.8 353.8 1913.4 353.7C1914.1 353.5 1914.6 353 1915.1 352.4C1915.5 351.8 1915.7 350.9 1916 350.1C1916.3 349.3 1916.4 348.5 1916.6 347.7C1916.8 346.9 1917 346.1 1917.2 345.3C1917.4 344.4 1917.6 343.6 1917.7 342.8C1917.9 342 1918.1 341.2 1918.2 340.3C1918.4 339.5 1918.5 338.7 1918.6 337.9C1918.8 337.1 1918.9 336.2 1919 335.4C1919.2 334.6 1919.3 333.8 1919.5 332.9C1919.6 332.1 1919.8 331.3 1919.9 330.5C1920.1 329.7 1920.3 328.8 1920.5 328C1920.7 327.2 1920.9 326.4 1921.1 325.6C1921.3 324.8 1921.6 324 1921.8 323.2C1922 322.4 1922.2 321.6 1922.5 320.8C1922.7 320 1922.9 319.2 1923.2 318.4C1923.4 317.6 1923.7 316.8 1923.9 316C1924.1 315.2 1924.4 314.1 1924.6 313.6C1924.8 313 1924.6 312.5 1924.9 312.6C1925.2 312.7 1925.9 313.3 1926.2 314.1C1926.5 314.9 1926.7 317 1926.8 317.6" fill="none" stroke="#00ff00" stroke-width="4" stroke-linecap="round" stroke-linejoin="round"/><path d="M1713.7 306.6C1713.8 306.3 1713.9 305.2 1714.1 304.7C1714.3 304.2 1714.8 303.4 1715 303.6C1715.2 303.8 1715.1 305.3 1715.2 306.1C1715.3 306.9 1715.3 307.8 1715.4 308.6C1715.5 309.4 1715.6 310.3 1715.6 311.1C1715.7 311.9 1715.8 312.8 1715.8 313.6C1715.9 314.4 1716 315.3 1716 316.1C1716.1 316.9 1716.2 317.8 1716.3 318.6C1716.3 319.4 1716.4 320.2 1716.5 321.1C1716.6 321.9 1716.6 322.7 1716.7 323.6C1716.8 324.4 1716.9 325.2 1716.9 326.1C1717 326.9 1717.1 327.7 1717.2 328.6C1717.3 329.4 1717.3 330.2 1717.4 331.1C1717.5 331.9 1717.6 332.7 1717.7 333.6C1717.8 334.4 1717.8 335.2 1717.9 336C1718 336.9 1718.1 337.7 1718.3 338.5C1718.4 339.4 1718.5 340.2 1718.7 341C1719 341.8 1719.3 342.6 1719.7 343.2C1720.2 343.8 1720.8 344.4 1721.4 344.6C1722.1 344.8 1722.9 344.7 1723.6 344.6C1724.4 344.4 1725.2 344 1725.9 343.6C1726.7 343.2 1727.4 342.8 1728.1 342.4C1728.9 342 1729.6 341.6 1730.3 341.2C1731.1 340.8 1731.8 340.5 1732.5 340.1C1733.3 339.7 1734 339.3 1734.7 338.9C1735.5 338.5 1736.2 338.1 1736.9 337.6C1737.7 337.2 1738.4 336.8 1739.1 336.4C1739.9 336 1740.6 335.7 1741.4 335.3C1742.1 334.9 1742.9 334.6 1743.6 334.3C1744.4 333.9 1745.2 333.6 1746 333.4C1746.8 333.1 1747.6 332.9 1748.4 332.6C1749.2 332.4 1750 332.2 1750.8 332C1751.6 331.8 1752.4 331.6 1753.2 331.4C1754 331.2 1754.9 331 1755.7 330.9C1756.5 330.8 1757.3 330.6 1758.2 330.5C1759 330.4 1759.8 330.3 1760.7 330.3C1761.5 330.2 1762.3 330.2 1763.2 330.1C1764 330.1 1764.8 330.1 1765.7 330.2C1766.5 330.2 1767.3 330.3 1768.2 330.4C1769 330.5 1769.8 330.6 1770.6 330.7C1771.5 330.8 1772.3 331 1773.1 331.1C1773.9 331.3 1774.7 331.5 1775.6 331.6C1776.4 331.8 1777.2 332 1778 332.2C1778.8 332.4 1779.6 332.6 1780.4 332.8C1781.2 333.1 1782 333.3 1782.8 333.5C1783.6 333.8 1784.4 334 1785.2 334.3C1786 334.5 1786.8 334.8 1787.6 335.1C1788.4 335.4 1789.2 335.7 1789.9 336C1790.7 336.3 1791.5 336.6 1792.3 336.9C1793 337.3 1793.8 337.6 1794.5 337.9C1795.3 338.3 1796.1 338.6 1796.8 339C1797.6 339.3 1798.3 339.7 1799.1 340.1C1799.8 340.4 1800.6 340.8 1801.3 341.2C1802.1 341.6 1802.8 342 1803.5 342.4C1804.3 342.8 1805 343.2 1805.7 343.6C1806.4 344 1807.2 344.5 1807.9 344.9C1808.6 345.3 1809.3 345.7 1810 346.2C1810.7 346.6 1811.5 347 1812.2 347.5C1812.9 347.9 1813.6 348.4 1814.3 348.8C1815 349.3 1815.7 349.7 1816.4 350.2C1817.1 350.6 1817.8 351.1 1818.5 351.5C1819.2 352 1819.9 352.5 1820.6 352.9C1821.3 353.4 1821.9 353.9 1822.6 354.4C1823.3 354.8 1824 355.3 1824.7 355.8C1825.3 356.3 1826 356.8 1826.7 357.3C1827.4 357.8 1828 358.3 1828.7 358.8C1829.4 359.3 1830 359.8 1830.7 360.4C1831.3 360.9 1832 361.4 1832.6 361.9C1833.3 362.4 1833.9 363 1834.6 363.5C1835.2 364 1835.8 364.6 1836.5 365.1C1837.1 365.7 1837.7 366.2 1838.4 366.8C1839 367.3 1839.6 367.9 1840.3 368.4C1840.9 369 1841.5 369.5 1842.1 370.1C1842.7 370.6 1843.4 371.2 1844 371.8C1844.6 372.3 1845.2 372.9 1845.8 373.5C1846.4 374.1 1847 374.6 1847.6 375.2C1848.2 375.8 1848.8 376.4 1849.4 377C1850 377.5 1850.6 378.1 1851.2 378.7C1851.8 379.3 1852.4 379.9 1853 380.5C1853.5 381.1 1854.1 381.7 1854.7 382.3C1855.3 382.9 1855.8 383.6 1856.4 384.2C1856.9 384.8 1857.5 385.4 1858 386.1C1858.6 386.7 1859.1 387.3 1859.6 388C1860.2 388.6 1860.7 389.3 1861.2 389.9C1861.7 390.6 1862.2 391.3 1862.7 391.9C1863.2 392.6 1863.7 393.3 1864.2 393.9C1864.7 394.6 1865.2 395.3 1865.7 396C1866.1 396.7 1866.6 397.4 1867.1 398.1C1867.6 398.7 1868 399.4 1868.5 400.1C1869 400.8 1869.4 401.5 1869.9 402.2C1870.4 402.9 1870.8 403.6 1871.3 404.3C1871.7 405 1872.2 405.7 1872.7 406.4C1873.1 407.1 1873.6 407.8 1874 408.5C1874.4 409.2 1874.9 409.9 1875.3 410.6C1875.8 411.3 1876.2 412 1876.7 412.8C1877.1 413.5 1877.5 414.2 1878 414.9C1878.4 415.6 1878.8 416.3 1879.3 417C1879.7 417.7 1880.1 418.5 1880.6 419.2C1881 419.9 1881.5 420.6 1881.9 421.3C1882.3 422 1882.8 422.7 1883.2 423.4C1883.7 424.1 1884.1 424.9 1884.5 425.6C1885 426.3 1885.4 427 1885.8 427.7C1886.3 428.4 1886.7 429.1 1887.2 429.8C1887.6 430.5 1888 431.3 1888.5 432C1888.9 432.7 1889.3 433.4 1889.8 434.1C1890.2 434.8 1890.6 435.5 1891.1 436.3C1891.5 437 1891.9 437.7 1892.3 438.4C1892.7 439.1 1893.1 439.9 1893.5 440.6C1893.9 441.3 1894.3 442.1 1894.7 442.8C1895.1 443.5 1895.5 444.3 1895.9 445C1896.4 445.7 1896.8 446.5 1897.2 447.2C1897.6 447.9 1898.1 448.6 1898.5 449.3C1899 450 1899.5 450.7 1900 451.3C1900.5 452 1901.1 452.6 1901.6 453.2C1902.2 453.8 1902.8 454.5 1903.4 455C1904 455.6 1904.7 456.2 1905.3 456.5C1906 456.9 1906.8 457.2 1907.4 457.1C1908 456.9 1908.6 456.4 1909.1 455.8C1909.5 455.2 1909.7 454.3 1909.9 453.5C1910.2 452.7 1910.4 451.9 1910.6 451.1C1910.8 450.3 1911 449.5 1911.2 448.7C1911.4 447.9 1911.6 447.1 1911.8 446.2C1912 445.4 1912.1 444.6 1912.3 443.8C1912.5 443 1912.6 442.1 1912.8 441.3C1912.9 440.5 1913.1 439.7 1913.3 438.9C1913.5 438.1 1913.6 437.2 1913.8 436.4C1914 435.6 1914.3 434.8 1914.5 434C1914.7 433.2 1914.9 432.4 1915.2 431.6C1915.4 430.8 1915.7 430 1915.9 429.2C1916.2 428.4 1916.4 427.6 1916.7 426.8C1916.9 426 1917.2 425.1 1917.4 424.4C1917.6 423.8 1917.6 423 1917.9 423C1918.2 423 1918.9 423.5 1919.2 424.2C1919.5 424.9 1919.7 426.5 1919.8 427" fill="none" stroke="#ffff00" stroke-width="4" stroke-linecap="round" stroke-linejoin="round"/><path d="M1709.4 409.4C1709.5 408.9 1709.7 407 1710 406.1C1710.3 405.3 1711.2 404.3 1711.5 404.4C1711.8 404.5 1711.6 406.1 1711.7 406.9C1711.8 407.7 1711.8 408.6 1711.9 409.4C1712 410.2 1712 411.1 1712.1 411.9C1712.2 412.7 1712.2 413.6 1712.3 414.4C1712.4 415.2 1712.4 416.1 1712.5 416.9C1712.6 417.7 1712.6 418.6 1712.7 419.4C1712.8 420.2 1712.8 421 1712.9 421.9C1713 422.7 1713 423.5 1713.1 424.4C1713.1 425.2 1713.2 426 1713.2 426.9C1713.3 427.7 1713.3 428.5 1713.4 429.4C1713.4 430.2 1713.5 431.1 1713.5 431.9C1713.5 432.7 1713.6 433.6 1713.6 434.4C1713.7 435.2 1713.7 436.1 1713.8 436.9C1713.8 437.7 1713.8 438.6 1713.9 439.4C1713.9 440.2 1714 441.1 1714 441.9C1714.1 442.7 1714.1 443.6 1714.2 444.4C1714.3 445.2 1714.4 446.1 1714.5 446.9C1714.6 447.7 1714.7 448.5 1714.8 449.4C1715 450.2 1715.1 451 1715.4 451.8C1715.7 452.5 1716 453.4 1716.5 453.9C1717 454.4 1717.7 454.7 1718.4 454.7C1719.1 454.8 1719.9 454.4 1720.7 454.2C1721.4 453.9 1722.2 453.5 1722.9 453.1C1723.7 452.7 1724.4 452.3 1725.1 451.9C1725.8 451.4 1726.5 451 1727.2 450.5C1727.9 450 1728.5 449.5 1729.2 448.9C1729.8 448.4 1730.4 447.8 1731 447.2C1731.6 446.6 1732.1 446 1732.7 445.4C1733.3 444.9 1733.9 444.3 1734.5 443.7C1735.2 443.1 1735.8 442.6 1736.5 442.1C1737.1 441.6 1737.8 441.1 1738.5 440.7C1739.2 440.2 1739.9 439.8 1740.6 439.4C1741.4 438.9 1742.1 438.5 1742.8 438.2C1743.6 437.8 1744.3 437.4 1745.1 437.1C1745.9 436.8 1746.6 436.5 1747.4 436.2C1748.2 435.9 1749 435.6 1749.8 435.4C1750.6 435.1 1751.4 434.9 1752.2 434.7C1753 434.6 1753.9 434.4 1754.7 434.3C1755.5 434.1 1756.3 434 1757.2 433.9C1758 433.9 1758.8 433.8 1759.7 433.8C1760.5 433.8 1761.3 433.8 1762.2 433.9C1763 433.9 1763.8 434 1764.7 434C1765.5 434.1 1766.3 434.2 1767.2 434.3C1768 434.4 1768.8 434.5 1769.6 434.7C1770.5 434.8 1771.3 434.9 1772.1 435.1C1772.9 435.2 1773.7 435.4 1774.6 435.6C1775.4 435.8 1776.2 435.9 1777 436.1C1777.8 436.4 1778.6 436.6 1779.4 436.8C1780.2 437 1781 437.3 1781.8 437.5C1782.6 437.8 1783.4 438.1 1784.2 438.4C1785 438.7 1785.7 439 1786.5 439.3C1787.3 439.6 1788 439.9 1788.8 440.3C1789.6 440.6 1790.3 440.9 1791.1 441.3C1791.8 441.6 1792.6 442 1793.3 442.4C1794.1 442.8 1794.8 443.1 1795.6 443.5C1796.3 443.9 1797 444.3 1797.8 444.7C1798.5 445.1 1799.2 445.5 1799.9 446C1800.7 446.4 1801.4 446.8 1802.1 447.3C1802.8 447.7 1803.5 448.2 1804.2 448.6C1804.9 449.1 1805.6 449.5 1806.3 450C1807 450.4 1807.7 450.9 1808.4 451.4C1809.1 451.9 1809.7 452.3 1810.4 452.8C1811.1 453.3 1811.8 453.8 1812.5 454.3C1813.1 454.8 1813.8 455.3 1814.5 455.8C1815.2 456.3 1815.8 456.8 1816.5 457.3C1817.2 457.8 1817.8 458.3 1818.5 458.8C1819.1 459.3 1819.8 459.8 1820.4 460.3C1821.1 460.9 1821.7 461.4 1822.4 461.9C1823 462.5 1823.7 463 1824.3 463.5C1824.9 464.1 1825.6 464.6 1826.2 465.2C1826.8 465.7 1827.4 466.3 1828.1 466.8C1828.7 467.4 1829.3 468 1829.9 468.6C1830.5 469.1 1831.1 469.7 1831.7 470.3C1832.3 470.9 1832.9 471.5 1833.5 472C1834.1 472.6 1834.7 473.2 1835.3 473.8C1835.8 474.4 1836.4 475 1837 475.6C1837.6 476.2 1838.1 476.9 1838.7 477.5C1839.3 478.1 1839.8 478.7 1840.4 479.3C1841 479.9 1841.5 480.5 1842.1 481.1C1842.7 481.8 1843.2 482.4 1843.8 483C1844.4 483.6 1844.9 484.2 1845.5 484.9C1846 485.5 1846.6 486.1 1847.1 486.7C1847.7 487.4 1848.2 488 1848.8 488.6C1849.3 489.3 1849.8 489.9 1850.4 490.5C1850.9 491.2 1851.4 491.8 1852 492.5C1852.5 493.1 1853 493.8 1853.5 494.4C1854 495.1 1854.5 495.8 1855 496.4C1855.5 497.1 1856 497.8 1856.5 498.5C1857 499.1 1857.5 499.8 1858 500.5C1858.5 501.2 1858.9 501.9 1859.4 502.5C1859.9 503.2 1860.4 503.9 1860.8 504.6C1861.3 505.3 1861.7 506 1862.2 506.7C1862.6 507.4 1863.1 508.1 1863.5 508.8C1864 509.5 1864.4 510.3 1864.9 511C1865.3 511.7 1865.7 512.4 1866.2 513.1C1866.6 513.8 1867 514.5 1867.4 515.3C1867.9 516 1868.3 516.7 1868.7 517.4C1869.1 518.1 1869.5 518.9 1870 519.6C1870.4 520.3 1870.8 521 1871.2 521.8C1871.6 522.5 1872 523.2 1872.4 524C1872.8 524.7 1873.2 525.4 1873.6 526.2C1874 526.9 1874.4 527.6 1874.8 528.4C1875.2 529.1 1875.5 529.9 1875.9 530.6C1876.3 531.3 1876.7 532.1 1877.1 532.8C1877.5 533.6 1877.9 534.3 1878.2 535.1C1878.6 535.8 1879 536.5 1879.3 537.3C1879.7 538 1880.1 538.8 1880.4 539.6C1880.8 540.3 1881.1 541.1 1881.5 541.8C1881.8 542.6 1882.2 543.3 1882.5 544.1C1882.9 544.9 1883.2 545.6 1883.6 546.4C1883.9 547.1 1884.3 547.9 1884.6 548.7C1885 549.4 1885.3 550.2 1885.7 550.9C1886 551.7 1886.4 552.5 1886.7 553.2C1887.1 554 1887.4 554.7 1887.7 555.5C1888.1 556.3 1888.4 557 1888.8 557.8C1889.1 558.5 1889.4 559.3 1889.8 560.1C1890.1 560.8 1890.4 561.6 1890.8 562.4C1891.1 563.1 1891.4 563.9 1891.8 564.7C1892.2 565.4 1892.5 566.2 1892.9 566.9C1893.3 567.6 1893.7 568.4 1894.1 569.1C1894.5 569.8 1894.9 570.6 1895.3 571.3C1895.7 572 1896.1 572.8 1896.5 573.5C1897 574.2 1897.4 574.9 1897.9 575.6C1898.3 576.3 1898.9 577.1 1899.4 577.4C1900 577.8 1900.7 578.1 1901.2 577.9C1901.7 577.7 1902.2 577 1902.5 576.3C1902.8 575.7 1903 574.8 1903.2 574C1903.4 573.2 1903.6 572.3 1903.7 571.5C1903.9 570.7 1904.1 569.9 1904.2 569.1C1904.4 568.2 1904.5 567.4 1904.7 566.6C1904.9 565.8 1905 565 1905.2 564.1C1905.3 563.3 1905.5 562.5 1905.6 561.7C1905.8 560.9 1905.9 560 1906 559.2C1906.2 558.4 1906.3 557.6 1906.4 556.7C1906.5 555.9 1906.7 555.1 1906.8 554.3C1906.9 553.4 1907.1 552.6 1907.2 551.8C1907.4 551 1907.6 550.2 1907.7 549.3C1907.9 548.5 1908.1 547.7 1908.3 546.9C1908.5 546.1 1908.7 545.3 1908.9 544.5C1909.1 543.7 1909.3 542.8 1909.5 542C1909.7 541.2 1909.9 540.4 1910.2 539.6C1910.4 538.8 1910.6 538 1910.8 537.2C1911 536.4 1911.3 535.3 1911.4 534.8C1911.6 534.2 1911.4 533.6 1911.7 533.8C1912 534 1912.7 534.9 1913 536.2C1913.3 537.5 1913.5 540.9 1913.6 541.8" fill="none" stroke="#ff0000" stroke-width="4" stroke-linecap="round" stroke-linejoin="round"/>
<polyline points="1116.5,36.6 1104.5,37 1111.5,510 1284,694.5 1938.5,634" fill="none" stroke="#000" stroke-width="3.6" stroke-linejoin="miter"/><line x1="1111.5" y1="510" x2="1123.5" y2="509.1" stroke="#000" stroke-width="2.6"/><line x1="1111.1" y1="484.3" x2="1118.1" y2="483.7" stroke="#000" stroke-width="2.6"/><line x1="1110.7" y1="458.6" x2="1122.7" y2="457.7" stroke="#000" stroke-width="2.6"/><line x1="1110.4" y1="432.9" x2="1117.3" y2="432.4" stroke="#000" stroke-width="2.6"/><line x1="1110" y1="407.2" x2="1121.9" y2="406.4" stroke="#000" stroke-width="2.6"/><line x1="1109.6" y1="381.6" x2="1116.6" y2="381.1" stroke="#000" stroke-width="2.6"/><line x1="1109.2" y1="356" x2="1121.2" y2="355.2" stroke="#000" stroke-width="2.6"/><line x1="1108.8" y1="330.4" x2="1115.8" y2="329.9" stroke="#000" stroke-width="2.6"/><line x1="1108.5" y1="304.8" x2="1120.4" y2="304" stroke="#000" stroke-width="2.6"/><line x1="1108.1" y1="278.2" x2="1115.1" y2="277.8" stroke="#000" stroke-width="2.6"/><line x1="1107.7" y1="251.8" x2="1119.7" y2="251" stroke="#000" stroke-width="2.6"/><line x1="1107.3" y1="225.2" x2="1114.3" y2="224.8" stroke="#000" stroke-width="2.6"/><line x1="1106.9" y1="198.8" x2="1118.9" y2="198.1" stroke="#000" stroke-width="2.6"/><line x1="1106.5" y1="172.1" x2="1113.5" y2="171.7" stroke="#000" stroke-width="2.6"/><line x1="1106.1" y1="145.5" x2="1118.1" y2="144.9" stroke="#000" stroke-width="2.6"/><line x1="1105.7" y1="118.5" x2="1112.7" y2="118.1" stroke="#000" stroke-width="2.6"/><line x1="1105.3" y1="91.5" x2="1117.3" y2="90.9" stroke="#000" stroke-width="2.6"/><line x1="1104.9" y1="64.2" x2="1111.9" y2="63.9" stroke="#000" stroke-width="2.6"/><line x1="1122.7" y1="522" x2="1136.1" y2="520.7" stroke="#000" stroke-width="2.6"/><line x1="1147.3" y1="548.2" x2="1160.6" y2="547" stroke="#000" stroke-width="2.6"/><line x1="1171.8" y1="574.5" x2="1185.1" y2="573.2" stroke="#000" stroke-width="2.6"/><line x1="1198.7" y1="603.2" x2="1212" y2="602" stroke="#000" stroke-width="2.6"/><line x1="1225.3" y1="631.8" x2="1238.7" y2="630.5" stroke="#000" stroke-width="2.6"/><line x1="1254.5" y1="663" x2="1267.9" y2="661.7" stroke="#000" stroke-width="2.6"/><line x1="1135" y1="535.1" x2="1143" y2="534.4" stroke="#000" stroke-width="2.6"/><line x1="1159.5" y1="561.4" x2="1167.5" y2="560.6" stroke="#000" stroke-width="2.6"/><line x1="1185.2" y1="588.9" x2="1193.2" y2="588.1" stroke="#000" stroke-width="2.6"/><line x1="1212" y1="617.5" x2="1220" y2="616.7" stroke="#000" stroke-width="2.6"/><line x1="1239.9" y1="647.4" x2="1247.9" y2="646.6" stroke="#000" stroke-width="2.6"/><line x1="1269.3" y1="678.8" x2="1277.2" y2="678" stroke="#000" stroke-width="2.6"/><line x1="1506.8" y1="674" x2="1505" y2="669.4" stroke="#000" stroke-width="4.4" stroke-linecap="round"/><line x1="1722.3" y1="654" x2="1720.5" y2="649.4" stroke="#000" stroke-width="4.4" stroke-linecap="round"/><line x1="1397.3" y1="684.1" x2="1396.4" y2="680.9" stroke="#000" stroke-width="2.6" stroke-linecap="round"/><line x1="1616.3" y1="663.8" x2="1615.4" y2="660.6" stroke="#000" stroke-width="2.6" stroke-linecap="round"/><line x1="1829.8" y1="644.1" x2="1828.9" y2="640.9" stroke="#000" stroke-width="2.6" stroke-linecap="round"/><line x1="1936" y1="634" x2="1933" y2="630.4" stroke="#000" stroke-width="4.2" stroke-linecap="round"/>
<line x1="1209" y1="39.5" x2="1260" y2="39.5" stroke="#0000ff" stroke-width="4" stroke-linecap="round"/>
<line x1="1209" y1="65" x2="1260" y2="65" stroke="#00ff00" stroke-width="4" stroke-linecap="round"/>
<line x1="1209" y1="90.8" x2="1260" y2="90.8" stroke="#ffff00" stroke-width="4" stroke-linecap="round"/>
<line x1="1209" y1="116.8" x2="1260" y2="116.8" stroke="#ff0000" stroke-width="4" stroke-linecap="round"/>
</g>
<g font-weight="bold"><text transform="matrix(1.3 0 0 1.0114 63.5 514.15)" font-size="27" stroke="#000" stroke-width="0.3" vector-effect="non-scaling-stroke" stroke-linejoin="round">0.55</text>
<text transform="matrix(1.3066 0 0 1.0114 62.3944 480.9362)" font-size="27" stroke="#000" stroke-width="0.3" vector-effect="non-scaling-stroke" stroke-linejoin="round">0.60</text>
<text transform="matrix(1.3073 0 0 1.0114 61.0643 447.5234)" font-size="27" stroke="#000" stroke-width="0.3" vector-effect="non-scaling-stroke" stroke-linejoin="round">0.65</text>
<text transform="matrix(1.3082 0 0 1.0114 59.9714 413.9116)" font-size="27" stroke="#000" stroke-width="0.3" vector-effect="non-scaling-stroke" stroke-linejoin="round">0.70</text>
<text transform="matrix(1.3091 0 0 1.0114 58.8786 380.1009)" font-size="27" stroke="#000" stroke-width="0.3" vector-effect="non-scaling-stroke" stroke-linejoin="round">0.75</text>
<text transform="matrix(1.3101 0 0 1.0114 57.7857 346.0911)" font-size="27" stroke="#000" stroke-width="0.3" vector-effect="non-scaling-stroke" stroke-linejoin="round">0.80</text>
<text transform="matrix(1.311 0 0 1.0114 56.6929 311.8823)" font-size="27" stroke="#000" stroke-width="0.3" vector-effect="non-scaling-stroke" stroke-linejoin="round">0.85</text>
<text transform="matrix(1.3119 0 0 1.0114 55.6 277.4745)" font-size="27" stroke="#000" stroke-width="0.3" vector-effect="non-scaling-stroke" stroke-linejoin="round">0.90</text>
<text transform="matrix(1.3134 0 0 1.0114 54.4814 242.8677)" font-size="27" stroke="#000" stroke-width="0.3" vector-effect="non-scaling-stroke" stroke-linejoin="round">0.95</text>
<text transform="matrix(1.3483 0 0 1.0114 51.8214 208.0619)" font-size="27" stroke="#000" stroke-width="0.3" vector-effect="non-scaling-stroke" stroke-linejoin="round">1.00</text>
<text transform="matrix(1.3493 0 0 1.0114 50.7267 173.0571)" font-size="27" stroke="#000" stroke-width="0.3" vector-effect="non-scaling-stroke" stroke-linejoin="round">1.05</text>
<text transform="matrix(1.3502 0 0 1.0114 49.632 137.8534)" font-size="27" stroke="#000" stroke-width="0.3" vector-effect="non-scaling-stroke" stroke-linejoin="round">1.10</text>
<text transform="matrix(1.3455 0 0 1.0225 48.5481 102.4506)" font-size="27" stroke="#000" stroke-width="0.3" vector-effect="non-scaling-stroke" stroke-linejoin="round">1.15</text>
<text transform="matrix(1.3522 0 0 1.0114 47.4425 66.8488)" font-size="27" stroke="#000" stroke-width="0.3" vector-effect="non-scaling-stroke" stroke-linejoin="round">1.20</text>
<text transform="matrix(1.3475 0 0 1.0114 46.3587 31.048)" font-size="27" stroke="#000" stroke-width="0.3" vector-effect="non-scaling-stroke" stroke-linejoin="round">1.25</text>
<text transform="matrix(2.1372 -0.1757 0.3213 0.5796 112.6861 521.15)" font-size="20" stroke="#000" stroke-width="0.55" vector-effect="non-scaling-stroke" stroke-linejoin="round">0</text>
<text transform="matrix(2.2175 -0.1823 0.3199 0.577 103.6313 547.55)" font-size="20" stroke="#000" stroke-width="0.55" vector-effect="non-scaling-stroke" stroke-linejoin="round">20</text>
<text transform="matrix(2.241 -0.1842 0.3366 0.6073 117.5143 574.75)" font-size="20" stroke="#000" stroke-width="0.55" vector-effect="non-scaling-stroke" stroke-linejoin="round">40</text>
<text transform="matrix(2.2769 -0.1872 0.3414 0.6159 131.0795 602.475)" font-size="20" stroke="#000" stroke-width="0.55" vector-effect="non-scaling-stroke" stroke-linejoin="round">60</text>
<text transform="matrix(2.3472 -0.193 0.3627 0.6544 146.3115 632.4917)" font-size="20" stroke="#000" stroke-width="0.55" vector-effect="non-scaling-stroke" stroke-linejoin="round">80</text>
<text transform="matrix(2.4336 -0.2001 0.3967 0.7157 137.8676 666.625)" font-size="20" stroke="#000" stroke-width="0.55" vector-effect="non-scaling-stroke" stroke-linejoin="round">100</text>
<text transform="matrix(2.4939 -0.205 0.4185 0.755 154.2442 700.25)" font-size="20" stroke="#000" stroke-width="0.55" vector-effect="non-scaling-stroke" stroke-linejoin="round">120</text>
<text transform="matrix(0.4802 0.8663 -2.5556 0.2101 227.4237 694.7211)" font-size="20" stroke="#000" stroke-width="0.9" vector-effect="non-scaling-stroke" stroke-linejoin="round">4</text>
<text transform="matrix(0.7291 0.9468 -2.3458 0.1929 457.76 676.005)" font-size="20" stroke="#000" stroke-width="0.9" vector-effect="non-scaling-stroke" stroke-linejoin="round">8</text>
<text transform="matrix(0.788 0.7826 -2.3356 0.192 679.3 659.6912)" font-size="20" stroke="#000" stroke-width="0.9" vector-effect="non-scaling-stroke" stroke-linejoin="round">12</text>
<text transform="matrix(0.9793 0.8015 -2.1738 0.1787 892.45 641.8391)" font-size="20" stroke="#000" stroke-width="0.9" vector-effect="non-scaling-stroke" stroke-linejoin="round">16</text>
<text transform="matrix(0.0269 0.7914 -0.956 0 4.1326 114.683)" font-size="45">Contact stress (Mpa)</text>
<text transform="matrix(0.2099 0.5959 -2.3975 0.134 24.3898 552.9433)" font-size="30">Path length (mm)</text>
<text transform="matrix(2.0239 -0.1664 0.3695 0.7252 433.0639 716.55)" font-size="24" stroke="#000" stroke-width="0.55" vector-effect="non-scaling-stroke" stroke-linejoin="round">Dislocation (mm)</text>
<text transform="matrix(1.1889 0 0 0.9422 597.6 72.7338)" font-size="27.5" stroke="#000" stroke-width="0.3" vector-effect="non-scaling-stroke" stroke-linejoin="round">Opening 3 mm</text>
<text transform="matrix(1.1889 0 0 0.9422 597.6 107.2338)" font-size="27.5" stroke="#000" stroke-width="0.3" vector-effect="non-scaling-stroke" stroke-linejoin="round">Opening 6 mm</text>
<text transform="matrix(1.1889 0 0 0.9422 597.6 141.8338)" font-size="27.5" stroke="#000" stroke-width="0.3" vector-effect="non-scaling-stroke" stroke-linejoin="round">Opening 9 mm</text>
<text transform="matrix(1.1885 0 0 0.9527 597.5 176.6283)" font-size="27.5" stroke="#000" stroke-width="0.3" vector-effect="non-scaling-stroke" stroke-linejoin="round">Opening 12 mm</text>
<text transform="matrix(1.3015 0 0 0.98 1060.5385 520.2)" font-size="24" stroke="#000" stroke-width="0.3" vector-effect="non-scaling-stroke" stroke-linejoin="round">0.6</text>
<text transform="matrix(1.292 0 0 0.98 1059.8444 468.9492)" font-size="24" stroke="#000" stroke-width="0.3" vector-effect="non-scaling-stroke" stroke-linejoin="round">0.7</text>
<text transform="matrix(1.2983 0 0 0.98 1058.9389 417.3524)" font-size="24" stroke="#000" stroke-width="0.3" vector-effect="non-scaling-stroke" stroke-linejoin="round">0.8</text>
<text transform="matrix(1.3034 0 0 0.98 1058.0333 365.4097)" font-size="24" stroke="#000" stroke-width="0.3" vector-effect="non-scaling-stroke" stroke-linejoin="round">0.9</text>
<text transform="matrix(1.3563 0 0 0.98 1055.5521 313.1209)" font-size="24" stroke="#000" stroke-width="0.3" vector-effect="non-scaling-stroke" stroke-linejoin="round">1.0</text>
<text transform="matrix(1.3631 0 0 0.995 1054.8825 260.4486)" font-size="24" stroke="#000" stroke-width="0.3" vector-effect="non-scaling-stroke" stroke-linejoin="round">1.1</text>
<text transform="matrix(1.3514 0 0 0.98 1054.0013 207.5053)" font-size="24" stroke="#000" stroke-width="0.3" vector-effect="non-scaling-stroke" stroke-linejoin="round">1.2</text>
<text transform="matrix(1.3397 0 0 0.98 1053.1201 154.1786)" font-size="24" stroke="#000" stroke-width="0.3" vector-effect="non-scaling-stroke" stroke-linejoin="round">1.3</text>
<text transform="matrix(1.3188 0 0 0.995 1052.2581 100.4683)" font-size="24" stroke="#000" stroke-width="0.3" vector-effect="non-scaling-stroke" stroke-linejoin="round">1.4</text>
<text transform="matrix(1.3348 0 0 0.995 1051.3192 46.4495)" font-size="24" stroke="#000" stroke-width="0.3" vector-effect="non-scaling-stroke" stroke-linejoin="round">1.5</text>
<text transform="matrix(1.8398 -0.1739 0.4583 0.4915 1095.6333 528.775)" font-size="20" stroke="#000" stroke-width="0.55" vector-effect="non-scaling-stroke" stroke-linejoin="round">0</text>
<text transform="matrix(1.873 -0.1771 0.4163 0.4464 1100.4239 555.7)" font-size="20" stroke="#000" stroke-width="0.55" vector-effect="non-scaling-stroke" stroke-linejoin="round">20</text>
<text transform="matrix(1.9021 -0.1798 0.4092 0.4388 1124.825 583.5286)" font-size="20" stroke="#000" stroke-width="0.55" vector-effect="non-scaling-stroke" stroke-linejoin="round">40</text>
<text transform="matrix(1.8945 -0.1791 0.514 0.5512 1150.8527 611.375)" font-size="20" stroke="#000" stroke-width="0.55" vector-effect="non-scaling-stroke" stroke-linejoin="round">60</text>
<text transform="matrix(1.9602 -0.1853 0.4957 0.5315 1177.1605 640.6)" font-size="20" stroke="#000" stroke-width="0.55" vector-effect="non-scaling-stroke" stroke-linejoin="round">80</text>
<text transform="matrix(1.9879 -0.1879 0.5945 0.6375 1185.2571 674.025)" font-size="20" stroke="#000" stroke-width="0.55" vector-effect="non-scaling-stroke" stroke-linejoin="round">100</text>
<text transform="matrix(2.0161 -0.1906 0.6459 0.6926 1213.8413 707.1924)" font-size="20" stroke="#000" stroke-width="0.55" vector-effect="non-scaling-stroke" stroke-linejoin="round">120</text>
<text transform="matrix(0.6626 0.7056 -2.0309 0.192 1275.325 700.75)" font-size="20" stroke="#000" stroke-width="0.9" vector-effect="non-scaling-stroke" stroke-linejoin="round">4</text>
<text transform="matrix(0.6628 0.5989 -1.865 0.1763 1502.3 679.2083)" font-size="20" stroke="#000" stroke-width="0.9" vector-effect="non-scaling-stroke" stroke-linejoin="round">8</text>
<text transform="matrix(0.7527 0.5923 -1.8135 0.1714 1720.4068 658.627)" font-size="20" stroke="#000" stroke-width="0.9" vector-effect="non-scaling-stroke" stroke-linejoin="round">12</text>
<text transform="matrix(0.8891 0.6203 -1.592 0.1505 1931.6519 638.1755)" font-size="20" stroke="#000" stroke-width="0.9" vector-effect="non-scaling-stroke" stroke-linejoin="round">16</text>
<text transform="matrix(0.0187 0.7127 -0.9094 0 1011.952 151.95)" font-size="41">Contact stress (MPa)</text>
<text transform="matrix(0.4049 0.5 -1.8639 0.1467 1038.9 568.7995)" font-size="30">Path length (mm)</text>
<text transform="matrix(2.1998 -0.2234 0.5369 0.6536 1451.1794 720.45)" font-size="24" stroke="#000" stroke-width="0.55" vector-effect="non-scaling-stroke" stroke-linejoin="round">Dislocation (mm)</text>
<text transform="matrix(1.2274 0 0 0.9394 1270.2431 46.7839)" font-size="21" stroke="#000" stroke-width="0.3" vector-effect="non-scaling-stroke" stroke-linejoin="round">Opening 3 mm</text>
<text transform="matrix(1.2274 0 0 0.9394 1270.2431 72.2839)" font-size="21" stroke="#000" stroke-width="0.3" vector-effect="non-scaling-stroke" stroke-linejoin="round">Opening 6 mm</text>
<text transform="matrix(1.2274 0 0 0.9394 1270.2431 97.7839)" font-size="21" stroke="#000" stroke-width="0.3" vector-effect="non-scaling-stroke" stroke-linejoin="round">Opening 9 mm</text>
<text transform="matrix(1.2304 0 0 0.9421 1270.55 123.3268)" font-size="21" stroke="#000" stroke-width="0.3" vector-effect="non-scaling-stroke" stroke-linejoin="round">Opening 12 mm</text>
<text transform="matrix(1.0144 0 0 1.0692 359.2718 812.2618)" font-size="42.8" font-weight="normal">(a) Left side</text>
<text transform="matrix(1.0136 0 0 1.075 1375.5 812)" font-size="42.8" font-weight="normal">(b) Right side</text></g>
</svg>
</body></html>
